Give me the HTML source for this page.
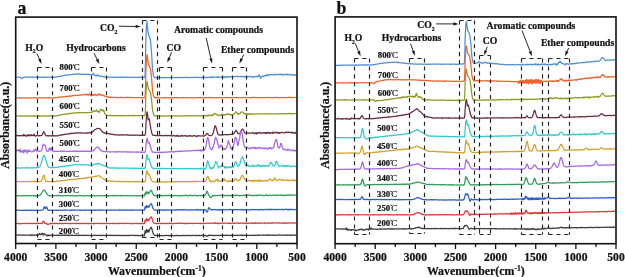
<!DOCTYPE html>
<html><head><meta charset="utf-8"><style>
html,body{margin:0;padding:0;background:#fff;width:625px;height:277px;overflow:hidden}
svg{display:block;will-change:transform}
text{font-family:"Liberation Serif",serif;font-weight:bold;fill:#111;stroke:#111;stroke-width:0.22px}
.tr{fill:none;stroke-width:1.25;stroke-linejoin:round}
.db{fill:none;stroke:#222;stroke-width:1.15;stroke-dasharray:4.1 3.8}
.tk{font-size:11.6px}
.tl{font-size:8.7px}
.deg{font-size:6px;font-weight:normal}
.cc{font-weight:normal;font-size:8.8px}
.an{font-size:9.7px}
.sub{font-size:5.8px}
.sup{font-size:7.6px}
.ax{font-size:11.85px}
.pl{font-size:17.8px}
</style></head><body>
<svg width="625" height="277" viewBox="0 0 625 277">
<rect width="625" height="277" fill="#fff"/>
<path d="M16.2 77.20L16.7 77.24L17.2 77.17L17.7 77.09L18.2 77.15L18.7 77.08L19.2 77.21L19.7 77.38L20.2 77.25L20.7 77.50L21.2 78.11L21.7 78.55L22.2 78.57L22.7 78.04L23.2 77.65L23.7 77.43L24.2 77.07L24.7 77.15L25.2 76.97L25.7 77.05L26.2 76.98L26.7 77.17L27.2 77.05L27.7 77.23L28.2 77.22L28.7 77.18L29.2 76.90L29.7 77.14L30.2 77.19L30.7 77.21L31.2 77.02L31.7 77.14L32.2 77.08L32.7 77.10L33.2 77.33L33.7 77.10L34.2 77.20L34.7 77.31L35.2 77.13L35.7 77.19L36.2 77.21L36.7 77.21L37.2 77.05L37.7 77.21L38.2 77.36L38.7 77.01L39.2 77.30L39.7 77.21L40.2 77.12L40.7 77.44L41.2 77.29L41.7 77.06L42.2 77.21L42.7 77.27L43.2 77.18L43.7 77.28L44.2 77.19L44.7 77.28L45.2 77.37L45.7 77.12L46.2 77.22L46.7 77.14L47.2 77.22L47.7 77.06L48.2 77.13L48.7 77.18L49.2 77.31L49.7 77.34L50.2 77.04L50.7 77.10L51.2 77.28L51.7 76.96L52.2 77.14L52.7 77.19L53.2 77.35L53.7 77.28L54.2 77.16L54.7 77.16L55.2 77.13L55.7 77.26L56.2 76.93L56.7 76.85L57.2 76.84L57.7 76.69L58.2 76.59L58.7 76.39L59.2 76.43L59.7 76.29L60.2 76.39L60.7 76.24L61.2 76.07L61.7 76.06L62.2 75.85L62.7 75.93L63.2 75.71L63.7 75.69L64.2 75.37L64.7 75.48L65.2 75.14L65.7 75.01L66.2 75.14L66.7 75.02L67.2 75.09L67.7 75.28L68.2 74.86L68.7 74.83L69.2 74.87L69.7 74.85L70.2 74.72L70.7 74.66L71.2 74.71L71.7 74.64L72.2 74.39L72.7 74.45L73.2 74.41L73.7 74.23L74.2 74.33L74.7 74.14L75.2 74.30L75.7 74.16L76.2 74.12L76.7 74.05L77.2 74.12L77.7 73.91L78.2 74.03L78.7 74.22L79.2 73.94L79.7 74.31L80.2 74.01L80.7 74.33L81.2 74.15L81.7 74.36L82.2 74.29L82.7 74.11L83.2 74.46L83.7 74.49L84.2 74.33L84.7 74.32L85.2 74.34L85.7 74.26L86.2 74.52L86.7 74.34L87.2 74.41L87.7 74.34L88.2 73.87L88.7 74.45L89.2 74.70L89.7 74.56L90.2 74.76L90.7 74.41L91.2 74.51L91.7 74.89L92.2 74.87L92.7 74.76L93.2 73.40L93.7 73.92L94.2 74.98L94.7 75.37L95.2 75.61L95.7 75.29L96.2 76.16L96.7 75.60L97.2 74.95L97.7 75.57L98.2 75.25L98.7 75.35L99.2 75.50L99.7 76.47L100.2 76.09L100.7 76.19L101.2 76.18L101.7 76.42L102.2 76.39L102.7 76.53L103.2 76.51L103.7 76.59L104.2 76.99L104.7 76.84L105.2 76.97L105.7 76.96L106.2 76.94L106.7 76.96L107.2 77.12L107.7 77.04L108.2 77.08L108.7 77.13L109.2 77.30L109.7 77.26L110.2 77.25L110.7 77.14L111.2 77.04L111.7 77.33L112.2 77.33L112.7 77.20L113.2 77.29L113.7 77.32L114.2 77.33L114.7 77.35L115.2 77.19L115.7 77.43L116.2 77.10L116.7 77.36L117.2 77.32L117.7 77.37L118.2 77.49L118.7 77.45L119.2 77.14L119.7 77.07L120.2 77.38L120.7 77.16L121.2 77.29L121.7 77.39L122.2 77.10L122.7 77.05L123.2 77.34L123.7 77.31L124.2 77.28L124.7 77.32L125.2 77.22L125.7 77.14L126.2 77.31L126.7 77.22L127.2 77.14L127.7 77.40L128.2 77.34L128.7 77.40L129.2 77.23L129.7 77.28L130.2 77.24L130.7 77.26L131.2 77.39L131.7 77.28L132.2 77.42L132.7 77.42L133.2 77.63L133.7 77.22L134.2 77.50L134.7 77.39L135.2 77.40L135.7 77.23L136.2 77.35L136.7 77.50L137.2 77.41L137.7 77.43L138.2 77.39L138.7 77.57L139.2 77.43L139.7 77.17L140.2 77.36L140.7 77.21L141.2 77.06L141.7 77.39L142.2 77.62L142.7 77.47L143.2 77.32L143.7 77.36L144.2 77.61L144.6 77.50L145.1 75.25L145.5 60.71L145.7 45.07L146.4 25.60L147.0 21.66L147.6 28.33L148.2 33.22L148.7 35.09L149.5 36.63L150.5 40.76L151.5 52.22L152.5 69.14L153.5 75.87L154.5 77.40L155.2 77.77L155.7 77.74L156.2 77.51L156.7 77.67L157.2 77.62L157.7 77.27L158.2 77.62L158.7 77.58L159.2 77.60L159.7 77.47L160.2 77.57L160.7 77.58L161.2 77.74L161.7 77.63L162.2 77.59L162.7 77.77L163.2 77.52L163.7 77.54L164.2 77.37L164.7 77.77L165.2 77.69L165.7 77.69L166.2 77.66L166.7 77.59L167.2 77.60L167.7 77.54L168.2 77.54L168.7 77.57L169.2 77.74L169.7 77.63L170.2 77.55L170.7 77.49L171.2 77.48L171.7 77.75L172.2 77.61L172.7 77.56L173.2 77.51L173.7 77.41L174.2 77.54L174.7 77.65L175.2 77.49L175.7 77.51L176.2 77.51L176.7 77.55L177.2 77.34L177.7 77.50L178.2 77.42L178.7 77.63L179.2 77.43L179.7 77.59L180.2 77.70L180.7 77.48L181.2 77.44L181.7 77.54L182.2 77.51L182.7 77.39L183.2 77.56L183.7 77.75L184.2 77.47L184.7 77.48L185.2 77.37L185.7 77.54L186.2 77.35L186.7 77.36L187.2 77.64L187.7 77.38L188.2 77.62L188.7 77.67L189.2 77.51L189.7 77.55L190.2 77.71L190.7 77.45L191.2 77.40L191.7 77.31L192.2 77.48L192.7 77.65L193.2 77.58L193.7 77.35L194.2 77.36L194.7 77.40L195.2 77.49L195.7 77.43L196.2 77.48L196.7 77.49L197.2 77.42L197.7 77.44L198.2 77.47L198.7 77.44L199.2 77.50L199.7 77.67L200.2 77.44L200.7 77.50L201.2 77.58L201.7 77.80L202.2 77.18L202.7 77.21L203.2 77.28L203.7 77.37L204.2 77.49L204.7 77.30L205.2 77.40L205.7 77.53L206.2 77.34L206.7 77.67L207.2 77.58L207.7 77.43L208.2 77.48L208.7 77.48L209.2 77.32L209.7 77.34L210.2 77.21L210.7 76.91L211.2 77.61L211.7 77.46L212.2 77.52L212.7 76.92L213.2 77.29L213.7 77.15L214.2 77.05L214.7 76.76L215.2 77.01L215.7 77.22L216.2 77.37L216.7 77.04L217.2 77.19L217.7 77.43L218.2 76.38L218.7 77.00L219.2 77.24L219.7 77.27L220.2 77.37L220.7 77.41L221.2 77.13L221.7 76.94L222.2 77.06L222.7 76.98L223.2 77.03L223.7 76.91L224.2 77.50L224.7 76.97L225.2 77.07L225.7 76.89L226.2 77.11L226.7 76.72L227.2 77.45L227.7 76.62L228.2 76.97L228.7 76.68L229.2 76.96L229.7 76.78L230.2 76.71L230.7 76.86L231.2 76.57L231.7 76.83L232.2 76.73L232.7 76.55L233.2 76.60L233.7 76.59L234.2 76.62L234.7 76.55L235.2 76.50L235.7 76.57L236.2 76.48L236.7 76.45L237.2 76.60L237.7 76.72L238.2 76.43L238.7 76.61L239.2 76.54L239.7 76.50L240.2 76.34L240.7 76.33L241.2 76.89L241.7 76.37L242.2 76.29L242.7 76.86L243.2 76.66L243.7 76.83L244.2 76.50L244.7 76.97L245.2 76.57L245.7 76.78L246.2 76.40L246.7 76.44L247.2 76.81L247.7 76.36L248.2 76.81L248.7 76.51L249.2 76.50L249.7 76.54L250.2 76.35L250.7 76.88L251.2 76.63L251.7 76.37L252.2 76.84L252.7 77.14L253.2 77.03L253.7 76.73L254.2 76.63L254.7 76.97L255.2 76.71L255.7 76.34L256.2 76.76L256.7 76.68L257.2 76.33L257.7 76.05L258.2 76.51L258.7 76.23L259.2 74.79L259.7 75.68L260.2 77.53L260.7 78.31L261.2 77.33L261.7 76.73L262.2 76.24L262.7 76.30L263.2 75.95L263.7 76.61L264.2 76.19L264.7 75.66L265.2 75.57L265.7 75.58L266.2 75.89L266.7 74.67L267.2 75.07L267.7 74.91L268.2 75.75L268.7 74.97L269.2 74.66L269.7 74.58L270.2 74.90L270.7 74.62L271.2 74.53L271.7 74.78L272.2 74.55L272.7 74.48L273.2 74.37L273.7 75.03L274.2 74.98L274.7 74.70L275.2 74.62L275.7 74.07L276.2 74.75L276.7 74.71L277.2 74.94L277.7 74.77L278.2 74.45L278.7 74.20L279.2 74.66L279.7 74.37L280.2 74.57L280.7 74.39L281.2 74.66L281.7 74.09L282.2 75.02L282.7 74.74L283.2 74.89L283.7 75.09L284.2 74.70L284.7 74.21L285.2 74.54L285.7 74.44L286.2 74.46L286.7 74.78L287.2 74.10L287.7 74.78L288.2 74.37L288.7 74.61L289.2 74.78L289.7 74.74L290.2 74.77L290.7 74.63L291.2 74.63L291.7 74.30L292.2 74.80L292.7 75.24L293.2 75.36L293.7 75.05L294.2 75.08L294.7 74.73L295.2 75.23L295.7 74.83L296.2 74.97" stroke="#4f8fd4" class="tr"/>
<path d="M16.2 97.99L16.7 97.96L17.2 98.00L17.7 97.94L18.2 97.98L18.7 97.86L19.2 97.94L19.7 98.25L20.2 97.97L20.7 97.95L21.2 98.04L21.7 98.06L22.2 97.83L22.7 97.94L23.2 98.07L23.7 97.99L24.2 97.97L24.7 98.14L25.2 97.87L25.7 97.96L26.2 97.89L26.7 98.12L27.2 97.71L27.7 97.86L28.2 97.87L28.7 98.01L29.2 98.01L29.7 98.10L30.2 97.74L30.7 98.01L31.2 97.89L31.7 97.84L32.2 97.98L32.7 97.80L33.2 97.66L33.7 97.86L34.2 97.73L34.7 97.83L35.2 97.95L35.7 97.94L36.2 98.09L36.7 97.87L37.2 97.71L37.7 97.80L38.2 97.78L38.7 97.74L39.2 97.93L39.7 97.80L40.2 97.64L40.7 97.96L41.2 97.86L41.7 97.91L42.2 97.88L42.7 97.94L43.2 97.87L43.7 98.01L44.2 97.91L44.7 97.90L45.2 97.90L45.7 97.67L46.2 97.83L46.7 97.81L47.2 97.86L47.7 97.67L48.2 98.03L48.7 97.84L49.2 97.68L49.7 97.62L50.2 97.79L50.7 97.81L51.2 97.73L51.7 97.83L52.2 97.74L52.7 97.88L53.2 97.72L53.7 97.80L54.2 97.92L54.7 98.11L55.2 97.66L55.7 97.66L56.2 97.56L56.7 97.69L57.2 97.40L57.7 97.42L58.2 97.41L58.7 97.24L59.2 97.18L59.7 97.18L60.2 96.92L60.7 96.94L61.2 97.01L61.7 97.01L62.2 96.91L62.7 96.66L63.2 96.76L63.7 96.85L64.2 96.76L64.7 96.63L65.2 96.47L65.7 96.59L66.2 96.39L66.7 96.26L67.2 96.24L67.7 96.45L68.2 96.24L68.7 96.30L69.2 96.04L69.7 96.15L70.2 95.91L70.7 95.91L71.2 96.18L71.7 95.92L72.2 95.72L72.7 95.72L73.2 95.72L73.7 95.78L74.2 95.52L74.7 95.32L75.2 95.45L75.7 95.43L76.2 95.39L76.7 95.49L77.2 95.32L77.7 95.33L78.2 95.05L78.7 95.23L79.2 95.33L79.7 95.12L80.2 95.01L80.7 94.95L81.2 95.09L81.7 94.72L82.2 94.77L82.7 94.79L83.2 94.77L83.7 94.58L84.2 94.71L84.7 94.18L85.2 94.59L85.7 94.81L86.2 94.39L86.7 94.84L87.2 94.14L87.7 94.89L88.2 94.40L88.7 94.96L89.2 94.62L89.7 93.82L90.2 94.35L90.7 95.07L91.2 95.95L91.7 95.72L92.2 95.33L92.7 94.55L93.2 95.29L93.7 95.36L94.2 94.89L94.7 94.43L95.2 94.20L95.7 94.92L96.2 95.70L96.7 94.84L97.2 94.90L97.7 94.74L98.2 94.23L98.7 94.94L99.2 94.07L99.7 94.28L100.2 94.31L100.7 95.07L101.2 95.06L101.7 95.16L102.2 94.93L102.7 95.04L103.2 95.52L103.7 95.39L104.2 95.89L104.7 96.23L105.2 96.10L105.7 96.59L106.2 96.55L106.7 96.67L107.2 97.14L107.7 97.15L108.2 97.06L108.7 97.18L109.2 97.35L109.7 97.40L110.2 97.22L110.7 97.33L111.2 97.38L111.7 97.23L112.2 97.36L112.7 97.33L113.2 97.29L113.7 97.30L114.2 97.39L114.7 97.40L115.2 97.33L115.7 97.36L116.2 97.54L116.7 97.44L117.2 97.53L117.7 97.57L118.2 97.50L118.7 97.71L119.2 97.34L119.7 97.54L120.2 97.41L120.7 97.67L121.2 97.66L121.7 97.23L122.2 97.35L122.7 97.55L123.2 97.57L123.7 97.57L124.2 97.47L124.7 97.54L125.2 97.57L125.7 97.49L126.2 97.62L126.7 97.23L127.2 97.58L127.7 97.39L128.2 97.63L128.7 97.49L129.2 97.42L129.7 97.58L130.2 97.43L130.7 97.43L131.2 97.36L131.7 97.55L132.2 97.61L132.7 97.68L133.2 97.54L133.7 97.69L134.2 97.57L134.7 97.56L135.2 97.65L135.7 97.71L136.2 97.55L136.7 97.56L137.2 97.58L137.7 97.61L138.2 97.50L138.7 97.73L139.2 97.57L139.7 97.68L140.2 97.52L140.7 97.67L141.2 97.68L141.7 97.59L142.2 97.88L142.7 97.69L143.2 97.86L143.7 97.77L144.2 97.58L144.7 97.62L145.2 96.01L145.6 84.84L145.8 72.86L146.5 57.84L147.1 54.67L147.7 60.00L148.3 63.62L148.8 65.22L149.6 66.38L150.6 69.38L151.6 78.44L152.6 91.35L153.6 96.29L154.6 97.54L155.2 97.63L155.7 97.52L156.2 97.65L156.7 97.96L157.2 97.65L157.7 97.86L158.2 97.62L158.7 97.82L159.2 97.75L159.7 97.79L160.2 97.87L160.7 98.01L161.2 97.82L161.7 97.81L162.2 97.68L162.7 97.86L163.2 97.76L163.7 97.89L164.2 97.79L164.7 98.00L165.2 97.55L165.7 97.75L166.2 97.89L166.7 97.74L167.2 97.69L167.7 97.75L168.2 97.62L168.7 97.79L169.2 98.07L169.7 97.92L170.2 97.64L170.7 97.67L171.2 97.73L171.7 97.89L172.2 97.67L172.7 97.69L173.2 97.88L173.7 97.87L174.2 97.72L174.7 97.63L175.2 97.58L175.7 97.68L176.2 97.50L176.7 97.85L177.2 97.69L177.7 97.82L178.2 97.98L178.7 97.90L179.2 97.62L179.7 97.86L180.2 97.89L180.7 97.66L181.2 97.64L181.7 97.74L182.2 97.56L182.7 97.93L183.2 97.46L183.7 97.61L184.2 97.71L184.7 97.72L185.2 97.76L185.7 97.78L186.2 97.72L186.7 97.88L187.2 97.48L187.7 97.74L188.2 97.65L188.7 97.75L189.2 97.76L189.7 97.62L190.2 97.66L190.7 97.83L191.2 97.77L191.7 97.65L192.2 97.97L192.7 98.00L193.2 97.55L193.7 97.76L194.2 98.03L194.7 97.82L195.2 97.75L195.7 97.70L196.2 97.65L196.7 97.69L197.2 97.65L197.7 97.81L198.2 97.67L198.7 97.66L199.2 97.57L199.7 97.71L200.2 97.60L200.7 97.69L201.2 97.83L201.7 97.75L202.2 97.77L202.7 97.75L203.2 97.71L203.7 97.69L204.2 97.66L204.7 97.79L205.2 97.57L205.7 97.86L206.2 97.70L206.7 97.61L207.2 97.64L207.7 97.61L208.2 97.71L208.7 97.61L209.2 97.83L209.7 97.60L210.2 97.42L210.7 97.60L211.2 97.45L211.7 97.68L212.2 97.81L212.7 97.76L213.2 97.52L213.7 97.59L214.2 97.89L214.7 97.72L215.2 97.68L215.7 97.80L216.2 97.97L216.7 97.83L217.2 97.69L217.7 97.71L218.2 97.74L218.7 97.60L219.2 97.54L219.7 97.67L220.2 97.55L220.7 97.66L221.2 97.68L221.7 97.94L222.2 97.56L222.7 97.65L223.2 97.64L223.7 97.71L224.2 97.78L224.7 97.60L225.2 97.56L225.7 97.46L226.2 97.54L226.7 97.72L227.2 97.66L227.7 97.53L228.2 97.60L228.7 97.65L229.2 97.71L229.7 97.57L230.2 97.61L230.7 97.42L231.2 97.50L231.7 97.83L232.2 97.38L232.7 97.60L233.2 97.66L233.7 97.59L234.2 97.54L234.7 97.63L235.2 97.63L235.7 97.62L236.2 97.41L236.7 97.61L237.2 97.53L237.7 97.56L238.2 97.65L238.7 97.70L239.2 97.73L239.7 97.56L240.2 97.73L240.7 97.76L241.2 97.76L241.7 97.79L242.2 97.60L242.7 97.60L243.2 97.71L243.7 97.45L244.2 97.64L244.7 97.55L245.2 97.57L245.7 97.40L246.2 97.50L246.7 97.60L247.2 97.71L247.7 97.72L248.2 97.59L248.7 97.58L249.2 97.50L249.7 97.65L250.2 97.57L250.7 97.67L251.2 97.81L251.7 97.59L252.2 97.42L252.7 97.49L253.2 97.42L253.7 97.45L254.2 97.75L254.7 97.62L255.2 97.41L255.7 97.67L256.2 97.74L256.7 97.54L257.2 97.50L257.7 97.54L258.2 97.62L258.7 97.66L259.2 97.72L259.7 97.72L260.2 97.72L260.7 97.74L261.2 97.66L261.7 97.39L262.2 97.56L262.7 97.61L263.2 97.53L263.7 97.68L264.2 97.53L264.7 97.46L265.2 97.74L265.7 97.65L266.2 97.59L266.7 97.67L267.2 97.69L267.7 97.60L268.2 97.27L268.7 97.48L269.2 97.50L269.7 97.44L270.2 97.58L270.7 97.70L271.2 97.50L271.7 97.42L272.2 97.80L272.7 97.50L273.2 97.40L273.7 97.58L274.2 97.60L274.7 97.46L275.2 97.64L275.7 97.49L276.2 97.43L276.7 97.56L277.2 97.63L277.7 97.46L278.2 97.58L278.7 97.53L279.2 97.88L279.7 97.45L280.2 97.70L280.7 97.53L281.2 97.52L281.7 97.62L282.2 97.64L282.7 97.68L283.2 97.57L283.7 97.45L284.2 97.46L284.7 97.59L285.2 97.59L285.7 97.69L286.2 97.57L286.7 97.65L287.2 97.70L287.7 97.54L288.2 97.34L288.7 97.37L289.2 97.34L289.7 97.70L290.2 97.41L290.7 97.66L291.2 97.58L291.7 97.72L292.2 97.63L292.7 97.49L293.2 97.48L293.7 97.52L294.2 97.52L294.7 97.44L295.2 97.50L295.7 97.69L296.2 97.30" stroke="#f0622c" class="tr"/>
<path d="M16.2 115.84L16.7 115.85L17.2 115.94L17.7 115.78L18.2 115.84L18.7 115.80L19.2 116.02L19.7 116.05L20.2 116.24L20.7 115.82L21.2 115.92L21.7 116.11L22.2 115.97L22.7 115.96L23.2 116.21L23.7 115.96L24.2 115.86L24.7 115.84L25.2 116.04L25.7 116.04L26.2 115.84L26.7 115.88L27.2 116.06L27.7 116.07L28.2 115.92L28.7 116.07L29.2 116.07L29.7 115.79L30.2 115.96L30.7 116.05L31.2 115.93L31.7 115.74L32.2 115.97L32.7 116.09L33.2 116.19L33.7 115.74L34.2 116.31L34.7 115.86L35.2 116.11L35.7 116.15L36.2 116.12L36.7 116.02L37.2 115.86L37.7 116.08L38.2 115.91L38.7 115.70L39.2 116.34L39.7 116.08L40.2 116.22L40.7 115.89L41.2 116.18L41.7 116.19L42.2 116.19L42.7 116.00L43.2 115.86L43.7 115.98L44.2 115.74L44.7 115.80L45.2 116.01L45.7 115.88L46.2 115.98L46.7 115.99L47.2 116.23L47.7 116.16L48.2 115.99L48.7 116.15L49.2 115.91L49.7 115.96L50.2 116.11L50.7 115.85L51.2 115.97L51.7 115.84L52.2 116.01L52.7 116.20L53.2 115.91L53.7 116.03L54.2 115.89L54.7 115.86L55.2 115.82L55.7 116.05L56.2 116.07L56.7 115.75L57.2 115.51L57.7 115.59L58.2 115.38L58.7 115.42L59.2 115.27L59.7 115.18L60.2 115.13L60.7 114.89L61.2 114.82L61.7 114.58L62.2 114.64L62.7 114.43L63.2 114.49L63.7 114.30L64.2 114.34L64.7 114.29L65.2 113.98L65.7 113.96L66.2 113.86L66.7 114.01L67.2 114.06L67.7 113.90L68.2 113.69L68.7 113.85L69.2 113.43L69.7 113.74L70.2 113.42L70.7 113.10L71.2 113.69L71.7 113.51L72.2 113.13L72.7 113.22L73.2 113.11L73.7 113.09L74.2 112.84L74.7 112.87L75.2 112.95L75.7 112.86L76.2 112.94L76.7 112.79L77.2 113.06L77.7 112.68L78.2 112.78L78.7 112.51L79.2 112.58L79.7 112.88L80.2 112.60L80.7 112.76L81.2 112.68L81.7 112.55L82.2 112.63L82.7 112.59L83.2 112.59L83.7 112.73L84.2 112.70L84.7 112.54L85.2 112.49L85.7 112.63L86.2 112.57L86.7 112.69L87.2 112.88L87.7 112.65L88.2 112.53L88.7 112.51L89.2 112.41L89.7 112.40L90.2 112.38L90.7 112.46L91.2 112.44L91.7 112.52L92.2 112.26L92.7 111.81L93.2 111.19L93.7 111.50L94.2 110.68L94.7 111.21L95.2 111.46L95.7 111.09L96.2 110.59L96.7 109.99L97.2 111.50L97.7 111.14L98.2 111.59L98.7 111.72L99.2 112.48L99.7 110.95L100.2 110.01L100.7 109.40L101.2 109.46L101.7 110.24L102.2 110.01L102.7 111.25L103.2 109.81L103.7 110.94L104.2 111.09L104.7 113.55L105.2 114.03L105.7 114.59L106.2 115.08L106.7 115.26L107.2 115.32L107.7 115.42L108.2 115.43L108.7 115.20L109.2 115.52L109.7 115.81L110.2 115.25L110.7 115.62L111.2 115.57L111.7 115.53L112.2 115.74L112.7 115.45L113.2 115.64L113.7 115.82L114.2 115.64L114.7 115.63L115.2 115.71L115.7 115.64L116.2 115.88L116.7 115.57L117.2 115.79L117.7 115.52L118.2 115.76L118.7 115.66L119.2 115.35L119.7 115.66L120.2 115.53L120.7 115.60L121.2 115.84L121.7 115.51L122.2 115.51L122.7 115.82L123.2 115.65L123.7 115.82L124.2 115.67L124.7 115.51L125.2 115.61L125.7 115.77L126.2 115.73L126.7 115.61L127.2 115.61L127.7 115.58L128.2 115.52L128.7 115.83L129.2 115.59L129.7 115.44L130.2 115.52L130.7 115.66L131.2 115.65L131.7 115.55L132.2 115.48L132.7 115.56L133.2 115.35L133.7 115.39L134.2 115.64L134.7 115.48L135.2 115.58L135.7 115.68L136.2 115.61L136.7 115.53L137.2 115.78L137.7 115.60L138.2 115.47L138.7 115.60L139.2 115.56L139.7 115.40L140.2 115.51L140.7 115.50L141.2 115.29L141.7 115.52L142.2 115.52L142.7 115.51L143.2 115.38L143.7 115.55L144.2 115.60L144.7 115.63L145.2 114.12L145.6 105.43L145.8 95.60L146.5 83.74L147.1 81.54L147.7 85.42L148.3 88.55L148.8 89.78L149.6 90.65L150.6 93.09L151.6 100.38L152.6 110.80L153.6 114.54L154.6 115.76L155.2 115.76L155.7 115.76L156.2 115.80L156.7 115.81L157.2 115.97L157.7 115.83L158.2 115.97L158.7 116.02L159.2 115.89L159.7 116.01L160.2 116.20L160.7 116.04L161.2 115.92L161.7 115.98L162.2 115.88L162.7 116.02L163.2 116.09L163.7 115.88L164.2 115.96L164.7 116.12L165.2 115.92L165.7 116.00L166.2 115.85L166.7 115.87L167.2 115.91L167.7 116.23L168.2 115.91L168.7 115.90L169.2 115.89L169.7 115.94L170.2 116.03L170.7 115.98L171.2 116.20L171.7 115.97L172.2 116.12L172.7 115.98L173.2 116.01L173.7 115.77L174.2 115.92L174.7 115.93L175.2 115.90L175.7 115.67L176.2 116.03L176.7 115.88L177.2 115.87L177.7 115.89L178.2 115.89L178.7 115.97L179.2 115.76L179.7 115.80L180.2 115.95L180.7 115.93L181.2 115.86L181.7 115.83L182.2 115.80L182.7 115.89L183.2 116.04L183.7 115.77L184.2 116.08L184.7 115.99L185.2 115.83L185.7 115.98L186.2 115.71L186.7 115.67L187.2 115.72L187.7 115.83L188.2 115.84L188.7 115.81L189.2 115.88L189.7 115.61L190.2 115.93L190.7 115.69L191.2 115.78L191.7 115.81L192.2 115.72L192.7 115.69L193.2 115.73L193.7 115.85L194.2 115.92L194.7 115.91L195.2 115.72L195.7 115.75L196.2 115.73L196.7 115.89L197.2 115.59L197.7 115.98L198.2 115.77L198.7 115.73L199.2 115.87L199.7 115.95L200.2 115.86L200.7 115.95L201.2 115.83L201.7 115.96L202.2 115.96L202.7 115.80L203.2 115.98L203.7 115.83L204.2 115.81L204.7 115.69L205.2 115.66L205.7 115.85L206.2 115.87L206.7 116.19L207.2 115.42L207.7 115.62L208.2 114.99L208.7 115.68L209.2 115.68L209.7 115.42L210.2 115.40L210.7 115.17L211.2 115.40L211.7 115.57L212.2 115.95L212.7 114.40L213.2 114.94L213.7 114.30L214.2 114.24L214.7 113.27L215.2 113.50L215.7 113.81L216.2 114.37L216.7 114.62L217.2 114.90L217.7 115.14L218.2 115.29L218.7 114.98L219.2 115.32L219.7 115.08L220.2 115.22L220.7 115.39L221.2 115.13L221.7 114.20L222.2 114.00L222.7 114.99L223.2 115.07L223.7 114.58L224.2 114.78L224.7 114.73L225.2 115.10L225.7 114.43L226.2 114.69L226.7 114.21L227.2 114.04L227.7 114.27L228.2 113.54L228.7 114.09L229.2 114.70L229.7 114.76L230.2 114.51L230.7 114.88L231.2 114.51L231.7 115.12L232.2 114.84L232.7 114.21L233.2 114.54L233.7 114.46L234.2 114.07L234.7 113.80L235.2 112.73L235.7 111.94L236.2 112.07L236.7 112.01L237.2 113.13L237.7 113.51L238.2 114.65L238.7 114.29L239.2 113.38L239.7 113.45L240.2 113.66L240.7 112.51L241.2 112.15L241.7 111.81L242.2 111.98L242.7 112.11L243.2 112.46L243.7 113.55L244.2 113.25L244.7 113.89L245.2 113.53L245.7 113.77L246.2 114.42L246.7 113.63L247.2 113.91L247.7 114.53L248.2 113.86L248.7 114.15L249.2 113.72L249.7 114.57L250.2 113.94L250.7 114.11L251.2 113.90L251.7 114.12L252.2 113.89L252.7 113.93L253.2 114.20L253.7 114.01L254.2 113.98L254.7 114.23L255.2 114.00L255.7 113.85L256.2 114.03L256.7 113.80L257.2 114.07L257.7 114.08L258.2 113.86L258.7 113.85L259.2 113.94L259.7 113.92L260.2 113.79L260.7 113.98L261.2 113.66L261.7 113.85L262.2 113.85L262.7 113.86L263.2 113.92L263.7 113.73L264.2 113.95L264.7 113.85L265.2 113.79L265.7 113.70L266.2 113.72L266.7 113.90L267.2 113.73L267.7 113.85L268.2 113.97L268.7 113.96L269.2 114.02L269.7 113.79L270.2 113.69L270.7 113.94L271.2 113.85L271.7 113.95L272.2 113.81L272.7 113.95L273.2 113.90L273.7 113.88L274.2 113.85L274.7 113.83L275.2 113.81L275.7 113.80L276.2 113.89L276.7 113.71L277.2 113.97L277.7 113.75L278.2 113.87L278.7 113.74L279.2 113.72L279.7 113.99L280.2 113.70L280.7 113.58L281.2 113.64L281.7 113.69L282.2 113.98L282.7 113.74L283.2 113.82L283.7 113.59L284.2 113.74L284.7 113.78L285.2 113.91L285.7 113.61L286.2 113.76L286.7 113.72L287.2 113.55L287.7 113.67L288.2 113.64L288.7 113.38L289.2 113.73L289.7 113.72L290.2 113.60L290.7 113.49L291.2 113.82L291.7 113.67L292.2 113.76L292.7 113.80L293.2 113.56L293.7 113.72L294.2 113.59L294.7 113.60L295.2 113.60L295.7 113.60L296.2 113.73" stroke="#8f9a24" class="tr"/>
<path d="M16.2 135.73L16.7 135.63L17.2 135.40L17.7 135.48L18.2 135.73L18.7 135.82L19.2 135.65L19.7 135.77L20.2 135.55L20.7 135.60L21.2 135.63L21.7 135.68L22.2 135.97L22.7 135.58L23.2 135.67L23.7 134.30L24.2 135.77L24.7 135.41L25.2 135.18L25.7 135.58L26.2 136.41L26.7 135.65L27.2 135.84L27.7 134.86L28.2 134.65L28.7 135.78L29.2 135.82L29.7 135.01L30.2 135.61L30.7 135.04L31.2 134.57L31.7 135.62L32.2 135.71L32.7 135.15L33.2 135.19L33.7 135.63L34.2 134.17L34.7 135.72L35.2 135.92L35.7 136.18L36.2 135.59L36.7 135.67L37.2 135.54L37.7 135.67L38.2 135.77L38.7 135.89L39.2 135.63L39.7 135.72L40.2 135.67L40.7 135.62L41.2 135.52L41.7 135.47L42.2 134.70L42.7 133.85L43.2 132.53L43.7 131.68L44.2 131.99L44.7 133.15L45.2 134.78L45.7 135.15L46.2 135.82L46.7 135.80L47.2 135.71L47.7 135.62L48.2 135.88L48.7 135.97L49.2 135.65L49.7 135.73L50.2 135.89L50.7 135.81L51.2 136.01L51.7 135.71L52.2 135.84L52.7 135.63L53.2 136.03L53.7 135.70L54.2 135.52L54.7 135.78L55.2 135.78L55.7 136.03L56.2 135.76L56.7 135.78L57.2 135.77L57.7 135.80L58.2 135.52L58.7 135.57L59.2 135.42L59.7 135.24L60.2 135.20L60.7 135.11L61.2 134.91L61.7 135.08L62.2 134.68L62.7 134.90L63.2 134.79L63.7 134.58L64.2 134.41L64.7 134.39L65.2 134.39L65.7 134.34L66.2 134.21L66.7 134.23L67.2 133.97L67.7 134.00L68.2 133.72L68.7 133.93L69.2 133.79L69.7 133.66L70.2 133.78L70.7 133.66L71.2 133.17L71.7 133.45L72.2 133.20L72.7 133.44L73.2 133.54L73.7 133.12L74.2 133.12L74.7 133.02L75.2 133.02L75.7 132.99L76.2 133.06L76.7 132.79L77.2 133.10L77.7 132.80L78.2 132.95L78.7 133.06L79.2 133.01L79.7 132.81L80.2 132.85L80.7 132.88L81.2 132.93L81.7 133.08L82.2 132.79L82.7 133.00L83.2 133.02L83.7 133.02L84.2 133.01L84.7 133.14L85.2 133.02L85.7 133.07L86.2 133.04L86.7 133.19L87.2 132.75L87.7 133.13L88.2 132.95L88.7 132.94L89.2 132.84L89.7 132.70L90.2 132.81L90.7 132.67L91.2 132.65L91.7 132.18L92.2 132.22L92.7 131.70L93.2 131.20L93.7 130.69L94.2 130.24L94.7 129.80L95.2 129.52L95.7 129.29L96.2 129.01L96.7 128.62L97.2 128.54L97.7 128.29L98.2 128.31L98.7 128.52L99.2 128.53L99.7 128.74L100.2 129.05L100.7 129.65L101.2 130.25L101.7 131.15L102.2 131.53L102.7 132.09L103.2 132.38L103.7 132.73L104.2 133.07L104.7 132.95L105.2 133.06L105.7 133.05L106.2 133.28L106.7 133.16L107.2 133.24L107.7 133.30L108.2 133.39L108.7 133.71L109.2 134.05L109.7 133.72L110.2 134.04L110.7 134.05L111.2 133.98L111.7 134.17L112.2 134.26L112.7 134.30L113.2 134.70L113.7 134.33L114.2 134.70L114.7 134.79L115.2 134.73L115.7 134.83L116.2 134.93L116.7 134.85L117.2 134.89L117.7 134.93L118.2 134.61L118.7 135.04L119.2 135.15L119.7 135.00L120.2 135.01L120.7 134.73L121.2 134.90L121.7 134.82L122.2 134.86L122.7 135.05L123.2 134.85L123.7 134.94L124.2 134.73L124.7 134.95L125.2 134.99L125.7 134.91L126.2 134.91L126.7 135.23L127.2 134.87L127.7 134.90L128.2 134.94L128.7 135.19L129.2 135.30L129.7 135.10L130.2 134.98L130.7 135.03L131.2 135.22L131.7 134.99L132.2 135.28L132.7 135.28L133.2 135.13L133.7 135.21L134.2 135.23L134.7 135.34L135.2 135.03L135.7 135.31L136.2 135.13L136.7 135.09L137.2 135.21L137.7 135.18L138.2 135.09L138.7 135.03L139.2 135.12L139.7 135.41L140.2 135.48L140.7 135.33L141.2 135.41L141.7 135.21L142.2 135.27L142.7 135.33L143.2 135.17L143.7 135.19L144.2 135.33L144.7 135.29L145.0 135.21L145.5 133.03L146.0 123.52L146.6 114.24L147.2 111.77L147.8 116.47L148.2 119.83L148.7 118.39L149.3 119.28L150.0 123.57L150.8 128.45L151.8 133.17L152.8 135.15L153.6 135.28L154.2 135.45L154.7 135.46L155.2 135.54L155.7 135.47L156.2 135.47L156.7 135.64L157.2 135.57L157.7 135.42L158.2 135.73L158.7 135.70L159.2 135.52L159.7 135.69L160.2 135.27L160.7 135.68L161.2 135.61L161.7 135.68L162.2 135.45L162.7 135.30L163.2 135.85L163.7 135.87L164.2 135.72L164.7 135.45L165.2 135.29L165.7 135.68L166.2 135.60L166.7 135.44L167.2 135.82L167.7 135.67L168.2 135.40L168.7 135.70L169.2 135.67L169.7 135.54L170.2 135.70L170.7 135.30L171.2 135.83L171.7 135.79L172.2 135.88L172.7 135.90L173.2 135.49L173.7 135.40L174.2 135.83L174.7 135.92L175.2 136.19L175.7 135.78L176.2 135.48L176.7 136.11L177.2 135.55L177.7 135.43L178.2 136.46L178.7 135.96L179.2 135.98L179.7 135.84L180.2 136.42L180.7 135.89L181.2 136.10L181.7 135.57L182.2 135.35L182.7 135.93L183.2 136.15L183.7 135.96L184.2 135.83L184.7 135.71L185.2 135.51L185.7 136.10L186.2 135.79L186.7 136.05L187.2 136.06L187.7 136.40L188.2 136.06L188.7 135.93L189.2 135.52L189.7 135.55L190.2 136.23L190.7 135.75L191.2 135.97L191.7 136.13L192.2 136.15L192.7 136.04L193.2 135.65L193.7 136.17L194.2 135.54L194.7 135.69L195.2 135.86L195.7 136.05L196.2 136.24L196.7 136.65L197.2 135.94L197.7 136.10L198.2 135.73L198.7 135.83L199.2 135.71L199.7 135.91L200.2 135.91L200.7 136.06L201.2 136.00L201.7 135.94L202.2 135.96L202.7 135.93L203.2 136.08L203.7 135.95L204.2 136.01L204.7 135.85L205.2 135.47L205.7 135.18L206.2 134.11L206.7 133.61L207.2 133.47L207.7 133.78L208.2 134.65L208.7 135.28L209.2 135.50L209.7 135.52L210.2 135.74L210.7 135.58L211.2 135.58L211.7 135.31L212.2 135.01L212.7 134.12L213.2 132.89L213.7 131.05L214.2 128.77L214.7 126.77L215.2 125.73L215.7 126.26L216.2 127.84L216.7 129.89L217.2 131.85L217.7 133.51L218.2 134.65L218.7 134.76L219.2 135.01L219.7 135.06L220.2 134.69L220.7 134.99L221.2 134.86L221.7 135.08L222.2 134.85L222.7 134.75L223.2 134.79L223.7 134.80L224.2 134.68L224.7 134.71L225.2 134.52L225.7 134.63L226.2 134.71L226.7 134.82L227.2 134.64L227.7 134.55L228.2 134.63L228.7 134.58L229.2 134.62L229.7 134.52L230.2 134.34L230.7 134.36L231.2 134.32L231.7 134.30L232.2 134.25L232.7 134.09L233.2 133.84L233.7 133.80L234.2 133.16L234.7 132.57L235.2 131.49L235.7 130.45L236.2 130.62L236.7 131.30L237.2 132.21L237.7 133.24L238.2 133.74L238.7 133.53L239.2 133.75L239.7 133.43L240.2 132.92L240.7 132.14L241.2 130.83L241.7 129.74L242.2 129.04L242.7 129.09L243.2 129.90L243.7 130.80L244.2 131.86L244.7 132.77L245.2 133.08L245.7 133.29L246.2 133.06L246.7 133.18L247.2 133.18L247.7 133.22L248.2 133.13L248.7 133.30L249.2 133.18L249.7 133.18L250.2 132.79L250.7 133.01L251.2 133.02L251.7 132.93L252.2 132.70L252.7 132.67L253.2 133.29L253.7 133.20L254.2 133.59L254.7 133.58L255.2 133.02L255.7 133.43L256.2 132.59L256.7 134.02L257.2 133.48L257.7 132.73L258.2 132.80L258.7 133.19L259.2 132.24L259.7 132.73L260.2 133.18L260.7 133.29L261.2 132.90L261.7 133.14L262.2 132.69L262.7 133.04L263.2 133.03L263.7 132.55L264.2 132.86L264.7 132.62L265.2 133.57L265.7 132.69L266.2 133.37L266.7 132.60L267.2 133.33L267.7 132.26L268.2 132.58L268.7 132.89L269.2 133.41L269.7 132.49L270.2 133.27L270.7 132.72L271.2 132.97L271.7 132.92L272.2 133.14L272.7 132.15L273.2 133.18L273.7 133.27L274.2 132.63L274.7 132.38L275.2 132.25L275.7 132.13L276.2 132.82L276.7 132.60L277.2 132.32L277.7 132.59L278.2 133.44L278.7 132.58L279.2 132.60L279.7 133.28L280.2 132.76L280.7 132.77L281.2 132.39L281.7 132.29L282.2 132.35L282.7 132.53L283.2 132.45L283.7 132.82L284.2 132.77L284.7 132.83L285.2 132.72L285.7 132.20L286.2 132.00L286.7 132.54L287.2 132.22L287.7 132.53L288.2 132.48L288.7 132.13L289.2 132.23L289.7 132.47L290.2 132.57L290.7 132.33L291.2 132.93L291.7 132.67L292.2 132.17L292.7 132.76L293.2 133.19L293.7 132.34L294.2 133.04L294.7 133.04L295.2 133.33L295.7 132.25L296.2 132.36" stroke="#6b2c3c" class="tr"/>
<path d="M16.2 151.04L16.7 150.82L17.2 149.84L17.7 150.97L18.2 150.26L18.7 149.89L19.2 151.04L19.7 151.48L20.2 149.19L20.7 152.26L21.2 151.00L21.7 150.87L22.2 151.98L22.7 150.83L23.2 150.49L23.7 152.95L24.2 150.17L24.7 150.69L25.2 151.72L25.7 149.95L26.2 150.67L26.7 151.22L27.2 153.26L27.7 150.11L28.2 150.85L28.7 151.68L29.2 151.19L29.7 150.04L30.2 151.28L30.7 151.11L31.2 151.55L31.7 151.97L32.2 151.86L32.7 151.51L33.2 151.52L33.7 149.93L34.2 150.63L34.7 151.04L35.2 149.79L35.7 148.74L36.2 149.65L36.7 150.89L37.2 151.02L37.7 151.14L38.2 151.01L38.7 151.13L39.2 151.06L39.7 151.47L40.2 151.25L40.7 151.03L41.2 150.83L41.7 150.19L42.2 148.31L42.7 145.89L43.2 144.17L43.7 144.67L44.2 145.52L44.7 145.37L45.2 145.16L45.7 146.76L46.2 149.24L46.7 150.67L47.2 151.30L47.7 151.18L48.2 151.28L48.7 150.34L49.2 148.36L49.7 147.82L50.2 149.70L50.7 150.14L51.2 148.28L51.7 147.82L52.2 149.97L52.7 151.04L53.2 151.24L53.7 151.22L54.2 151.42L54.7 151.34L55.2 151.27L55.7 151.26L56.2 151.37L56.7 151.34L57.2 151.20L57.7 151.51L58.2 151.33L58.7 151.30L59.2 151.48L59.7 151.42L60.2 151.29L60.7 151.36L61.2 151.17L61.7 151.22L62.2 151.03L62.7 151.45L63.2 151.07L63.7 151.38L64.2 151.20L64.7 151.18L65.2 151.28L65.7 151.33L66.2 151.37L66.7 151.51L67.2 151.34L67.7 151.41L68.2 151.23L68.7 151.39L69.2 151.32L69.7 151.24L70.2 151.29L70.7 151.29L71.2 151.32L71.7 151.35L72.2 151.24L72.7 151.21L73.2 151.39L73.7 151.10L74.2 151.23L74.7 151.49L75.2 150.98L75.7 151.22L76.2 151.38L76.7 151.10L77.2 151.61L77.7 150.99L78.2 151.47L78.7 151.49L79.2 151.41L79.7 151.27L80.2 151.34L80.7 151.19L81.2 151.40L81.7 151.17L82.2 151.27L82.7 151.42L83.2 151.17L83.7 151.26L84.2 151.32L84.7 151.14L85.2 151.44L85.7 151.34L86.2 151.12L86.7 151.29L87.2 151.21L87.7 151.22L88.2 151.31L88.7 151.21L89.2 151.41L89.7 151.21L90.2 151.40L90.7 151.27L91.2 151.35L91.7 151.12L92.2 151.02L92.7 150.77L93.2 150.72L93.7 150.41L94.2 150.10L94.7 149.45L95.2 148.73L95.7 148.08L96.2 147.62L96.7 147.19L97.2 147.17L97.7 147.15L98.2 147.19L98.7 147.66L99.2 148.47L99.7 148.97L100.2 149.53L100.7 150.25L101.2 150.52L101.7 150.89L102.2 151.13L102.7 151.13L103.2 151.59L103.7 151.42L104.2 151.55L104.7 151.56L105.2 151.76L105.7 151.68L106.2 151.71L106.7 151.52L107.2 151.72L107.7 151.57L108.2 151.79L108.7 151.81L109.2 151.78L109.7 152.04L110.2 151.87L110.7 151.88L111.2 151.83L111.7 151.80L112.2 151.94L112.7 151.96L113.2 151.68L113.7 151.97L114.2 151.91L114.7 151.97L115.2 151.92L115.7 151.72L116.2 151.73L116.7 152.10L117.2 151.92L117.7 151.72L118.2 151.94L118.7 151.86L119.2 151.69L119.7 151.64L120.2 151.73L120.7 151.96L121.2 151.93L121.7 151.91L122.2 151.98L122.7 152.02L123.2 151.71L123.7 151.93L124.2 151.87L124.7 151.83L125.2 151.92L125.7 151.97L126.2 151.96L126.7 151.83L127.2 151.95L127.7 152.25L128.2 151.89L128.7 151.82L129.2 152.06L129.7 152.11L130.2 152.10L130.7 151.91L131.2 152.17L131.7 151.97L132.2 151.93L132.7 152.00L133.2 152.07L133.7 152.17L134.2 152.17L134.7 152.09L135.2 152.21L135.7 152.12L136.2 152.22L136.7 151.95L137.2 151.94L137.7 152.23L138.2 151.97L138.7 152.11L139.2 152.14L139.7 152.10L140.2 152.11L140.7 152.34L141.2 151.87L141.7 152.29L142.2 152.46L142.7 152.20L143.2 152.20L143.7 152.29L144.2 152.43L144.7 152.07L145.0 152.23L145.5 150.80L146.0 145.30L146.6 139.66L147.2 138.33L147.8 141.00L148.2 143.02L148.7 142.10L149.3 142.67L150.0 145.26L150.8 148.07L151.8 150.76L152.8 152.22L153.6 152.31L154.2 152.16L154.7 152.47L155.2 152.25L155.7 152.41L156.2 152.35L156.7 152.39L157.2 152.39L157.7 152.30L158.2 152.38L158.7 152.63L159.2 152.12L159.7 152.40L160.2 152.44L160.7 152.24L161.2 152.17L161.7 152.57L162.2 152.24L162.7 152.51L163.2 152.29L163.7 152.21L164.2 152.23L164.7 152.22L165.2 152.26L165.7 152.15L166.2 152.09L166.7 152.06L167.2 152.18L167.7 152.09L168.2 151.84L168.7 151.86L169.2 151.95L169.7 151.81L170.2 151.81L170.7 151.71L171.2 151.77L171.7 151.83L172.2 151.87L172.7 151.72L173.2 151.94L173.7 151.66L174.2 152.02L174.7 151.73L175.2 151.65L175.7 151.50L176.2 151.19L176.7 151.49L177.2 151.50L177.7 151.68L178.2 151.26L178.7 151.63L179.2 151.34L179.7 151.43L180.2 151.01L180.7 151.31L181.2 151.22L181.7 151.32L182.2 151.22L182.7 151.05L183.2 151.27L183.7 151.22L184.2 151.18L184.7 151.20L185.2 151.18L185.7 151.02L186.2 150.84L186.7 150.81L187.2 151.11L187.7 151.00L188.2 150.90L188.7 150.81L189.2 150.84L189.7 150.81L190.2 150.74L190.7 150.67L191.2 150.99L191.7 150.73L192.2 150.60L192.7 150.49L193.2 150.54L193.7 150.68L194.2 150.66L194.7 150.52L195.2 150.52L195.7 150.45L196.2 150.33L196.7 150.59L197.2 150.45L197.7 150.68L198.2 150.27L198.7 150.31L199.2 150.41L199.7 150.25L200.2 149.67L200.7 150.88L201.2 151.28L201.7 150.02L202.2 150.33L202.7 150.12L203.2 150.83L203.7 150.28L204.2 149.94L204.7 149.42L205.2 148.92L205.7 146.86L206.2 145.13L206.7 141.39L207.2 139.07L207.7 137.29L208.2 138.42L208.7 140.44L209.2 144.00L209.7 145.90L210.2 148.33L210.7 148.98L211.2 149.61L211.7 149.50L212.2 149.44L212.7 147.36L213.2 147.46L213.7 144.74L214.2 144.11L214.7 140.26L215.2 138.57L215.7 137.42L216.2 138.91L216.7 138.72L217.2 141.47L217.7 143.35L218.2 144.81L218.7 146.80L219.2 147.95L219.7 147.00L220.2 146.62L220.7 145.05L221.2 145.02L221.7 145.76L222.2 147.19L222.7 149.17L223.2 148.84L223.7 149.19L224.2 148.72L224.7 148.65L225.2 149.64L225.7 148.21L226.2 147.95L226.7 147.41L227.2 145.29L227.7 144.37L228.2 140.71L228.7 141.54L229.2 143.15L229.7 144.38L230.2 146.38L230.7 148.31L231.2 149.20L231.7 148.04L232.2 147.75L232.7 148.68L233.2 147.58L233.7 145.13L234.2 141.58L234.7 140.50L235.2 137.45L235.7 137.42L236.2 138.26L236.7 140.39L237.2 142.76L237.7 145.30L238.2 145.24L238.7 141.90L239.2 139.76L239.7 137.88L240.2 133.36L240.7 130.50L241.2 130.50L241.7 131.78L242.2 134.45L242.7 137.84L243.2 141.26L243.7 143.55L244.2 146.00L244.7 146.56L245.2 147.30L245.7 147.47L246.2 148.56L246.7 147.91L247.2 147.63L247.7 147.99L248.2 148.07L248.7 148.54L249.2 148.29L249.7 148.83L250.2 148.45L250.7 147.84L251.2 147.64L251.7 148.39L252.2 148.03L252.7 147.96L253.2 147.35L253.7 147.09L254.2 148.27L254.7 148.33L255.2 148.30L255.7 147.36L256.2 148.76L256.7 147.97L257.2 148.27L257.7 148.49L258.2 147.72L258.7 148.06L259.2 147.21L259.7 147.69L260.2 147.41L260.7 148.35L261.2 148.16L261.7 148.54L262.2 148.48L262.7 147.96L263.2 148.47L263.7 148.07L264.2 148.81L264.7 148.45L265.2 147.78L265.7 148.53L266.2 148.59L266.7 148.29L267.2 148.66L267.7 149.22L268.2 148.34L268.7 148.29L269.2 147.54L269.7 148.26L270.2 148.38L270.7 147.41L271.2 148.91L271.7 148.92L272.2 148.38L272.7 148.25L273.2 147.47L273.7 147.48L274.2 144.79L274.7 143.08L275.2 142.07L275.7 139.50L276.2 139.45L276.7 140.46L277.2 142.47L277.7 145.39L278.2 147.63L278.7 147.61L279.2 148.17L279.7 147.48L280.2 145.68L280.7 143.30L281.2 143.48L281.7 144.47L282.2 147.45L282.7 148.54L283.2 149.48L283.7 149.32L284.2 149.02L284.7 149.72L285.2 149.87L285.7 149.38L286.2 149.95L286.7 150.36L287.2 150.34L287.7 149.33L288.2 149.05L288.7 150.03L289.2 150.27L289.7 150.09L290.2 150.03L290.7 150.11L291.2 150.68L291.7 150.38L292.2 150.53L292.7 150.04L293.2 150.22L293.7 150.80L294.2 150.14L294.7 150.08L295.2 150.56L295.7 151.25L296.2 150.70" stroke="#a866e4" class="tr"/>
<path d="M16.2 168.02L16.7 168.17L17.2 167.97L17.7 167.94L18.2 167.80L18.7 167.90L19.2 168.13L19.7 167.99L20.2 168.03L20.7 168.02L21.2 167.93L21.7 167.90L22.2 167.93L22.7 167.99L23.2 167.96L23.7 167.96L24.2 167.91L24.7 167.80L25.2 167.85L25.7 167.76L26.2 167.99L26.7 167.61L27.2 167.83L27.7 168.14L28.2 167.80L28.7 167.70L29.2 167.83L29.7 167.98L30.2 167.80L30.7 167.89L31.2 167.82L31.7 167.75L32.2 168.17L32.7 167.79L33.2 167.72L33.7 167.71L34.2 167.81L34.7 167.81L35.2 167.85L35.7 167.76L36.2 167.57L36.7 167.79L37.2 167.66L37.7 167.62L38.2 167.39L38.7 167.34L39.2 167.04L39.7 166.64L40.2 165.72L40.7 164.82L41.2 163.41L41.7 161.55L42.2 159.75L42.7 157.95L43.2 156.73L43.7 155.48L44.2 155.66L44.7 156.18L45.2 157.64L45.7 159.51L46.2 161.19L46.7 163.02L47.2 164.38L47.7 165.84L48.2 166.52L48.7 167.06L49.2 167.07L49.7 167.27L50.2 167.61L50.7 167.50L51.2 167.50L51.7 167.58L52.2 167.38L52.7 167.62L53.2 167.53L53.7 167.57L54.2 167.43L54.7 167.57L55.2 167.39L55.7 167.52L56.2 167.47L56.7 167.38L57.2 167.26L57.7 167.21L58.2 166.74L58.7 167.10L59.2 166.89L59.7 166.87L60.2 166.76L60.7 166.56L61.2 166.59L61.7 166.67L62.2 166.69L62.7 166.38L63.2 166.27L63.7 166.49L64.2 166.14L64.7 166.43L65.2 166.12L65.7 165.93L66.2 166.09L66.7 166.10L67.2 165.66L67.7 165.94L68.2 165.65L68.7 165.79L69.2 165.50L69.7 165.28L70.2 165.46L70.7 165.44L71.2 165.51L71.7 165.39L72.2 165.20L72.7 165.01L73.2 164.91L73.7 164.86L74.2 164.73L74.7 164.72L75.2 164.38L75.7 164.64L76.2 164.61L76.7 164.93L77.2 164.73L77.7 164.60L78.2 164.74L78.7 164.53L79.2 164.62L79.7 164.49L80.2 164.90L80.7 164.81L81.2 164.61L81.7 164.76L82.2 164.89L82.7 164.85L83.2 164.85L83.7 164.72L84.2 164.76L84.7 164.86L85.2 164.98L85.7 164.78L86.2 164.76L86.7 165.04L87.2 164.81L87.7 165.06L88.2 164.98L88.7 165.07L89.2 165.19L89.7 165.07L90.2 165.06L90.7 164.78L91.2 164.73L91.7 164.81L92.2 164.84L92.7 164.75L93.2 164.78L93.7 164.46L94.2 164.37L94.7 164.39L95.2 164.19L95.7 164.11L96.2 163.91L96.7 164.08L97.2 163.75L97.7 163.86L98.2 163.55L98.7 163.78L99.2 163.56L99.7 164.00L100.2 163.92L100.7 164.27L101.2 164.67L101.7 164.65L102.2 164.96L102.7 165.11L103.2 165.10L103.7 165.63L104.2 165.85L104.7 165.88L105.2 166.29L105.7 166.34L106.2 166.53L106.7 166.86L107.2 166.99L107.7 167.56L108.2 167.31L108.7 167.79L109.2 168.03L109.7 167.77L110.2 167.80L110.7 168.08L111.2 167.96L111.7 168.07L112.2 168.16L112.7 167.99L113.2 167.91L113.7 167.71L114.2 168.07L114.7 167.94L115.2 168.09L115.7 168.09L116.2 167.90L116.7 168.28L117.2 168.21L117.7 168.18L118.2 167.94L118.7 168.04L119.2 168.03L119.7 168.05L120.2 167.97L120.7 168.16L121.2 168.14L121.7 168.17L122.2 168.07L122.7 168.29L123.2 168.16L123.7 167.81L124.2 168.07L124.7 168.14L125.2 168.27L125.7 168.12L126.2 168.14L126.7 168.09L127.2 168.26L127.7 168.13L128.2 168.11L128.7 168.10L129.2 168.26L129.7 168.14L130.2 168.00L130.7 168.29L131.2 168.13L131.7 168.26L132.2 168.27L132.7 168.37L133.2 168.36L133.7 168.17L134.2 168.23L134.7 168.10L135.2 168.46L135.7 168.31L136.2 168.43L136.7 168.23L137.2 168.03L137.7 168.46L138.2 168.30L138.7 168.31L139.2 168.30L139.7 168.38L140.2 168.37L140.7 168.12L141.2 168.44L141.7 168.26L142.2 168.27L142.7 168.54L143.2 168.44L143.7 168.30L144.2 168.12L144.7 168.37L144.9 168.42L145.4 167.00L145.9 161.46L146.5 156.12L147.1 154.72L147.7 157.60L148.1 159.57L148.6 158.79L149.2 159.13L149.9 161.68L150.7 164.42L151.7 167.01L152.7 168.14L153.5 168.69L154.2 168.47L154.7 168.55L155.2 168.40L155.7 168.46L156.2 168.26L156.7 168.46L157.2 168.62L157.7 168.73L158.2 168.63L158.7 168.57L159.2 168.50L159.7 168.43L160.2 168.48L160.7 168.58L161.2 168.41L161.7 168.62L162.2 168.39L162.7 168.30L163.2 168.39L163.7 168.32L164.2 168.35L164.7 168.66L165.2 168.50L165.7 168.55L166.2 168.67L166.7 168.68L167.2 168.47L167.7 168.69L168.2 168.58L168.7 168.54L169.2 168.59L169.7 168.37L170.2 168.45L170.7 168.53L171.2 168.62L171.7 168.51L172.2 168.54L172.7 168.67L173.2 168.73L173.7 168.65L174.2 168.72L174.7 168.52L175.2 168.53L175.7 168.61L176.2 168.54L176.7 168.51L177.2 168.77L177.7 168.55L178.2 168.46L178.7 168.64L179.2 168.81L179.7 168.60L180.2 168.74L180.7 168.54L181.2 168.54L181.7 168.51L182.2 168.58L182.7 168.82L183.2 168.46L183.7 168.80L184.2 168.49L184.7 168.58L185.2 168.71L185.7 168.69L186.2 168.65L186.7 168.42L187.2 168.66L187.7 168.50L188.2 168.93L188.7 168.60L189.2 168.65L189.7 168.49L190.2 168.58L190.7 168.48L191.2 168.76L191.7 168.61L192.2 168.71L192.7 168.56L193.2 168.59L193.7 168.80L194.2 168.54L194.7 168.44L195.2 168.71L195.7 168.52L196.2 168.61L196.7 168.77L197.2 168.57L197.7 168.77L198.2 168.59L198.7 168.85L199.2 168.83L199.7 168.62L200.2 168.91L200.7 168.19L201.2 169.12L201.7 169.00L202.2 168.95L202.7 168.73L203.2 167.88L203.7 169.38L204.2 168.39L204.7 169.51L205.2 168.64L205.7 168.18L206.2 167.33L206.7 164.88L207.2 162.84L207.7 160.59L208.2 162.41L208.7 163.43L209.2 165.63L209.7 167.27L210.2 168.01L210.7 168.96L211.2 167.55L211.7 168.28L212.2 167.89L212.7 168.50L213.2 167.51L213.7 167.17L214.2 165.78L214.7 164.63L215.2 163.14L215.7 161.31L216.2 161.96L216.7 162.34L217.2 164.42L217.7 165.96L218.2 166.44L218.7 167.99L219.2 166.51L219.7 166.62L220.2 166.60L220.7 166.52L221.2 165.82L221.7 165.16L222.2 165.02L222.7 166.10L223.2 166.20L223.7 166.30L224.2 166.49L224.7 168.19L225.2 166.37L225.7 167.17L226.2 168.07L226.7 167.53L227.2 166.90L227.7 167.28L228.2 167.62L228.7 167.58L229.2 166.66L229.7 167.70L230.2 167.01L230.7 167.45L231.2 167.73L231.7 166.77L232.2 166.14L232.7 166.82L233.2 167.43L233.7 166.42L234.2 165.17L234.7 164.50L235.2 161.75L235.7 161.99L236.2 162.23L236.7 163.82L237.2 165.23L237.7 166.70L238.2 165.86L238.7 165.63L239.2 164.90L239.7 164.70L240.2 162.81L240.7 161.52L241.2 158.76L241.7 157.60L242.2 157.34L242.7 156.80L243.2 158.29L243.7 159.83L244.2 161.34L244.7 162.28L245.2 164.84L245.7 165.15L246.2 166.01L246.7 164.93L247.2 165.23L247.7 164.83L248.2 165.42L248.7 166.44L249.2 166.32L249.7 166.04L250.2 166.18L250.7 166.52L251.2 165.94L251.7 166.20L252.2 165.96L252.7 164.93L253.2 165.80L253.7 166.67L254.2 165.88L254.7 165.97L255.2 165.75L255.7 165.90L256.2 166.57L256.7 165.96L257.2 165.62L257.7 164.58L258.2 165.67L258.7 165.22L259.2 165.28L259.7 166.39L260.2 166.33L260.7 165.47L261.2 166.35L261.7 166.24L262.2 165.74L262.7 166.26L263.2 165.35L263.7 165.74L264.2 165.54L264.7 165.65L265.2 166.54L265.7 165.49L266.2 165.68L266.7 165.64L267.2 166.12L267.7 165.93L268.2 166.51L268.7 165.53L269.2 164.80L269.7 163.91L270.2 163.35L270.7 162.14L271.2 162.46L271.7 163.75L272.2 163.79L272.7 165.21L273.2 166.23L273.7 165.76L274.2 165.45L274.7 165.05L275.2 164.69L275.7 162.73L276.2 161.35L276.7 161.17L277.2 162.83L277.7 164.38L278.2 164.62L278.7 165.99L279.2 165.93L279.7 166.57L280.2 166.27L280.7 165.91L281.2 165.99L281.7 165.33L282.2 165.98L282.7 165.93L283.2 166.39L283.7 165.76L284.2 166.25L284.7 165.79L285.2 165.71L285.7 166.65L286.2 165.78L286.7 166.21L287.2 165.60L287.7 166.12L288.2 165.48L288.7 165.90L289.2 166.14L289.7 166.60L290.2 166.33L290.7 166.04L291.2 166.61L291.7 166.35L292.2 166.28L292.7 166.55L293.2 166.22L293.7 166.07L294.2 166.51L294.7 166.13L295.2 166.25L295.7 166.69L296.2 166.10" stroke="#2fcad0" class="tr"/>
<path d="M16.2 181.70L16.7 181.55L17.2 181.44L17.7 181.58L18.2 181.57L18.7 181.72L19.2 181.54L19.7 181.56L20.2 181.67L20.7 181.53L21.2 181.56L21.7 181.79L22.2 181.76L22.7 181.65L23.2 181.61L23.7 181.46L24.2 181.64L24.7 181.58L25.2 181.60L25.7 181.51L26.2 181.57L26.7 181.54L27.2 181.60L27.7 181.74L28.2 181.61L28.7 181.36L29.2 181.44L29.7 181.37L30.2 181.46L30.7 181.62L31.2 181.60L31.7 181.48L32.2 181.58L32.7 181.46L33.2 181.38L33.7 181.38L34.2 181.44L34.7 181.72L35.2 181.38L35.7 181.69L36.2 181.70L36.7 181.52L37.2 181.53L37.7 181.47L38.2 181.53L38.7 181.61L39.2 181.53L39.7 181.65L40.2 181.64L40.7 181.45L41.2 181.18L41.7 180.49L42.2 179.35L42.7 177.51L43.2 176.06L43.7 175.17L44.2 175.46L44.7 177.50L45.2 179.64L45.7 181.44L46.2 181.69L46.7 181.22L47.2 181.37L47.7 181.32L48.2 181.39L48.7 181.49L49.2 181.55L49.7 181.64L50.2 181.60L50.7 181.65L51.2 181.57L51.7 181.45L52.2 181.63L52.7 181.44L53.2 181.42L53.7 181.68L54.2 181.59L54.7 181.52L55.2 181.56L55.7 181.52L56.2 181.19L56.7 181.29L57.2 181.10L57.7 181.20L58.2 181.05L58.7 181.24L59.2 181.08L59.7 180.86L60.2 180.90L60.7 180.70L61.2 180.80L61.7 180.80L62.2 180.71L62.7 180.39L63.2 180.52L63.7 180.57L64.2 180.49L64.7 180.53L65.2 180.18L65.7 180.34L66.2 180.15L66.7 180.19L67.2 180.16L67.7 180.14L68.2 179.93L68.7 179.96L69.2 179.74L69.7 179.66L70.2 179.84L70.7 179.70L71.2 179.46L71.7 179.49L72.2 179.54L72.7 179.66L73.2 179.54L73.7 179.45L74.2 179.08L74.7 179.23L75.2 179.24L75.7 179.17L76.2 179.11L76.7 178.97L77.2 179.15L77.7 179.06L78.2 178.81L78.7 178.65L79.2 178.95L79.7 178.58L80.2 178.73L80.7 178.76L81.2 178.36L81.7 178.44L82.2 178.31L82.7 178.35L83.2 178.27L83.7 178.41L84.2 178.18L84.7 178.05L85.2 178.13L85.7 177.90L86.2 177.83L86.7 178.09L87.2 177.66L87.7 177.64L88.2 177.65L88.7 177.45L89.2 177.23L89.7 177.52L90.2 177.21L90.7 177.14L91.2 177.07L91.7 176.91L92.2 176.81L92.7 176.86L93.2 177.04L93.7 176.75L94.2 176.66L94.7 176.30L95.2 176.38L95.7 176.15L96.2 176.30L96.7 176.09L97.2 176.03L97.7 175.92L98.2 175.77L98.7 175.57L99.2 175.90L99.7 176.02L100.2 176.40L100.7 176.86L101.2 177.17L101.7 177.64L102.2 178.08L102.7 178.34L103.2 178.69L103.7 179.02L104.2 179.48L104.7 179.51L105.2 180.13L105.7 180.33L106.2 180.64L106.7 180.83L107.2 180.83L107.7 180.98L108.2 181.08L108.7 180.71L109.2 181.02L109.7 181.31L110.2 181.22L110.7 181.32L111.2 181.20L111.7 181.06L112.2 181.14L112.7 181.40L113.2 181.46L113.7 181.30L114.2 181.40L114.7 181.50L115.2 181.29L115.7 181.46L116.2 181.70L116.7 181.77L117.2 181.50L117.7 181.74L118.2 181.47L118.7 181.44L119.2 181.27L119.7 181.66L120.2 181.51L120.7 181.84L121.2 181.60L121.7 181.59L122.2 181.36L122.7 181.76L123.2 181.54L123.7 181.57L124.2 181.33L124.7 181.71L125.2 181.73L125.7 181.54L126.2 181.63L126.7 181.67L127.2 181.74L127.7 181.65L128.2 181.85L128.7 181.62L129.2 181.58L129.7 181.60L130.2 181.36L130.7 181.57L131.2 181.79L131.7 181.71L132.2 181.59L132.7 181.73L133.2 181.45L133.7 181.67L134.2 181.77L134.7 181.80L135.2 181.62L135.7 181.83L136.2 181.95L136.7 181.68L137.2 181.83L137.7 181.56L138.2 181.52L138.7 181.83L139.2 181.77L139.7 181.79L140.2 181.70L140.7 181.74L141.2 181.88L141.7 182.00L142.2 181.77L142.7 181.60L143.2 181.96L143.7 181.88L144.2 181.90L144.7 181.85L144.9 182.10L145.4 180.74L145.9 176.40L146.5 171.72L147.1 170.78L147.7 172.97L148.1 174.60L148.6 173.99L149.2 174.30L149.9 176.59L150.7 178.46L151.7 180.75L152.7 181.72L153.5 181.77L154.2 182.00L154.7 182.01L155.2 181.91L155.7 182.18L156.2 181.96L156.7 181.99L157.2 181.85L157.7 181.77L158.2 181.90L158.7 181.94L159.2 181.93L159.7 182.08L160.2 181.70L160.7 181.85L161.2 181.76L161.7 182.13L162.2 181.90L162.7 181.90L163.2 181.82L163.7 182.05L164.2 181.89L164.7 181.96L165.2 181.68L165.7 182.06L166.2 181.96L166.7 181.97L167.2 182.05L167.7 181.87L168.2 181.87L168.7 181.97L169.2 181.92L169.7 181.84L170.2 181.86L170.7 181.79L171.2 181.93L171.7 181.95L172.2 181.83L172.7 182.05L173.2 181.63L173.7 181.78L174.2 182.01L174.7 181.75L175.2 181.60L175.7 181.95L176.2 181.85L176.7 181.63L177.2 181.86L177.7 181.64L178.2 181.59L178.7 181.73L179.2 181.68L179.7 181.60L180.2 181.68L180.7 181.60L181.2 181.72L181.7 181.70L182.2 181.79L182.7 181.64L183.2 181.53L183.7 181.52L184.2 181.64L184.7 181.85L185.2 181.76L185.7 181.58L186.2 181.76L186.7 181.50L187.2 181.76L187.7 181.58L188.2 181.71L188.7 181.69L189.2 181.57L189.7 181.64L190.2 181.47L190.7 181.58L191.2 181.71L191.7 182.07L192.2 181.65L192.7 181.57L193.2 181.43L193.7 181.68L194.2 181.34L194.7 181.44L195.2 181.57L195.7 181.38L196.2 181.70L196.7 181.64L197.2 181.43L197.7 181.43L198.2 181.33L198.7 181.31L199.2 181.53L199.7 181.54L200.2 181.50L200.7 181.49L201.2 181.38L201.7 181.49L202.2 181.26L202.7 181.43L203.2 181.60L203.7 181.57L204.2 181.35L204.7 181.32L205.2 181.39L205.7 181.05L206.2 179.81L206.7 178.59L207.2 177.22L207.7 176.53L208.2 176.64L208.7 178.09L209.2 179.43L209.7 180.80L210.2 181.33L210.7 180.74L211.2 181.99L211.7 181.35L212.2 181.19L212.7 181.22L213.2 181.05L213.7 181.65L214.2 181.53L214.7 181.58L215.2 181.00L215.7 179.92L216.2 179.60L216.7 179.83L217.2 179.17L217.7 181.10L218.2 179.99L218.7 180.55L219.2 181.36L219.7 181.28L220.2 181.22L220.7 181.01L221.2 181.12L221.7 180.71L222.2 179.95L222.7 179.04L223.2 179.48L223.7 179.92L224.2 180.47L224.7 178.96L225.2 180.37L225.7 180.79L226.2 181.05L226.7 181.06L227.2 181.44L227.7 181.34L228.2 181.12L228.7 180.95L229.2 181.59L229.7 180.63L230.2 181.01L230.7 181.58L231.2 181.26L231.7 180.29L232.2 181.05L232.7 180.98L233.2 180.80L233.7 180.86L234.2 180.28L234.7 179.28L235.2 179.09L235.7 178.73L236.2 178.86L236.7 179.69L237.2 180.33L237.7 180.38L238.2 180.51L238.7 180.79L239.2 179.89L239.7 179.57L240.2 179.45L240.7 177.89L241.2 176.91L241.7 175.91L242.2 175.51L242.7 175.37L243.2 176.03L243.7 176.77L244.2 178.66L244.7 179.05L245.2 180.09L245.7 179.75L246.2 180.22L246.7 181.05L247.2 180.79L247.7 180.90L248.2 180.72L248.7 180.63L249.2 180.89L249.7 180.06L250.2 180.65L250.7 180.54L251.2 180.96L251.7 181.17L252.2 180.34L252.7 181.41L253.2 180.54L253.7 180.32L254.2 180.08L254.7 181.35L255.2 180.78L255.7 180.67L256.2 180.50L256.7 180.29L257.2 181.20L257.7 180.76L258.2 181.49L258.7 180.39L259.2 179.95L259.7 181.06L260.2 180.41L260.7 180.56L261.2 181.38L261.7 180.74L262.2 180.89L262.7 180.81L263.2 180.55L263.7 180.87L264.2 180.48L264.7 181.01L265.2 180.79L265.7 180.55L266.2 180.86L266.7 180.77L267.2 180.71L267.7 180.78L268.2 180.09L268.7 180.30L269.2 179.39L269.7 179.22L270.2 179.22L270.7 179.17L271.2 180.09L271.7 180.12L272.2 180.78L272.7 180.22L273.2 180.31L273.7 180.53L274.2 178.96L274.7 177.84L275.2 178.43L275.7 179.24L276.2 179.75L276.7 180.54L277.2 180.53L277.7 180.80L278.2 180.22L278.7 179.88L279.2 179.37L279.7 179.04L280.2 179.29L280.7 179.64L281.2 179.85L281.7 180.18L282.2 180.55L282.7 179.68L283.2 180.10L283.7 180.09L284.2 180.19L284.7 180.29L285.2 180.19L285.7 179.98L286.2 180.75L286.7 180.50L287.2 179.97L287.7 180.32L288.2 180.08L288.7 180.90L289.2 180.30L289.7 180.45L290.2 180.28L290.7 180.24L291.2 180.24L291.7 180.30L292.2 180.15L292.7 180.50L293.2 180.66L293.7 179.87L294.2 180.87L294.7 180.58L295.2 180.45L295.7 180.12L296.2 180.41" stroke="#d4a02a" class="tr"/>
<path d="M16.2 195.80L16.7 195.75L17.2 195.64L17.7 195.98L18.2 195.77L18.7 195.67L19.2 195.73L19.7 195.81L20.2 195.84L20.7 195.77L21.2 195.85L21.7 195.88L22.2 195.55L22.7 195.64L23.2 195.59L23.7 195.71L24.2 195.88L24.7 195.78L25.2 195.58L25.7 195.67L26.2 195.83L26.7 195.64L27.2 195.69L27.7 195.74L28.2 195.48L28.7 195.80L29.2 195.74L29.7 195.77L30.2 195.58L30.7 195.61L31.2 195.63L31.7 195.73L32.2 195.71L32.7 195.72L33.2 195.92L33.7 195.86L34.2 195.62L34.7 195.62L35.2 195.91L35.7 195.66L36.2 195.87L36.7 195.89L37.2 195.63L37.7 195.65L38.2 195.66L38.7 195.48L39.2 195.35L39.7 195.22L40.2 195.05L40.7 194.41L41.2 193.79L41.7 192.96L42.2 191.96L42.7 191.45L43.2 190.30L43.7 190.09L44.2 190.20L44.7 190.30L45.2 191.19L45.7 192.10L46.2 192.73L46.7 193.69L47.2 194.21L47.7 194.92L48.2 195.23L48.7 195.47L49.2 195.73L49.7 195.70L50.2 195.84L50.7 195.77L51.2 195.55L51.7 195.73L52.2 195.76L52.7 195.53L53.2 195.86L53.7 195.71L54.2 195.75L54.7 195.59L55.2 195.71L55.7 195.74L56.2 195.66L56.7 195.71L57.2 195.45L57.7 195.87L58.2 195.57L58.7 195.44L59.2 195.59L59.7 195.60L60.2 195.77L60.7 195.59L61.2 195.74L61.7 195.59L62.2 195.97L62.7 195.77L63.2 195.94L63.7 195.58L64.2 195.78L64.7 195.59L65.2 195.77L65.7 195.78L66.2 195.51L66.7 195.57L67.2 195.56L67.7 195.52L68.2 195.61L68.7 195.59L69.2 195.53L69.7 195.71L70.2 195.77L70.7 195.54L71.2 195.63L71.7 195.70L72.2 195.67L72.7 195.62L73.2 195.80L73.7 195.80L74.2 195.78L74.7 195.68L75.2 195.94L75.7 195.91L76.2 195.65L76.7 195.69L77.2 195.84L77.7 195.61L78.2 195.75L78.7 195.71L79.2 195.62L79.7 195.67L80.2 195.51L80.7 195.64L81.2 195.46L81.7 195.97L82.2 195.88L82.7 195.85L83.2 195.74L83.7 195.82L84.2 195.85L84.7 195.82L85.2 195.81L85.7 195.59L86.2 195.75L86.7 195.64L87.2 195.56L87.7 195.56L88.2 195.75L88.7 195.83L89.2 195.54L89.7 195.91L90.2 195.88L90.7 195.65L91.2 195.64L91.7 195.69L92.2 195.82L92.7 195.65L93.2 195.57L93.7 195.74L94.2 195.45L94.7 195.72L95.2 195.84L95.7 195.74L96.2 195.79L96.7 195.76L97.2 195.79L97.7 195.72L98.2 195.60L98.7 195.67L99.2 195.69L99.7 195.85L100.2 195.90L100.7 195.75L101.2 195.61L101.7 195.61L102.2 195.68L102.7 195.87L103.2 195.74L103.7 195.69L104.2 195.61L104.7 195.81L105.2 195.73L105.7 195.69L106.2 195.71L106.7 195.90L107.2 195.68L107.7 195.90L108.2 195.85L108.7 195.71L109.2 195.81L109.7 195.69L110.2 195.60L110.7 195.67L111.2 195.59L111.7 195.76L112.2 195.70L112.7 195.77L113.2 195.80L113.7 195.33L114.2 195.74L114.7 195.48L115.2 195.72L115.7 195.59L116.2 195.71L116.7 195.86L117.2 195.50L117.7 195.72L118.2 195.69L118.7 195.47L119.2 195.78L119.7 195.70L120.2 195.64L120.7 195.61L121.2 196.09L121.7 195.65L122.2 195.48L122.7 195.59L123.2 195.66L123.7 195.65L124.2 195.69L124.7 195.57L125.2 195.76L125.7 195.64L126.2 195.54L126.7 195.60L127.2 195.65L127.7 195.80L128.2 195.76L128.7 195.66L129.2 195.70L129.7 195.73L130.2 195.94L130.7 195.63L131.2 195.76L131.7 195.79L132.2 195.59L132.7 195.72L133.2 195.72L133.7 195.64L134.2 195.77L134.7 195.82L135.2 195.84L135.7 195.68L136.2 195.72L136.7 195.98L137.2 195.57L137.7 195.73L138.2 195.81L138.7 195.72L139.2 195.78L139.7 195.72L140.2 195.79L140.7 195.85L141.2 195.67L141.7 195.72L142.2 195.69L142.7 195.65L143.2 195.70L143.7 195.56L144.2 195.79L144.5 195.90L145.1 192.88L145.7 194.31L146.5 191.62L147.2 193.68L148.0 191.98L148.8 193.38L149.8 191.80L150.8 190.35L151.5 190.30L152.3 192.43L153.2 194.58L154.3 195.43L155.1 195.75L155.7 195.64L156.2 195.83L156.7 195.85L157.2 195.53L157.7 195.64L158.2 195.66L158.7 195.56L159.2 195.57L159.7 195.71L160.2 195.60L160.7 195.19L161.2 195.95L161.7 195.90L162.2 195.59L162.7 195.63L163.2 195.80L163.7 195.69L164.2 195.44L164.7 195.49L165.2 195.63L165.7 195.32L166.2 195.60L166.7 195.71L167.2 195.67L167.7 195.37L168.2 195.09L168.7 195.49L169.2 195.77L169.7 195.46L170.2 195.20L170.7 195.78L171.2 195.62L171.7 195.70L172.2 195.55L172.7 195.80L173.2 195.75L173.7 195.44L174.2 195.70L174.7 195.59L175.2 195.70L175.7 195.46L176.2 195.61L176.7 195.73L177.2 195.78L177.7 195.86L178.2 195.85L178.7 195.80L179.2 195.56L179.7 195.83L180.2 195.62L180.7 195.54L181.2 195.54L181.7 196.13L182.2 195.72L182.7 195.49L183.2 195.42L183.7 195.61L184.2 195.59L184.7 195.64L185.2 195.13L185.7 195.43L186.2 195.33L186.7 195.64L187.2 195.64L187.7 195.86L188.2 196.10L188.7 195.61L189.2 195.44L189.7 195.20L190.2 195.50L190.7 195.70L191.2 195.24L191.7 195.74L192.2 195.58L192.7 195.86L193.2 195.57L193.7 195.46L194.2 195.39L194.7 195.32L195.2 195.10L195.7 195.62L196.2 195.90L196.7 195.82L197.2 195.61L197.7 195.39L198.2 195.64L198.7 195.56L199.2 195.72L199.7 195.50L200.2 195.49L200.7 195.77L201.2 195.33L201.7 195.66L202.2 195.63L202.7 195.49L203.2 195.43L203.7 195.82L204.2 195.65L204.7 195.70L205.2 194.95L205.7 194.08L206.2 192.93L206.7 191.30L207.2 191.27L207.7 192.55L208.2 194.11L208.7 195.30L209.2 195.48L209.7 196.34L210.2 197.27L210.7 197.61L211.2 197.51L211.7 196.78L212.2 196.21L212.7 195.58L213.2 195.31L213.7 195.98L214.2 195.46L214.7 195.44L215.2 195.70L215.7 195.32L216.2 195.50L216.7 195.51L217.2 195.64L217.7 195.40L218.2 195.30L218.7 195.37L219.2 195.68L219.7 195.52L220.2 195.18L220.7 195.47L221.2 195.44L221.7 195.36L222.2 195.38L222.7 195.52L223.2 195.59L223.7 195.16L224.2 195.63L224.7 195.69L225.2 195.38L225.7 195.56L226.2 195.47L226.7 195.50L227.2 195.73L227.7 195.18L228.2 195.80L228.7 195.80L229.2 195.54L229.7 195.55L230.2 195.57L230.7 195.24L231.2 195.68L231.7 195.48L232.2 195.58L232.7 195.40L233.2 195.81L233.7 195.24L234.2 195.20L234.7 195.56L235.2 195.35L235.7 195.40L236.2 195.21L236.7 195.37L237.2 195.22L237.7 195.41L238.2 195.59L238.7 195.68L239.2 195.54L239.7 195.82L240.2 195.58L240.7 195.49L241.2 195.46L241.7 195.60L242.2 195.59L242.7 195.59L243.2 195.21L243.7 195.44L244.2 195.49L244.7 195.20L245.2 195.49L245.7 195.02L246.2 195.33L246.7 195.65L247.2 195.27L247.7 195.22L248.2 195.39L248.7 195.20L249.2 195.23L249.7 194.87L250.2 195.60L250.7 195.20L251.2 195.28L251.7 195.58L252.2 195.52L252.7 195.76L253.2 195.70L253.7 195.18L254.2 195.69L254.7 195.49L255.2 195.20L255.7 195.42L256.2 195.65L256.7 195.12L257.2 195.04L257.7 195.72L258.2 195.22L258.7 195.30L259.2 195.23L259.7 195.45L260.2 195.33L260.7 195.13L261.2 195.13L261.7 195.17L262.2 195.16L262.7 195.51L263.2 195.73L263.7 195.36L264.2 195.63L264.7 195.63L265.2 195.49L265.7 195.11L266.2 195.42L266.7 194.91L267.2 195.09L267.7 195.62L268.2 195.38L268.7 195.53L269.2 195.24L269.7 195.13L270.2 195.16L270.7 195.29L271.2 195.58L271.7 195.58L272.2 195.28L272.7 195.02L273.2 195.17L273.7 195.41L274.2 195.31L274.7 195.33L275.2 195.32L275.7 195.18L276.2 195.14L276.7 195.35L277.2 194.83L277.7 195.48L278.2 195.18L278.7 195.28L279.2 195.06L279.7 195.24L280.2 194.92L280.7 195.17L281.2 195.53L281.7 195.16L282.2 195.46L282.7 195.71L283.2 195.16L283.7 195.60L284.2 195.13L284.7 195.46L285.2 195.46L285.7 195.02L286.2 195.32L286.7 195.27L287.2 195.41L287.7 194.79L288.2 195.25L288.7 195.04L289.2 195.07L289.7 194.88L290.2 195.19L290.7 195.29L291.2 195.03L291.7 195.05L292.2 194.93L292.7 195.15L293.2 195.03L293.7 195.17L294.2 195.13L294.7 195.16L295.2 195.22L295.7 195.28L296.2 195.28" stroke="#2e9e58" class="tr"/>
<path d="M16.2 210.56L16.7 210.35L17.2 210.15L17.7 210.23L18.2 210.22L18.7 210.28L19.2 210.22L19.7 210.19L20.2 210.49L20.7 210.30L21.2 210.25L21.7 210.26L22.2 210.27L22.7 210.46L23.2 210.35L23.7 210.42L24.2 209.91L24.7 210.33L25.2 210.41L25.7 210.52L26.2 210.29L26.7 210.08L27.2 210.35L27.7 210.21L28.2 210.06L28.7 210.20L29.2 210.40L29.7 210.42L30.2 210.36L30.7 210.15L31.2 210.57L31.7 210.13L32.2 210.26L32.7 210.10L33.2 210.43L33.7 210.32L34.2 210.37L34.7 210.28L35.2 210.26L35.7 210.28L36.2 210.04L36.7 210.38L37.2 210.37L37.7 210.21L38.2 210.26L38.7 210.29L39.2 210.44L39.7 210.31L40.2 210.26L40.7 210.19L41.2 210.07L41.7 210.18L42.2 210.25L42.7 210.12L43.2 209.59L43.7 208.15L44.2 206.75L44.7 207.36L45.2 208.81L45.7 208.55L46.2 207.04L46.7 206.89L47.2 208.21L47.7 209.90L48.2 210.02L48.7 210.33L49.2 210.24L49.7 210.37L50.2 210.24L50.7 210.12L51.2 210.36L51.7 210.25L52.2 210.24L52.7 210.24L53.2 210.35L53.7 210.33L54.2 210.25L54.7 210.04L55.2 210.18L55.7 210.24L56.2 210.44L56.7 210.27L57.2 210.21L57.7 210.36L58.2 210.21L58.7 210.21L59.2 210.24L59.7 210.04L60.2 210.33L60.7 210.26L61.2 210.18L61.7 210.07L62.2 210.24L62.7 210.38L63.2 210.13L63.7 210.08L64.2 210.26L64.7 210.01L65.2 209.94L65.7 210.15L66.2 210.12L66.7 210.17L67.2 210.13L67.7 210.24L68.2 210.17L68.7 210.13L69.2 210.14L69.7 210.27L70.2 210.31L70.7 210.30L71.2 210.28L71.7 209.80L72.2 210.07L72.7 210.15L73.2 210.21L73.7 209.99L74.2 210.36L74.7 210.22L75.2 210.11L75.7 210.20L76.2 210.14L76.7 210.09L77.2 210.24L77.7 210.12L78.2 210.01L78.7 210.10L79.2 210.16L79.7 210.04L80.2 210.32L80.7 210.04L81.2 210.38L81.7 210.28L82.2 210.06L82.7 210.18L83.2 210.31L83.7 210.14L84.2 210.02L84.7 210.18L85.2 210.40L85.7 209.98L86.2 210.23L86.7 210.16L87.2 210.15L87.7 210.11L88.2 210.12L88.7 210.28L89.2 210.23L89.7 210.03L90.2 210.34L90.7 210.00L91.2 210.23L91.7 210.17L92.2 210.29L92.7 210.19L93.2 210.27L93.7 210.14L94.2 210.26L94.7 210.19L95.2 210.40L95.7 210.06L96.2 210.28L96.7 210.20L97.2 210.16L97.7 210.07L98.2 210.19L98.7 209.96L99.2 209.97L99.7 210.22L100.2 209.95L100.7 210.30L101.2 210.10L101.7 210.16L102.2 210.14L102.7 210.18L103.2 210.09L103.7 210.08L104.2 210.11L104.7 210.25L105.2 210.26L105.7 210.28L106.2 210.16L106.7 210.10L107.2 209.92L107.7 210.20L108.2 210.22L108.7 210.07L109.2 210.21L109.7 210.27L110.2 210.12L110.7 210.24L111.2 210.15L111.7 209.90L112.2 210.05L112.7 210.06L113.2 210.17L113.7 210.00L114.2 210.05L114.7 209.99L115.2 210.10L115.7 210.11L116.2 210.22L116.7 210.20L117.2 210.12L117.7 210.13L118.2 210.11L118.7 210.11L119.2 210.28L119.7 209.79L120.2 210.07L120.7 210.13L121.2 210.23L121.7 209.96L122.2 210.13L122.7 210.19L123.2 210.03L123.7 209.86L124.2 210.04L124.7 209.94L125.2 210.16L125.7 209.98L126.2 210.29L126.7 210.10L127.2 209.98L127.7 210.02L128.2 209.94L128.7 210.12L129.2 210.25L129.7 210.05L130.2 210.18L130.7 209.96L131.2 210.11L131.7 210.34L132.2 209.90L132.7 210.21L133.2 210.21L133.7 209.84L134.2 209.89L134.7 209.94L135.2 210.18L135.7 210.01L136.2 210.04L136.7 210.14L137.2 210.07L137.7 210.08L138.2 210.02L138.7 210.19L139.2 209.96L139.7 210.25L140.2 210.01L140.7 209.95L141.2 210.13L141.7 210.10L142.2 209.81L142.7 210.07L143.2 209.88L143.7 209.94L144.2 210.14L144.5 209.94L145.1 206.62L145.7 208.23L146.5 205.73L147.2 207.50L148.0 205.73L148.8 207.25L149.8 205.20L150.8 204.06L151.5 203.73L152.3 206.36L153.2 208.78L154.3 209.85L155.1 210.06L155.7 210.00L156.2 210.05L156.7 210.11L157.2 210.11L157.7 209.95L158.2 209.80L158.7 209.91L159.2 210.04L159.7 209.71L160.2 209.79L160.7 209.91L161.2 209.84L161.7 209.79L162.2 210.37L162.7 209.97L163.2 209.95L163.7 210.06L164.2 210.36L164.7 209.89L165.2 210.25L165.7 209.99L166.2 209.96L166.7 209.77L167.2 210.21L167.7 209.92L168.2 210.23L168.7 210.27L169.2 210.11L169.7 209.95L170.2 209.99L170.7 209.96L171.2 210.09L171.7 210.02L172.2 209.98L172.7 209.85L173.2 209.82L173.7 210.05L174.2 210.05L174.7 209.83L175.2 210.06L175.7 210.13L176.2 209.68L176.7 209.80L177.2 209.69L177.7 210.10L178.2 209.99L178.7 209.87L179.2 209.60L179.7 209.90L180.2 209.91L180.7 209.53L181.2 209.85L181.7 209.82L182.2 209.62L182.7 209.78L183.2 210.08L183.7 209.65L184.2 209.82L184.7 209.89L185.2 209.74L185.7 209.68L186.2 209.99L186.7 209.98L187.2 209.85L187.7 210.02L188.2 209.99L188.7 210.09L189.2 210.08L189.7 209.77L190.2 210.01L190.7 209.89L191.2 210.12L191.7 209.73L192.2 210.03L192.7 210.20L193.2 209.74L193.7 209.85L194.2 209.83L194.7 209.78L195.2 209.91L195.7 209.98L196.2 209.66L196.7 209.75L197.2 209.97L197.7 209.52L198.2 210.04L198.7 209.77L199.2 209.93L199.7 209.91L200.2 210.15L200.7 209.73L201.2 209.70L201.7 210.00L202.2 209.79L202.7 209.85L203.2 209.76L203.7 209.93L204.2 209.88L204.7 209.72L205.2 209.68L205.7 210.17L206.2 210.98L206.7 211.86L207.2 211.99L207.7 210.89L208.2 209.23L208.7 207.59L209.2 207.91L209.7 208.18L210.2 209.26L210.7 209.48L211.2 209.78L211.7 210.20L212.2 209.60L212.7 209.75L213.2 209.47L213.7 209.65L214.2 209.72L214.7 209.63L215.2 209.70L215.7 209.70L216.2 209.99L216.7 209.96L217.2 209.75L217.7 209.97L218.2 209.50L218.7 209.77L219.2 210.19L219.7 209.63L220.2 209.80L220.7 209.63L221.2 209.81L221.7 209.70L222.2 209.66L222.7 209.31L223.2 209.73L223.7 209.74L224.2 209.97L224.7 210.05L225.2 209.81L225.7 209.45L226.2 209.74L226.7 209.94L227.2 209.68L227.7 209.75L228.2 209.70L228.7 209.78L229.2 209.69L229.7 209.72L230.2 209.18L230.7 209.63L231.2 209.70L231.7 209.55L232.2 209.73L232.7 209.75L233.2 209.79L233.7 210.03L234.2 209.45L234.7 209.55L235.2 209.67L235.7 209.66L236.2 209.52L236.7 209.69L237.2 209.57L237.7 209.70L238.2 209.81L238.7 209.76L239.2 209.63L239.7 209.55L240.2 209.69L240.7 209.82L241.2 209.42L241.7 209.39L242.2 209.57L242.7 209.90L243.2 209.81L243.7 210.10L244.2 209.59L244.7 209.83L245.2 209.74L245.7 209.83L246.2 209.76L246.7 209.38L247.2 209.59L247.7 209.78L248.2 209.99L248.7 209.79L249.2 209.89L249.7 210.13L250.2 209.56L250.7 209.62L251.2 209.40L251.7 209.52L252.2 209.66L252.7 209.74L253.2 209.69L253.7 209.63L254.2 209.83L254.7 209.46L255.2 209.68L255.7 209.56L256.2 209.51L256.7 209.65L257.2 209.69L257.7 209.61L258.2 210.02L258.7 209.86L259.2 209.78L259.7 209.54L260.2 209.76L260.7 209.47L261.2 209.37L261.7 209.54L262.2 209.70L262.7 209.64L263.2 209.78L263.7 209.63L264.2 209.72L264.7 209.46L265.2 209.39L265.7 209.46L266.2 209.71L266.7 209.27L267.2 209.43L267.7 209.81L268.2 209.59L268.7 209.35L269.2 209.43L269.7 209.72L270.2 209.25L270.7 209.16L271.2 209.77L271.7 209.47L272.2 209.51L272.7 209.36L273.2 209.72L273.7 209.66L274.2 209.42L274.7 209.74L275.2 209.68L275.7 209.40L276.2 209.86L276.7 209.39L277.2 209.58L277.7 209.44L278.2 209.44L278.7 209.45L279.2 209.55L279.7 209.44L280.2 209.69L280.7 209.66L281.2 209.42L281.7 209.33L282.2 209.19L282.7 209.64L283.2 210.07L283.7 209.51L284.2 209.48L284.7 209.50L285.2 209.44L285.7 209.43L286.2 209.34L286.7 209.15L287.2 209.63L287.7 209.49L288.2 209.98L288.7 209.29L289.2 209.55L289.7 209.39L290.2 209.67L290.7 209.41L291.2 209.43L291.7 209.53L292.2 209.55L292.7 209.49L293.2 209.57L293.7 209.47L294.2 209.67L294.7 209.62L295.2 209.50L295.7 209.74L296.2 209.44" stroke="#2a5cd2" class="tr"/>
<path d="M16.2 223.24L16.7 223.42L17.2 223.28L17.7 223.46L18.2 223.47L18.7 223.95L19.2 223.54L19.7 223.71L20.2 223.65L20.7 223.45L21.2 223.56L21.7 223.70L22.2 223.52L22.7 223.52L23.2 223.56L23.7 223.32L24.2 223.40L24.7 223.54L25.2 223.56L25.7 223.39L26.2 223.46L26.7 223.48L27.2 223.48L27.7 223.58L28.2 223.51L28.7 223.52L29.2 223.33L29.7 223.37L30.2 223.54L30.7 223.31L31.2 223.53L31.7 223.42L32.2 223.40L32.7 223.58L33.2 223.42L33.7 223.40L34.2 223.42L34.7 223.50L35.2 223.83L35.7 223.25L36.2 223.50L36.7 223.47L37.2 223.61L37.7 223.45L38.2 223.20L38.7 223.66L39.2 223.37L39.7 223.49L40.2 223.33L40.7 223.37L41.2 223.43L41.7 223.51L42.2 223.15L42.7 222.12L43.2 221.28L43.7 221.05L44.2 221.99L44.7 222.94L45.2 223.45L45.7 223.44L46.2 223.62L46.7 223.88L47.2 224.18L47.7 224.35L48.2 224.68L48.7 224.18L49.2 224.00L49.7 223.69L50.2 223.69L50.7 223.25L51.2 223.74L51.7 223.47L52.2 223.35L52.7 223.51L53.2 223.77L53.7 223.56L54.2 223.35L54.7 223.44L55.2 223.66L55.7 223.33L56.2 223.47L56.7 223.46L57.2 223.75L57.7 223.46L58.2 223.65L58.7 223.42L59.2 223.40L59.7 223.62L60.2 223.57L60.7 223.29L61.2 223.57L61.7 223.57L62.2 223.42L62.7 223.52L63.2 223.53L63.7 223.44L64.2 223.43L64.7 223.42L65.2 223.46L65.7 223.34L66.2 223.49L66.7 223.32L67.2 223.51L67.7 223.49L68.2 223.37L68.7 223.60L69.2 223.73L69.7 223.65L70.2 223.33L70.7 223.65L71.2 223.52L71.7 223.49L72.2 223.43L72.7 223.50L73.2 223.66L73.7 223.56L74.2 223.45L74.7 223.42L75.2 223.45L75.7 223.57L76.2 223.72L76.7 223.37L77.2 223.50L77.7 223.45L78.2 223.41L78.7 223.54L79.2 223.56L79.7 223.33L80.2 223.37L80.7 223.64L81.2 223.53L81.7 223.56L82.2 223.44L82.7 223.45L83.2 223.55L83.7 223.44L84.2 223.36L84.7 223.50L85.2 223.60L85.7 223.37L86.2 223.62L86.7 223.58L87.2 223.39L87.7 223.50L88.2 223.49L88.7 223.57L89.2 223.58L89.7 223.34L90.2 223.34L90.7 223.62L91.2 223.51L91.7 223.55L92.2 223.54L92.7 223.68L93.2 223.35L93.7 223.63L94.2 223.40L94.7 223.58L95.2 223.66L95.7 223.33L96.2 223.54L96.7 223.46L97.2 223.46L97.7 223.50L98.2 223.37L98.7 223.38L99.2 223.57L99.7 223.60L100.2 223.43L100.7 223.32L101.2 223.77L101.7 223.63L102.2 223.54L102.7 223.37L103.2 223.43L103.7 223.52L104.2 223.38L104.7 223.69L105.2 223.51L105.7 223.54L106.2 223.37L106.7 223.39L107.2 223.40L107.7 223.53L108.2 223.46L108.7 223.46L109.2 223.53L109.7 223.52L110.2 223.67L110.7 223.47L111.2 223.38L111.7 223.49L112.2 223.67L112.7 223.43L113.2 223.50L113.7 223.45L114.2 223.54L114.7 223.53L115.2 223.40L115.7 223.47L116.2 223.61L116.7 223.63L117.2 223.60L117.7 223.60L118.2 223.46L118.7 223.45L119.2 223.61L119.7 223.36L120.2 223.49L120.7 223.28L121.2 223.45L121.7 223.41L122.2 223.35L122.7 223.56L123.2 223.41L123.7 223.45L124.2 223.47L124.7 223.41L125.2 223.66L125.7 223.44L126.2 223.52L126.7 223.34L127.2 223.44L127.7 223.46L128.2 223.46L128.7 223.43L129.2 223.51L129.7 223.68L130.2 223.48L130.7 223.48L131.2 223.45L131.7 223.80L132.2 223.69L132.7 223.56L133.2 223.58L133.7 223.41L134.2 223.48L134.7 223.52L135.2 223.51L135.7 223.40L136.2 223.40L136.7 223.56L137.2 223.53L137.7 223.25L138.2 223.51L138.7 223.65L139.2 223.42L139.7 223.52L140.2 223.33L140.7 223.59L141.2 223.37L141.7 223.35L142.2 223.46L142.7 223.78L143.2 223.42L143.7 223.35L144.2 223.55L144.5 223.52L145.1 220.06L145.7 221.50L146.5 218.56L147.2 220.82L148.0 219.18L148.8 220.77L149.8 218.67L150.8 217.05L151.5 216.80L152.3 219.52L153.2 222.28L154.3 223.35L155.1 223.45L155.7 223.38L156.2 223.60L156.7 223.61L157.2 223.82L157.7 223.48L158.2 223.69L158.7 223.35L159.2 223.43L159.7 223.42L160.2 223.52L160.7 223.61L161.2 223.11L161.7 223.51L162.2 223.47L162.7 223.58L163.2 223.35L163.7 223.42L164.2 223.44L164.7 223.52L165.2 223.56L165.7 223.36L166.2 223.33L166.7 223.46L167.2 223.36L167.7 223.60L168.2 223.62L168.7 223.60L169.2 223.20L169.7 222.86L170.2 223.48L170.7 223.67L171.2 223.33L171.7 223.32L172.2 223.45L172.7 223.75L173.2 223.45L173.7 223.75L174.2 223.53L174.7 223.33L175.2 223.52L175.7 223.30L176.2 223.49L176.7 223.29L177.2 223.38L177.7 223.41L178.2 223.52L178.7 223.29L179.2 223.34L179.7 222.99L180.2 223.23L180.7 223.33L181.2 223.14L181.7 223.48L182.2 223.18L182.7 223.52L183.2 223.47L183.7 223.47L184.2 223.67L184.7 223.33L185.2 223.67L185.7 223.67L186.2 223.18L186.7 223.52L187.2 223.27L187.7 223.63L188.2 223.31L188.7 223.24L189.2 223.48L189.7 223.59L190.2 223.28L190.7 223.38L191.2 223.46L191.7 223.24L192.2 223.36L192.7 223.64L193.2 223.36L193.7 223.34L194.2 223.28L194.7 223.37L195.2 223.38L195.7 223.41L196.2 223.29L196.7 223.41L197.2 223.26L197.7 223.35L198.2 223.22L198.7 223.43L199.2 223.32L199.7 223.32L200.2 223.13L200.7 223.60L201.2 223.15L201.7 223.32L202.2 223.81L202.7 223.39L203.2 223.62L203.7 223.38L204.2 223.29L204.7 223.35L205.2 223.30L205.7 223.31L206.2 223.27L206.7 223.24L207.2 223.24L207.7 223.04L208.2 223.54L208.7 223.24L209.2 223.07L209.7 223.00L210.2 223.28L210.7 223.24L211.2 223.23L211.7 223.33L212.2 223.40L212.7 223.22L213.2 223.00L213.7 223.08L214.2 223.32L214.7 223.15L215.2 222.75L215.7 223.37L216.2 223.24L216.7 223.37L217.2 222.98L217.7 223.51L218.2 223.43L218.7 223.59L219.2 223.36L219.7 223.12L220.2 223.21L220.7 223.20L221.2 223.43L221.7 223.12L222.2 223.21L222.7 223.03L223.2 223.32L223.7 223.21L224.2 222.97L224.7 223.25L225.2 223.24L225.7 223.25L226.2 223.29L226.7 223.00L227.2 223.05L227.7 223.40L228.2 223.33L228.7 223.42L229.2 223.46L229.7 222.93L230.2 223.02L230.7 223.42L231.2 223.52L231.7 223.50L232.2 223.17L232.7 223.23L233.2 223.08L233.7 223.35L234.2 223.05L234.7 223.39L235.2 223.18L235.7 223.17L236.2 223.03L236.7 223.07L237.2 222.94L237.7 223.05L238.2 222.83L238.7 223.46L239.2 223.40L239.7 223.32L240.2 223.12L240.7 222.97L241.2 223.15L241.7 223.17L242.2 223.15L242.7 223.18L243.2 223.40L243.7 223.06L244.2 223.16L244.7 222.84L245.2 223.30L245.7 223.08L246.2 223.33L246.7 223.58L247.2 223.33L247.7 223.21L248.2 223.30L248.7 223.42L249.2 222.97L249.7 223.17L250.2 223.24L250.7 223.05L251.2 223.05L251.7 222.86L252.2 223.31L252.7 223.11L253.2 223.48L253.7 222.99L254.2 223.21L254.7 223.34L255.2 222.76L255.7 223.31L256.2 222.99L256.7 223.29L257.2 223.23L257.7 223.12L258.2 223.44L258.7 223.12L259.2 223.01L259.7 223.29L260.2 222.94L260.7 223.18L261.2 222.82L261.7 223.09L262.2 223.09L262.7 223.13L263.2 223.10L263.7 223.14L264.2 222.99L264.7 223.70L265.2 222.93L265.7 222.97L266.2 223.06L266.7 223.11L267.2 222.98L267.7 223.37L268.2 222.95L268.7 223.07L269.2 222.95L269.7 223.11L270.2 222.97L270.7 222.97L271.2 223.29L271.7 223.02L272.2 222.87L272.7 223.09L273.2 222.89L273.7 222.96L274.2 222.96L274.7 222.90L275.2 222.97L275.7 223.03L276.2 223.02L276.7 222.84L277.2 223.06L277.7 223.08L278.2 223.05L278.7 222.78L279.2 223.04L279.7 222.93L280.2 223.11L280.7 223.08L281.2 223.00L281.7 223.12L282.2 223.13L282.7 223.01L283.2 222.97L283.7 223.42L284.2 222.65L284.7 223.14L285.2 223.09L285.7 222.93L286.2 223.44L286.7 223.01L287.2 223.21L287.7 222.79L288.2 223.13L288.7 223.12L289.2 223.09L289.7 222.97L290.2 222.94L290.7 223.05L291.2 223.10L291.7 223.02L292.2 223.04L292.7 222.79L293.2 222.94L293.7 223.14L294.2 223.03L294.7 222.94L295.2 222.97L295.7 223.00L296.2 222.85" stroke="#e4383c" class="tr"/>
<path d="M16.2 235.19L16.7 234.98L17.2 235.00L17.7 235.11L18.2 234.94L18.7 235.11L19.2 235.17L19.7 234.96L20.2 235.22L20.7 235.05L21.2 235.18L21.7 235.14L22.2 235.07L22.7 235.06L23.2 234.93L23.7 235.05L24.2 235.04L24.7 235.31L25.2 235.25L25.7 234.98L26.2 235.22L26.7 235.16L27.2 235.10L27.7 235.19L28.2 235.23L28.7 235.08L29.2 235.11L29.7 235.17L30.2 234.93L30.7 235.68L31.2 234.92L31.7 235.04L32.2 234.91L32.7 235.13L33.2 235.48L33.7 235.38L34.2 234.86L34.7 235.22L35.2 235.22L35.7 235.13L36.2 235.30L36.7 234.87L37.2 234.95L37.7 235.11L38.2 234.64L38.7 234.92L39.2 233.92L39.7 233.30L40.2 234.28L40.7 234.60L41.2 234.43L41.7 233.47L42.2 233.23L42.7 233.93L43.2 235.22L43.7 234.70L44.2 233.62L44.7 233.77L45.2 234.45L45.7 234.77L46.2 235.21L46.7 235.98L47.2 235.45L47.7 235.61L48.2 234.96L48.7 235.36L49.2 235.79L49.7 235.41L50.2 235.17L50.7 235.23L51.2 235.27L51.7 235.04L52.2 235.28L52.7 235.14L53.2 235.20L53.7 235.22L54.2 235.32L54.7 235.32L55.2 235.43L55.7 235.26L56.2 235.19L56.7 235.18L57.2 235.32L57.7 235.42L58.2 235.28L58.7 235.18L59.2 235.28L59.7 235.28L60.2 235.26L60.7 235.17L61.2 234.97L61.7 235.20L62.2 235.38L62.7 235.29L63.2 235.02L63.7 235.27L64.2 235.06L64.7 235.49L65.2 235.29L65.7 235.14L66.2 235.36L66.7 235.19L67.2 235.34L67.7 235.28L68.2 235.15L68.7 235.36L69.2 235.13L69.7 235.44L70.2 235.29L70.7 235.17L71.2 235.09L71.7 235.47L72.2 235.46L72.7 235.16L73.2 235.48L73.7 235.32L74.2 235.28L74.7 235.29L75.2 235.28L75.7 235.47L76.2 235.33L76.7 235.10L77.2 235.55L77.7 235.41L78.2 235.19L78.7 235.28L79.2 235.22L79.7 235.33L80.2 235.37L80.7 235.35L81.2 235.26L81.7 235.24L82.2 235.42L82.7 235.32L83.2 235.59L83.7 235.24L84.2 235.43L84.7 235.34L85.2 235.26L85.7 235.49L86.2 235.36L86.7 235.25L87.2 235.31L87.7 235.46L88.2 235.21L88.7 235.51L89.2 235.43L89.7 235.32L90.2 235.51L90.7 235.56L91.2 235.43L91.7 235.38L92.2 235.57L92.7 235.53L93.2 235.26L93.7 235.35L94.2 235.35L94.7 235.33L95.2 235.21L95.7 235.48L96.2 235.39L96.7 235.39L97.2 235.54L97.7 235.32L98.2 235.38L98.7 235.42L99.2 235.34L99.7 235.38L100.2 235.48L100.7 235.39L101.2 235.55L101.7 235.31L102.2 235.42L102.7 235.24L103.2 235.39L103.7 235.33L104.2 235.56L104.7 235.49L105.2 235.47L105.7 235.62L106.2 235.58L106.7 235.50L107.2 235.34L107.7 235.26L108.2 235.42L108.7 235.38L109.2 235.35L109.7 235.39L110.2 235.24L110.7 235.60L111.2 235.30L111.7 235.36L112.2 235.50L112.7 235.25L113.2 235.54L113.7 235.55L114.2 235.41L114.7 235.32L115.2 235.39L115.7 235.24L116.2 235.61L116.7 235.46L117.2 235.37L117.7 235.35L118.2 235.52L118.7 235.63L119.2 235.31L119.7 235.39L120.2 235.26L120.7 235.54L121.2 235.48L121.7 235.72L122.2 235.45L122.7 235.42L123.2 235.39L123.7 235.57L124.2 235.29L124.7 235.56L125.2 235.51L125.7 235.42L126.2 235.38L126.7 235.60L127.2 235.70L127.7 235.44L128.2 235.55L128.7 235.69L129.2 235.42L129.7 235.47L130.2 235.36L130.7 235.48L131.2 235.49L131.7 235.45L132.2 235.42L132.7 235.32L133.2 235.35L133.7 235.40L134.2 235.58L134.7 235.45L135.2 235.42L135.7 235.59L136.2 235.58L136.7 235.43L137.2 235.45L137.7 235.60L138.2 235.57L138.7 235.43L139.2 235.56L139.7 235.53L140.2 235.66L140.7 235.43L141.2 235.64L141.7 235.59L142.2 235.42L142.7 235.66L143.2 235.65L143.7 235.39L144.2 235.77L144.5 235.42L145.1 230.77L145.7 233.13L146.5 229.52L147.2 232.22L148.0 229.94L148.8 232.15L149.8 229.24L150.8 227.65L151.5 227.39L152.3 230.50L153.2 233.58L154.3 235.27L155.1 235.46L155.7 235.60L156.2 235.60L156.7 235.45L157.2 235.46L157.7 235.56L158.2 235.57L158.7 235.30L159.2 235.71L159.7 235.60L160.2 235.60L160.7 235.63L161.2 235.48L161.7 235.59L162.2 235.71L162.7 235.71L163.2 235.64L163.7 235.55L164.2 235.49L164.7 235.74L165.2 235.64L165.7 235.53L166.2 235.32L166.7 235.47L167.2 235.35L167.7 235.72L168.2 235.59L168.7 235.48L169.2 235.53L169.7 235.87L170.2 235.70L170.7 235.40L171.2 235.54L171.7 235.41L172.2 235.35L172.7 235.57L173.2 235.83L173.7 235.73L174.2 235.55L174.7 235.50L175.2 235.57L175.7 235.66L176.2 235.37L176.7 235.32L177.2 235.76L177.7 235.57L178.2 235.72L178.7 235.56L179.2 235.70L179.7 235.46L180.2 235.58L180.7 235.71L181.2 235.64L181.7 235.47L182.2 235.62L182.7 235.44L183.2 235.35L183.7 235.57L184.2 235.68L184.7 235.61L185.2 235.36L185.7 235.61L186.2 235.58L186.7 235.45L187.2 235.20L187.7 235.62L188.2 235.60L188.7 235.55L189.2 235.29L189.7 235.31L190.2 235.61L190.7 235.58L191.2 235.54L191.7 235.45L192.2 235.53L192.7 235.42L193.2 235.44L193.7 235.37L194.2 235.50L194.7 235.42L195.2 235.58L195.7 235.55L196.2 235.37L196.7 235.68L197.2 235.33L197.7 235.52L198.2 235.59L198.7 235.61L199.2 235.19L199.7 235.57L200.2 235.60L200.7 235.62L201.2 235.18L201.7 235.37L202.2 235.43L202.7 235.39L203.2 235.60L203.7 235.36L204.2 235.59L204.7 235.52L205.2 235.32L205.7 235.53L206.2 235.86L206.7 236.19L207.2 236.32L207.7 235.95L208.2 235.79L208.7 235.32L209.2 235.07L209.7 235.38L210.2 235.47L210.7 235.37L211.2 235.29L211.7 235.46L212.2 235.64L212.7 235.39L213.2 235.32L213.7 235.30L214.2 235.64L214.7 235.39L215.2 235.47L215.7 235.54L216.2 235.52L216.7 235.28L217.2 235.50L217.7 235.49L218.2 235.44L218.7 235.51L219.2 235.32L219.7 235.37L220.2 235.32L220.7 235.47L221.2 235.30L221.7 235.42L222.2 235.24L222.7 235.35L223.2 235.32L223.7 235.35L224.2 235.38L224.7 235.34L225.2 235.33L225.7 235.11L226.2 235.49L226.7 235.28L227.2 235.32L227.7 235.25L228.2 235.47L228.7 235.24L229.2 235.41L229.7 235.49L230.2 235.54L230.7 235.48L231.2 235.41L231.7 235.19L232.2 235.49L232.7 235.48L233.2 235.43L233.7 235.43L234.2 235.34L234.7 235.26L235.2 235.45L235.7 235.47L236.2 235.20L236.7 235.43L237.2 235.35L237.7 235.42L238.2 235.35L238.7 235.44L239.2 235.43L239.7 235.41L240.2 235.14L240.7 235.40L241.2 235.31L241.7 235.17L242.2 235.38L242.7 235.13L243.2 235.40L243.7 235.50L244.2 235.23L244.7 235.40L245.2 235.34L245.7 235.36L246.2 235.12L246.7 235.36L247.2 235.30L247.7 235.37L248.2 235.28L248.7 235.41L249.2 235.31L249.7 235.35L250.2 235.43L250.7 235.29L251.2 235.39L251.7 235.29L252.2 235.33L252.7 235.20L253.2 235.35L253.7 235.40L254.2 235.25L254.7 235.35L255.2 235.30L255.7 235.12L256.2 235.29L256.7 235.40L257.2 235.19L257.7 235.03L258.2 235.27L258.7 235.16L259.2 235.46L259.7 235.23L260.2 235.23L260.7 235.16L261.2 235.26L261.7 235.16L262.2 235.12L262.7 235.22L263.2 235.13L263.7 235.38L264.2 235.08L264.7 235.21L265.2 235.14L265.7 235.05L266.2 235.41L266.7 234.96L267.2 235.38L267.7 235.04L268.2 235.22L268.7 235.47L269.2 234.95L269.7 235.04L270.2 235.35L270.7 235.22L271.2 235.13L271.7 235.19L272.2 235.08L272.7 235.20L273.2 235.36L273.7 235.14L274.2 235.20L274.7 235.32L275.2 235.41L275.7 235.11L276.2 235.21L276.7 235.11L277.2 235.10L277.7 235.12L278.2 235.10L278.7 234.96L279.2 234.93L279.7 235.08L280.2 235.18L280.7 235.30L281.2 235.10L281.7 235.14L282.2 235.23L282.7 235.24L283.2 235.14L283.7 235.14L284.2 235.37L284.7 235.11L285.2 235.09L285.7 234.95L286.2 235.19L286.7 235.11L287.2 235.36L287.7 235.10L288.2 235.23L288.7 235.24L289.2 235.32L289.7 234.97L290.2 235.31L290.7 235.13L291.2 235.11L291.7 235.08L292.2 235.07L292.7 235.08L293.2 234.84L293.7 235.17L294.2 235.12L294.7 235.00L295.2 235.10L295.7 235.38L296.2 235.15" stroke="#3c3c3c" class="tr"/>
<path d="M335.6 65.42L336.1 65.44L336.6 65.36L337.1 65.46L337.6 65.30L338.1 65.33L338.6 65.19L339.1 65.57L339.6 65.29L340.1 65.26L340.6 65.40L341.1 65.18L341.6 65.23L342.1 65.14L342.6 65.22L343.1 65.17L343.6 65.27L344.1 65.19L344.6 65.13L345.1 65.16L345.6 65.17L346.1 65.12L346.6 65.29L347.1 65.25L347.6 65.18L348.1 65.02L348.6 65.22L349.1 65.00L349.6 65.17L350.1 65.15L350.6 65.07L351.1 65.03L351.6 65.04L352.1 65.36L352.6 65.08L353.1 65.08L353.6 65.21L354.1 65.15L354.6 65.21L355.1 64.94L355.6 64.95L356.1 65.46L356.6 65.06L357.1 65.03L357.6 65.08L358.1 65.17L358.6 64.91L359.1 65.08L359.6 65.03L360.1 65.11L360.6 65.05L361.1 64.96L361.6 64.92L362.1 64.73L362.6 65.12L363.1 64.83L363.6 64.95L364.1 65.18L364.6 64.93L365.1 65.05L365.6 64.95L366.1 65.05L366.6 64.96L367.1 64.90L367.6 65.11L368.1 64.91L368.6 64.79L369.1 64.90L369.6 64.99L370.1 64.80L370.6 65.01L371.1 65.00L371.6 65.15L372.1 64.81L372.6 64.88L373.1 64.53L373.6 64.59L374.1 64.57L374.6 64.52L375.1 64.38L375.6 64.29L376.1 64.15L376.6 64.09L377.1 64.09L377.6 64.03L378.1 63.96L378.6 63.92L379.1 63.86L379.6 63.43L380.1 63.49L380.6 63.45L381.1 63.31L381.6 63.42L382.1 63.31L382.6 63.12L383.1 63.07L383.6 63.12L384.1 62.86L384.6 62.82L385.1 62.93L385.6 62.84L386.1 62.91L386.6 62.76L387.1 62.76L387.6 62.58L388.1 62.50L388.6 62.57L389.1 62.23L389.6 62.54L390.1 62.57L390.6 62.43L391.1 62.36L391.6 62.48L392.1 62.31L392.6 62.39L393.1 62.49L393.6 62.29L394.1 62.28L394.6 62.19L395.1 62.14L395.6 62.20L396.1 62.24L396.6 62.41L397.1 62.16L397.6 62.37L398.1 62.53L398.6 62.42L399.1 62.56L399.6 62.55L400.1 62.74L400.6 62.84L401.1 62.97L401.6 62.92L402.1 62.83L402.6 63.00L403.1 63.09L403.6 63.25L404.1 62.90L404.6 63.24L405.1 63.05L405.6 63.40L406.1 63.42L406.6 63.49L407.1 63.59L407.6 63.59L408.1 63.53L408.6 63.70L409.1 63.85L409.6 63.72L410.1 63.76L410.6 63.64L411.1 63.93L411.6 63.76L412.1 63.76L412.6 63.82L413.1 63.79L413.6 63.88L414.1 64.08L414.6 64.05L415.1 64.14L415.6 64.17L416.1 63.92L416.6 64.10L417.1 64.24L417.6 64.36L418.1 63.95L418.6 63.98L419.1 64.22L419.6 64.15L420.1 64.09L420.6 64.25L421.1 64.11L421.6 63.94L422.1 64.20L422.6 64.22L423.1 64.28L423.6 64.31L424.1 64.22L424.6 64.18L425.1 64.13L425.6 64.01L426.1 64.15L426.6 64.32L427.1 64.28L427.6 64.44L428.1 64.19L428.6 64.00L429.1 64.30L429.6 64.32L430.1 64.07L430.6 64.02L431.1 64.22L431.6 64.28L432.1 64.07L432.6 64.16L433.1 64.11L433.6 64.07L434.1 64.05L434.6 64.22L435.1 64.16L435.6 64.13L436.1 63.90L436.6 64.40L437.1 64.09L437.6 64.19L438.1 64.07L438.6 64.25L439.1 64.03L439.6 64.21L440.1 64.18L440.6 64.31L441.1 64.08L441.6 64.13L442.1 64.17L442.6 64.44L443.1 64.03L443.6 64.24L444.1 64.13L444.6 64.24L445.1 64.28L445.6 64.22L446.1 64.23L446.6 64.23L447.1 64.13L447.6 64.18L448.1 64.01L448.6 64.16L449.1 64.11L449.6 64.17L450.1 64.29L450.6 64.24L451.1 64.26L451.6 64.33L452.1 63.93L452.6 64.25L453.1 64.20L453.6 64.19L454.1 64.05L454.6 64.26L455.1 64.33L455.6 64.32L456.1 64.19L456.6 64.27L457.1 64.31L457.6 64.41L458.1 64.34L458.6 64.22L459.1 64.21L459.6 64.22L460.1 64.22L460.6 64.09L461.1 64.20L461.6 63.99L462.1 63.93L462.6 64.02L463.1 63.88L463.6 63.87L464.0 63.63L464.5 62.22L464.9 51.10L465.1 39.23L465.8 24.43L466.4 21.39L467.0 26.31L467.6 30.38L468.1 31.33L468.9 32.69L469.9 35.67L470.9 44.19L471.9 56.87L472.9 61.84L473.9 63.32L474.1 63.16L474.6 63.07L475.1 63.34L475.6 63.28L476.1 63.02L476.6 63.13L477.1 62.79L477.6 62.75L478.1 62.26L478.6 61.72L479.1 61.67L479.6 61.78L480.1 62.23L480.6 62.59L481.1 62.96L481.6 63.06L482.1 62.96L482.6 63.03L483.1 63.19L483.6 62.96L484.1 62.51L484.6 62.26L485.1 62.19L485.6 62.37L486.1 62.46L486.6 63.02L487.1 63.01L487.6 63.18L488.1 62.90L488.6 63.23L489.1 63.35L489.6 62.94L490.1 63.38L490.6 63.31L491.1 63.23L491.6 63.18L492.1 63.54L492.6 63.49L493.1 63.58L493.6 63.53L494.1 63.52L494.6 63.76L495.1 63.60L495.6 63.86L496.1 63.62L496.6 63.75L497.1 63.74L497.6 64.11L498.1 63.81L498.6 63.93L499.1 64.19L499.6 64.19L500.1 64.46L500.6 64.47L501.1 64.38L501.6 64.44L502.1 64.20L502.6 64.36L503.1 64.47L503.6 64.54L504.1 64.45L504.6 64.55L505.1 64.60L505.6 64.82L506.1 64.75L506.6 64.66L507.1 64.66L507.6 64.73L508.1 64.61L508.6 64.66L509.1 64.49L509.6 64.76L510.1 64.80L510.6 64.73L511.1 64.74L511.6 64.72L512.1 64.91L512.6 64.70L513.1 64.52L513.6 64.56L514.1 64.76L514.6 64.79L515.1 64.76L515.6 64.77L516.1 64.69L516.6 64.50L517.1 64.58L517.6 64.46L518.1 64.62L518.6 64.50L519.1 64.67L519.6 64.64L520.1 64.61L520.6 65.17L521.1 65.03L521.6 64.69L522.1 64.89L522.6 64.47L523.1 64.42L523.6 64.70L524.1 64.69L524.6 64.76L525.1 64.75L525.6 64.62L526.1 64.56L526.6 64.23L527.1 64.91L527.6 64.75L528.1 64.27L528.6 64.73L529.1 64.67L529.6 64.67L530.1 64.09L530.6 64.25L531.1 64.44L531.6 65.12L532.1 64.54L532.6 64.65L533.1 64.21L533.6 64.51L534.1 64.67L534.6 63.97L535.1 63.73L535.6 64.73L536.1 64.45L536.6 64.13L537.1 64.91L537.6 65.02L538.1 63.86L538.6 64.60L539.1 64.88L539.6 64.42L540.1 64.40L540.6 64.84L541.1 64.47L541.6 63.92L542.1 64.36L542.6 64.12L543.1 64.40L543.6 64.06L544.1 64.79L544.6 64.01L545.1 64.53L545.6 63.97L546.1 64.23L546.6 64.69L547.1 64.71L547.6 65.06L548.1 64.59L548.6 64.36L549.1 64.40L549.6 64.59L550.1 64.30L550.6 64.59L551.1 64.31L551.6 64.89L552.1 64.57L552.6 64.32L553.1 63.86L553.6 64.05L554.1 63.90L554.6 64.22L555.1 64.14L555.6 64.29L556.1 63.85L556.6 65.20L557.1 64.03L557.6 64.20L558.1 63.92L558.6 62.28L559.1 62.27L559.6 62.50L560.1 61.05L560.6 62.51L561.1 62.43L561.6 62.92L562.1 63.69L562.6 63.44L563.1 63.78L563.6 63.80L564.1 63.99L564.6 64.04L565.1 65.04L565.6 63.93L566.1 64.14L566.6 63.67L567.1 63.55L567.6 63.96L568.1 64.40L568.6 64.02L569.1 64.23L569.6 63.96L570.1 63.97L570.6 63.92L571.1 63.67L571.6 63.72L572.1 64.06L572.6 63.90L573.1 63.68L573.6 63.62L574.1 63.60L574.6 63.39L575.1 63.62L575.6 63.29L576.1 63.28L576.6 63.49L577.1 62.94L577.6 63.18L578.1 62.88L578.6 62.96L579.1 62.98L579.6 62.89L580.1 62.91L580.6 62.75L581.1 62.77L581.6 62.60L582.1 62.64L582.6 62.47L583.1 62.66L583.6 62.38L584.1 62.57L584.6 62.39L585.1 62.35L585.6 62.48L586.1 62.30L586.6 62.01L587.1 62.25L587.6 61.79L588.1 62.12L588.6 61.99L589.1 61.82L589.6 61.95L590.1 61.85L590.6 62.07L591.1 61.73L591.6 61.97L592.1 61.85L592.6 61.56L593.1 61.49L593.6 61.69L594.1 61.47L594.6 61.46L595.1 61.36L595.6 61.20L596.1 61.26L596.6 61.15L597.1 61.04L597.6 61.14L598.1 61.33L598.6 61.25L599.1 60.93L599.6 60.74L600.1 60.41L600.6 59.91L601.1 59.01L601.6 58.10L602.1 57.50L602.6 57.50L603.1 57.96L603.6 58.21L604.1 58.78L604.6 59.75L605.1 60.07L605.6 60.31L606.1 60.53L606.6 60.40L607.1 60.20L607.6 60.09L608.1 60.28L608.6 60.10L609.1 60.23L609.6 60.00L610.1 60.07L610.6 59.89L611.1 59.98L611.6 59.93L612.1 60.01L612.6 60.06L613.1 59.84L613.6 59.71L614.1 60.01L614.6 59.77L615.1 59.77" stroke="#4f8fd4" class="tr"/>
<path d="M335.6 83.20L336.1 82.70L336.6 82.96L337.1 82.96L337.6 82.92L338.1 82.75L338.6 82.75L339.1 82.86L339.6 82.90L340.1 82.74L340.6 82.75L341.1 82.95L341.6 83.00L342.1 82.81L342.6 82.79L343.1 82.79L343.6 83.17L344.1 82.93L344.6 82.86L345.1 82.99L345.6 83.14L346.1 83.01L346.6 82.69L347.1 82.85L347.6 82.81L348.1 82.82L348.6 82.71L349.1 82.81L349.6 82.73L350.1 82.90L350.6 82.86L351.1 82.68L351.6 82.65L352.1 82.79L352.6 82.93L353.1 82.91L353.6 82.84L354.1 82.45L354.6 82.78L355.1 82.75L355.6 82.80L356.1 82.69L356.6 82.78L357.1 82.76L357.6 83.16L358.1 82.92L358.6 82.81L359.1 82.82L359.6 82.81L360.1 82.85L360.6 82.78L361.1 82.82L361.6 82.95L362.1 82.92L362.6 82.86L363.1 82.98L363.6 82.84L364.1 82.70L364.6 82.60L365.1 82.73L365.6 82.80L366.1 82.86L366.6 82.94L367.1 82.74L367.6 82.71L368.1 82.90L368.6 82.95L369.1 82.75L369.6 82.84L370.1 82.97L370.6 82.84L371.1 82.79L371.6 82.55L372.1 82.94L372.6 82.83L373.1 83.04L373.6 83.56L374.1 83.63L374.6 83.08L375.1 82.33L375.6 82.12L376.1 81.68L376.6 81.88L377.1 81.59L377.6 81.61L378.1 81.23L378.6 81.27L379.1 81.26L379.6 81.00L380.1 80.70L380.6 80.75L381.1 80.77L381.6 80.45L382.1 80.36L382.6 80.48L383.1 80.25L383.6 80.36L384.1 80.05L384.6 79.89L385.1 79.93L385.6 80.11L386.1 79.75L386.6 79.76L387.1 79.72L387.6 79.58L388.1 79.83L388.6 79.72L389.1 79.75L389.6 79.49L390.1 79.48L390.6 79.36L391.1 79.67L391.6 79.67L392.1 79.78L392.6 79.87L393.1 79.66L393.6 79.66L394.1 79.75L394.6 79.88L395.1 79.60L395.6 79.77L396.1 79.67L396.6 79.66L397.1 79.79L397.6 79.60L398.1 79.57L398.6 79.78L399.1 79.69L399.6 79.66L400.1 79.68L400.6 79.76L401.1 79.65L401.6 79.79L402.1 79.75L402.6 79.87L403.1 79.85L403.6 79.80L404.1 79.67L404.6 79.71L405.1 79.62L405.6 80.04L406.1 79.67L406.6 79.76L407.1 79.86L407.6 79.53L408.1 79.60L408.6 79.65L409.1 79.58L409.6 79.57L410.1 79.69L410.6 79.93L411.1 79.89L411.6 79.84L412.1 79.86L412.6 79.68L413.1 79.99L413.6 79.99L414.1 79.83L414.6 80.01L415.1 79.99L415.6 79.98L416.1 79.95L416.6 80.01L417.1 80.00L417.6 80.20L418.1 80.21L418.6 80.23L419.1 80.20L419.6 80.20L420.1 80.52L420.6 80.08L421.1 80.47L421.6 80.39L422.1 80.39L422.6 80.34L423.1 80.40L423.6 80.31L424.1 80.32L424.6 80.49L425.1 80.33L425.6 80.66L426.1 80.72L426.6 80.20L427.1 80.45L427.6 80.70L428.1 80.72L428.6 80.73L429.1 80.79L429.6 80.86L430.1 80.90L430.6 81.03L431.1 80.85L431.6 80.98L432.1 80.70L432.6 80.91L433.1 80.80L433.6 81.14L434.1 81.28L434.6 81.07L435.1 80.86L435.6 81.01L436.1 81.03L436.6 81.06L437.1 81.18L437.6 81.17L438.1 80.74L438.6 81.23L439.1 81.02L439.6 81.02L440.1 81.26L440.6 81.07L441.1 80.94L441.6 80.95L442.1 81.13L442.6 81.24L443.1 81.32L443.6 81.12L444.1 81.10L444.6 81.36L445.1 81.11L445.6 81.35L446.1 81.21L446.6 81.22L447.1 81.17L447.6 81.24L448.1 81.16L448.6 81.14L449.1 81.21L449.6 81.16L450.1 81.28L450.6 81.26L451.1 81.23L451.6 81.24L452.1 81.25L452.6 81.49L453.1 81.29L453.6 81.23L454.1 81.27L454.6 81.39L455.1 81.30L455.6 81.31L456.1 81.31L456.6 81.36L457.1 81.40L457.6 81.41L458.1 81.17L458.6 81.25L459.1 81.07L459.6 81.49L460.1 81.52L460.6 81.52L461.1 81.35L461.6 81.44L462.1 81.27L462.6 81.23L463.1 81.03L463.6 81.09L464.0 81.09L464.5 79.84L464.9 70.78L465.1 60.69L465.8 48.46L466.4 45.96L467.0 50.01L467.6 53.02L468.1 54.16L468.9 55.08L469.9 57.62L470.9 64.95L471.9 75.42L472.9 79.63L473.9 80.78L474.1 80.61L474.6 80.83L475.1 80.53L475.6 80.74L476.1 80.79L476.6 80.65L477.1 80.56L477.6 80.84L478.1 80.68L478.6 80.86L479.1 80.87L479.6 80.78L480.1 80.79L480.6 80.91L481.1 80.84L481.6 80.69L482.1 80.83L482.6 80.88L483.1 80.84L483.6 80.85L484.1 80.81L484.6 80.82L485.1 80.73L485.6 80.68L486.1 80.99L486.6 80.78L487.1 80.89L487.6 80.69L488.1 80.89L488.6 80.78L489.1 81.24L489.6 80.77L490.1 80.78L490.6 81.03L491.1 81.07L491.6 80.69L492.1 80.99L492.6 81.08L493.1 80.84L493.6 81.09L494.1 80.96L494.6 80.92L495.1 81.01L495.6 81.01L496.1 80.91L496.6 81.36L497.1 81.06L497.6 81.04L498.1 81.24L498.6 81.15L499.1 81.33L499.6 81.15L500.1 81.24L500.6 81.23L501.1 81.25L501.6 81.22L502.1 81.25L502.6 81.47L503.1 81.21L503.6 81.24L504.1 81.28L504.6 81.40L505.1 81.40L505.6 81.48L506.1 81.22L506.6 81.43L507.1 81.39L507.6 81.39L508.1 81.46L508.6 81.22L509.1 81.50L509.6 81.50L510.1 81.33L510.6 81.50L511.1 81.71L511.6 81.50L512.1 81.63L512.6 81.55L513.1 81.49L513.6 81.50L514.1 81.57L514.6 81.79L515.1 81.75L515.6 81.58L516.1 81.80L516.6 81.68L517.1 81.63L517.6 81.78L518.1 81.63L518.6 83.40L519.1 80.88L519.6 82.64L520.1 81.09L520.6 82.50L521.1 79.85L521.6 82.58L522.1 80.56L522.6 82.82L523.1 80.75L523.6 82.99L524.1 80.50L524.6 83.08L525.1 80.82L525.6 82.41L526.1 79.62L526.6 83.42L527.1 79.82L527.6 82.88L528.1 79.80L528.6 83.77L529.1 80.34L529.6 82.99L530.1 79.58L530.6 82.54L531.1 79.95L531.6 83.59L532.1 79.61L532.6 83.76L533.1 80.35L533.6 82.18L534.1 80.33L534.6 82.66L535.1 79.91L535.6 83.16L536.1 79.43L536.6 82.79L537.1 80.11L537.6 82.24L538.1 79.41L538.6 83.16L539.1 80.38L539.6 82.95L540.1 80.06L540.6 83.45L541.1 80.39L541.6 81.54L542.1 81.48L542.6 81.54L543.1 81.29L543.6 81.43L544.1 81.37L544.6 81.42L545.1 81.37L545.6 81.46L546.1 81.08L546.6 81.50L547.1 81.64L547.6 81.28L548.1 81.40L548.6 80.90L549.1 81.12L549.6 80.92L550.1 81.30L550.6 80.98L551.1 81.39L551.6 80.99L552.1 81.61L552.6 80.79L553.1 80.93L553.6 81.75L554.1 81.15L554.6 80.94L555.1 81.40L555.6 81.28L556.1 81.29L556.6 80.33L557.1 81.11L557.6 80.45L558.1 81.42L558.6 80.72L559.1 80.27L559.6 80.26L560.1 79.49L560.6 78.87L561.1 79.50L561.6 79.01L562.1 78.98L562.6 80.36L563.1 80.69L563.6 80.88L564.1 80.80L564.6 80.30L565.1 80.87L565.6 81.18L566.1 80.73L566.6 80.91L567.1 80.21L567.6 80.86L568.1 80.95L568.6 79.94L569.1 80.14L569.6 80.36L570.1 80.36L570.6 80.41L571.1 80.10L571.6 80.11L572.1 80.15L572.6 80.20L573.1 80.20L573.6 80.21L574.1 79.93L574.6 79.79L575.1 79.86L575.6 80.08L576.1 79.47L576.6 80.24L577.1 79.61L577.6 79.59L578.1 79.48L578.6 79.01L579.1 79.18L579.6 79.35L580.1 79.02L580.6 78.75L581.1 79.27L581.6 79.12L582.1 78.95L582.6 79.14L583.1 78.87L583.6 78.50L584.1 78.45L584.6 78.24L585.1 78.24L585.6 78.60L586.1 78.61L586.6 78.08L587.1 78.14L587.6 78.47L588.1 77.87L588.6 78.40L589.1 78.11L589.6 78.56L590.1 77.86L590.6 78.06L591.1 77.67L591.6 78.18L592.1 77.44L592.6 77.84L593.1 77.68L593.6 77.56L594.1 77.42L594.6 77.49L595.1 77.58L595.6 77.82L596.1 77.51L596.6 76.78L597.1 77.32L597.6 76.85L598.1 77.57L598.6 77.61L599.1 77.01L599.6 76.97L600.1 77.25L600.6 76.62L601.1 75.82L601.6 75.28L602.1 74.74L602.6 74.52L603.1 74.90L603.6 75.47L604.1 76.06L604.6 76.50L605.1 76.95L605.6 76.81L606.1 77.14L606.6 77.05L607.1 77.07L607.6 76.75L608.1 77.21L608.6 76.79L609.1 76.88L609.6 77.04L610.1 76.88L610.6 76.89L611.1 76.66L611.6 76.86L612.1 76.92L612.6 76.96L613.1 76.83L613.6 76.87L614.1 76.88L614.6 76.74L615.1 76.72" stroke="#f0622c" class="tr"/>
<path d="M335.6 99.92L336.1 99.87L336.6 100.10L337.1 99.95L337.6 99.97L338.1 100.12L338.6 99.85L339.1 99.91L339.6 99.79L340.1 99.94L340.6 100.03L341.1 100.07L341.6 99.90L342.1 99.82L342.6 99.82L343.1 99.74L343.6 99.92L344.1 100.07L344.6 99.62L345.1 99.65L345.6 100.07L346.1 99.71L346.6 99.95L347.1 99.76L347.6 100.00L348.1 100.00L348.6 99.93L349.1 100.01L349.6 99.91L350.1 99.97L350.6 100.13L351.1 100.04L351.6 99.83L352.1 99.81L352.6 99.88L353.1 99.88L353.6 99.92L354.1 99.84L354.6 99.99L355.1 99.91L355.6 99.95L356.1 99.91L356.6 99.98L357.1 99.76L357.6 100.10L358.1 99.95L358.6 99.96L359.1 99.98L359.6 100.04L360.1 100.00L360.6 99.94L361.1 99.89L361.6 99.71L362.1 99.93L362.6 99.87L363.1 99.87L363.6 100.20L364.1 99.69L364.6 99.92L365.1 100.05L365.6 100.02L366.1 100.06L366.6 99.76L367.1 99.79L367.6 99.98L368.1 99.87L368.6 100.11L369.1 99.94L369.6 99.93L370.1 99.96L370.6 99.88L371.1 99.92L371.6 99.83L372.1 99.91L372.6 99.91L373.1 100.05L373.6 99.93L374.1 100.12L374.6 100.74L375.1 101.20L375.6 101.31L376.1 101.23L376.6 100.74L377.1 100.81L377.6 100.27L378.1 100.66L378.6 100.39L379.1 100.58L379.6 100.54L380.1 100.55L380.6 100.64L381.1 100.55L381.6 100.34L382.1 100.20L382.6 100.48L383.1 100.33L383.6 100.11L384.1 99.98L384.6 99.98L385.1 99.88L385.6 99.94L386.1 99.61L386.6 99.66L387.1 99.49L387.6 99.67L388.1 99.65L388.6 99.35L389.1 99.36L389.6 99.39L390.1 99.11L390.6 98.96L391.1 99.13L391.6 98.99L392.1 98.83L392.6 98.96L393.1 98.74L393.6 98.43L394.1 98.61L394.6 98.49L395.1 98.65L395.6 98.35L396.1 98.25L396.6 98.26L397.1 98.16L397.6 97.89L398.1 98.00L398.6 97.88L399.1 98.01L399.6 98.06L400.1 97.36L400.6 97.69L401.1 98.17L401.6 97.48L402.1 97.06L402.6 97.50L403.1 96.89L403.6 97.14L404.1 96.82L404.6 97.24L405.1 97.16L405.6 97.51L406.1 97.62L406.6 96.48L407.1 96.36L407.6 96.95L408.1 96.64L408.6 96.56L409.1 96.26L409.6 96.72L410.1 96.43L410.6 95.82L411.1 96.42L411.6 96.54L412.1 97.00L412.6 96.16L413.1 96.27L413.6 97.24L414.1 96.24L414.6 96.82L415.1 96.86L415.6 95.84L416.1 93.96L416.6 93.36L417.1 95.65L417.6 96.07L418.1 96.41L418.6 97.66L419.1 97.22L419.6 96.53L420.1 96.65L420.6 97.49L421.1 97.56L421.6 97.43L422.1 98.75L422.6 99.40L423.1 99.30L423.6 99.67L424.1 99.76L424.6 99.55L425.1 99.63L425.6 99.93L426.1 99.85L426.6 99.74L427.1 99.80L427.6 99.83L428.1 99.73L428.6 99.83L429.1 99.80L429.6 99.85L430.1 99.98L430.6 99.83L431.1 100.06L431.6 100.01L432.1 100.11L432.6 100.15L433.1 100.22L433.6 100.17L434.1 100.20L434.6 100.10L435.1 100.19L435.6 100.02L436.1 100.11L436.6 100.23L437.1 100.14L437.6 100.21L438.1 100.03L438.6 100.33L439.1 100.10L439.6 100.22L440.1 100.18L440.6 100.30L441.1 100.15L441.6 100.08L442.1 99.98L442.6 100.17L443.1 100.07L443.6 100.29L444.1 100.40L444.6 99.97L445.1 100.08L445.6 100.28L446.1 100.40L446.6 100.29L447.1 100.30L447.6 100.33L448.1 100.34L448.6 100.48L449.1 100.36L449.6 100.14L450.1 100.24L450.6 100.33L451.1 100.21L451.6 100.28L452.1 100.26L452.6 100.24L453.1 100.42L453.6 100.29L454.1 100.21L454.6 100.26L455.1 100.36L455.6 100.62L456.1 100.40L456.6 100.55L457.1 100.44L457.6 100.12L458.1 100.44L458.6 100.29L459.1 100.24L459.6 100.28L460.1 100.63L460.6 100.21L461.1 100.32L461.6 100.53L462.1 100.46L462.6 100.16L463.1 100.35L463.6 100.29L464.0 100.32L464.5 99.18L464.9 90.90L465.1 82.19L465.8 71.48L466.4 68.89L467.0 72.80L467.6 75.70L468.1 76.42L468.9 77.42L469.9 79.50L470.9 86.22L471.9 95.47L472.9 99.36L473.9 100.31L474.1 100.19L474.6 100.13L475.1 100.20L475.6 100.17L476.1 100.01L476.6 100.27L477.1 100.16L477.6 100.22L478.1 99.96L478.6 100.22L479.1 100.36L479.6 100.17L480.1 99.91L480.6 100.09L481.1 100.07L481.6 100.09L482.1 100.03L482.6 100.11L483.1 99.98L483.6 100.06L484.1 99.94L484.6 100.03L485.1 100.13L485.6 99.94L486.1 100.07L486.6 99.88L487.1 99.93L487.6 99.94L488.1 100.11L488.6 99.86L489.1 100.09L489.6 99.76L490.1 99.91L490.6 100.03L491.1 100.00L491.6 99.78L492.1 99.75L492.6 100.00L493.1 99.73L493.6 99.94L494.1 99.80L494.6 99.86L495.1 100.13L495.6 100.03L496.1 99.93L496.6 99.66L497.1 99.86L497.6 99.82L498.1 99.79L498.6 99.95L499.1 99.58L499.6 99.82L500.1 99.78L500.6 99.67L501.1 99.96L501.6 99.59L502.1 99.74L502.6 99.74L503.1 99.45L503.6 99.54L504.1 99.59L504.6 99.79L505.1 99.80L505.6 99.75L506.1 99.70L506.6 99.40L507.1 99.68L507.6 99.59L508.1 99.78L508.6 99.80L509.1 99.90L509.6 99.70L510.1 99.71L510.6 99.47L511.1 99.60L511.6 99.43L512.1 99.68L512.6 99.42L513.1 99.53L513.6 99.45L514.1 99.49L514.6 99.59L515.1 99.46L515.6 99.55L516.1 99.39L516.6 99.67L517.1 99.42L517.6 99.61L518.1 99.74L518.6 99.18L519.1 99.34L519.6 99.43L520.1 99.59L520.6 99.38L521.1 99.48L521.6 99.33L522.1 99.48L522.6 99.26L523.1 99.50L523.6 99.03L524.1 99.15L524.6 99.60L525.1 99.39L525.6 99.25L526.1 99.62L526.6 99.47L527.1 99.47L527.6 99.28L528.1 99.40L528.6 99.37L529.1 99.10L529.6 99.37L530.1 99.26L530.6 99.44L531.1 99.43L531.6 99.18L532.1 99.18L532.6 99.27L533.1 99.32L533.6 99.18L534.1 99.21L534.6 99.29L535.1 99.26L535.6 99.33L536.1 99.21L536.6 99.05L537.1 98.93L537.6 99.23L538.1 99.08L538.6 99.06L539.1 99.06L539.6 98.88L540.1 99.07L540.6 98.90L541.1 98.72L541.6 98.83L542.1 99.09L542.6 99.23L543.1 99.02L543.6 98.65L544.1 98.88L544.6 99.30L545.1 98.64L545.6 98.91L546.1 99.04L546.6 99.21L547.1 98.59L547.6 98.78L548.1 98.69L548.6 98.27L549.1 98.79L549.6 98.04L550.1 97.57L550.6 98.27L551.1 98.11L551.6 98.03L552.1 98.52L552.6 98.25L553.1 98.66L553.6 98.32L554.1 98.52L554.6 98.19L555.1 97.45L555.6 97.84L556.1 97.47L556.6 98.01L557.1 98.18L557.6 98.45L558.1 98.36L558.6 98.68L559.1 98.32L559.6 98.26L560.1 98.75L560.6 97.96L561.1 98.41L561.6 98.62L562.1 98.34L562.6 98.88L563.1 98.60L563.6 98.47L564.1 98.24L564.6 98.65L565.1 98.41L565.6 98.08L566.1 98.51L566.6 98.39L567.1 98.94L567.6 98.45L568.1 97.74L568.6 98.08L569.1 98.64L569.6 98.25L570.1 98.40L570.6 98.61L571.1 97.98L571.6 97.72L572.1 97.87L572.6 98.28L573.1 98.27L573.6 98.06L574.1 97.60L574.6 97.71L575.1 97.65L575.6 97.40L576.1 97.75L576.6 97.53L577.1 97.55L577.6 98.16L578.1 98.00L578.6 97.72L579.1 97.61L579.6 97.52L580.1 97.89L580.6 97.32L581.1 97.56L581.6 97.74L582.1 97.65L582.6 97.57L583.1 97.17L583.6 97.94L584.1 97.12L584.6 97.65L585.1 97.21L585.6 97.71L586.1 97.76L586.6 96.94L587.1 97.45L587.6 96.87L588.1 97.24L588.6 97.34L589.1 98.04L589.6 97.01L590.1 97.60L590.6 97.13L591.1 97.32L591.6 97.39L592.1 97.05L592.6 96.94L593.1 96.76L593.6 97.06L594.1 97.06L594.6 97.32L595.1 96.65L595.6 96.81L596.1 96.48L596.6 96.46L597.1 96.41L597.6 97.26L598.1 97.45L598.6 96.92L599.1 96.32L599.6 96.58L600.1 96.41L600.6 95.62L601.1 94.98L601.6 94.27L602.1 93.26L602.6 93.19L603.1 93.61L603.6 94.21L604.1 95.32L604.6 95.75L605.1 96.02L605.6 96.03L606.1 96.30L606.6 96.26L607.1 96.09L607.6 96.07L608.1 95.90L608.6 96.04L609.1 96.13L609.6 96.11L610.1 96.02L610.6 96.02L611.1 95.80L611.6 95.78L612.1 95.96L612.6 95.83L613.1 95.64L613.6 95.76L614.1 95.77L614.6 95.72L615.1 95.62" stroke="#8f9a24" class="tr"/>
<path d="M335.6 118.98L336.1 118.88L336.6 118.86L337.1 118.77L337.6 118.80L338.1 118.28L338.6 118.67L339.1 118.81L339.6 118.78L340.1 118.72L340.6 118.97L341.1 118.82L341.6 118.90L342.1 119.37L342.6 118.66L343.1 118.89L343.6 118.86L344.1 118.94L344.6 118.77L345.1 118.52L345.6 118.45L346.1 119.00L346.6 119.01L347.1 118.33L347.6 118.89L348.1 118.88L348.6 119.15L349.1 119.03L349.6 118.90L350.1 119.26L350.6 118.34L351.1 118.88L351.6 118.07L352.1 118.18L352.6 118.47L353.1 118.27L353.6 118.99L354.1 118.83L354.6 118.68L355.1 118.61L355.6 118.70L356.1 118.72L356.6 118.75L357.1 118.81L357.6 118.47L358.1 118.58L358.6 118.50L359.1 119.03L359.6 118.35L360.1 118.56L360.6 117.65L361.1 116.93L361.6 115.77L362.1 115.61L362.6 116.15L363.1 117.29L363.6 118.06L364.1 118.67L364.6 118.75L365.1 118.79L365.6 118.92L366.1 118.63L366.6 118.87L367.1 118.72L367.6 118.53L368.1 118.77L368.6 118.68L369.1 118.92L369.6 118.65L370.1 118.71L370.6 118.73L371.1 118.47L371.6 118.76L372.1 118.57L372.6 118.81L373.1 118.80L373.6 118.54L374.1 118.29L374.6 118.46L375.1 118.41L375.6 118.43L376.1 118.25L376.6 118.09L377.1 118.17L377.6 118.03L378.1 118.31L378.6 117.95L379.1 117.91L379.6 117.93L380.1 117.74L380.6 117.79L381.1 117.77L381.6 117.68L382.1 117.66L382.6 117.79L383.1 117.64L383.6 117.38L384.1 117.44L384.6 117.53L385.1 117.31L385.6 117.35L386.1 117.29L386.6 117.31L387.1 117.17L387.6 117.12L388.1 116.98L388.6 117.08L389.1 116.88L389.6 117.15L390.1 116.89L390.6 116.81L391.1 116.89L391.6 116.73L392.1 116.70L392.6 116.63L393.1 116.50L393.6 116.43L394.1 116.40L394.6 116.58L395.1 116.31L395.6 116.25L396.1 116.16L396.6 116.21L397.1 116.28L397.6 115.84L398.1 115.94L398.6 115.80L399.1 115.66L399.6 115.67L400.1 115.37L400.6 115.54L401.1 115.38L401.6 115.15L402.1 115.38L402.6 115.20L403.1 115.15L403.6 114.75L404.1 114.81L404.6 114.69L405.1 114.75L405.6 114.75L406.1 114.26L406.6 114.41L407.1 114.31L407.6 114.36L408.1 114.15L408.6 113.91L409.1 113.91L409.6 113.47L410.1 113.16L410.6 112.93L411.1 112.52L411.6 112.28L412.1 111.72L412.6 111.85L413.1 111.39L413.6 110.98L414.1 110.40L414.6 109.96L415.1 109.78L415.6 109.52L416.1 109.48L416.6 109.03L417.1 108.63L417.6 109.33L418.1 109.82L418.6 110.16L419.1 110.80L419.6 111.18L420.1 111.54L420.6 111.97L421.1 112.58L421.6 113.21L422.1 113.41L422.6 113.86L423.1 114.61L423.6 114.70L424.1 115.75L424.6 115.96L425.1 116.51L425.6 116.73L426.1 116.42L426.6 116.56L427.1 117.05L427.6 116.83L428.1 116.94L428.6 117.07L429.1 117.26L429.6 117.38L430.1 117.32L430.6 117.35L431.1 117.48L431.6 117.61L432.1 117.82L432.6 117.77L433.1 118.06L433.6 117.82L434.1 118.07L434.6 118.22L435.1 118.16L435.6 118.05L436.1 117.90L436.6 117.92L437.1 117.99L437.6 118.05L438.1 117.99L438.6 117.84L439.1 117.93L439.6 118.09L440.1 118.13L440.6 117.85L441.1 117.98L441.6 117.82L442.1 117.96L442.6 118.47L443.1 118.04L443.6 117.99L444.1 117.97L444.6 117.89L445.1 117.81L445.6 118.04L446.1 118.01L446.6 118.23L447.1 117.85L447.6 118.11L448.1 118.22L448.6 117.82L449.1 118.14L449.6 117.86L450.1 118.13L450.6 118.24L451.1 118.07L451.6 118.10L452.1 117.98L452.6 118.11L453.1 118.21L453.6 118.05L454.1 118.06L454.6 118.13L455.1 118.18L455.6 117.88L456.1 118.09L456.6 118.00L457.1 118.15L457.6 118.22L458.1 118.13L458.6 118.25L459.1 117.97L459.6 118.05L460.1 117.98L460.6 118.10L461.1 118.11L461.6 118.07L462.1 117.94L462.6 118.08L463.1 118.03L463.6 118.16L464.2 118.05L464.7 116.36L465.2 108.80L465.8 101.10L466.4 99.45L467.0 103.01L467.4 105.91L467.9 104.84L468.5 105.41L469.2 108.81L470.0 112.29L471.0 115.91L472.0 117.60L472.8 118.00L473.1 117.85L473.6 118.04L474.1 118.07L474.6 118.11L475.1 118.21L475.6 118.12L476.1 117.97L476.6 118.03L477.1 118.09L477.6 117.88L478.1 118.17L478.6 118.12L479.1 117.98L479.6 117.92L480.1 118.47L480.6 118.10L481.1 118.11L481.6 118.21L482.1 118.11L482.6 118.01L483.1 118.07L483.6 117.87L484.1 118.07L484.6 117.79L485.1 118.03L485.6 118.04L486.1 117.78L486.6 118.20L487.1 117.82L487.6 118.09L488.1 117.90L488.6 118.00L489.1 117.87L489.6 118.26L490.1 118.08L490.6 118.17L491.1 118.04L491.6 118.03L492.1 117.96L492.6 117.91L493.1 118.01L493.6 117.95L494.1 117.91L494.6 117.76L495.1 117.89L495.6 118.00L496.1 117.86L496.6 117.96L497.1 117.90L497.6 117.79L498.1 117.80L498.6 117.82L499.1 117.87L499.6 117.87L500.1 118.04L500.6 117.77L501.1 117.65L501.6 117.98L502.1 117.84L502.6 117.88L503.1 118.20L503.6 118.07L504.1 117.95L504.6 118.00L505.1 117.89L505.6 117.99L506.1 117.80L506.6 117.78L507.1 117.81L507.6 118.06L508.1 118.05L508.6 117.79L509.1 118.00L509.6 117.84L510.1 117.99L510.6 117.81L511.1 117.97L511.6 117.83L512.1 117.81L512.6 117.84L513.1 117.86L513.6 117.76L514.1 117.66L514.6 118.04L515.1 117.78L515.6 117.60L516.1 117.54L516.6 117.48L517.1 117.74L517.6 117.98L518.1 117.61L518.6 117.77L519.1 117.58L519.6 117.94L520.1 117.85L520.6 117.84L521.1 117.97L521.6 118.00L522.1 117.92L522.6 117.72L523.1 117.63L523.6 117.66L524.1 117.57L524.6 118.00L525.1 117.71L525.6 117.52L526.1 116.92L526.6 116.32L527.1 115.72L527.6 116.53L528.1 117.22L528.6 117.60L529.1 117.50L529.6 117.87L530.1 117.66L530.6 117.69L531.1 117.73L531.6 117.58L532.1 117.32L532.6 116.22L533.1 114.80L533.6 112.81L534.1 110.97L534.6 110.32L535.1 110.93L535.6 112.91L536.1 114.68L536.6 116.11L537.1 117.15L537.6 117.68L538.1 117.60L538.6 117.62L539.1 117.67L539.6 117.73L540.1 117.68L540.6 117.74L541.1 117.49L541.6 117.88L542.1 117.77L542.6 117.59L543.1 117.86L543.6 117.74L544.1 117.87L544.6 117.54L545.1 117.88L545.6 117.68L546.1 117.42L546.6 117.77L547.1 117.63L547.6 117.54L548.1 117.64L548.6 117.42L549.1 117.73L549.6 117.63L550.1 117.62L550.6 117.83L551.1 117.65L551.6 117.57L552.1 117.53L552.6 117.63L553.1 117.77L553.6 117.57L554.1 117.51L554.6 117.75L555.1 117.64L555.6 117.62L556.1 117.88L556.6 117.47L557.1 117.64L557.6 117.39L558.1 117.55L558.6 117.56L559.1 117.37L559.6 116.54L560.1 116.01L560.6 115.21L561.1 114.75L561.6 115.37L562.1 115.82L562.6 116.48L563.1 117.15L563.6 117.11L564.1 117.60L564.6 117.54L565.1 117.35L565.6 117.46L566.1 117.43L566.6 117.58L567.1 117.24L567.6 117.14L568.1 117.03L568.6 117.22L569.1 117.05L569.6 117.20L570.1 117.25L570.6 117.13L571.1 117.04L571.6 117.29L572.1 117.10L572.6 117.13L573.1 117.20L573.6 116.90L574.1 116.93L574.6 117.33L575.1 116.98L575.6 116.85L576.1 116.93L576.6 116.87L577.1 116.77L577.6 116.85L578.1 116.88L578.6 116.86L579.1 116.91L579.6 116.61L580.1 116.62L580.6 116.88L581.1 116.71L581.6 116.89L582.1 116.76L582.6 116.53L583.1 116.75L583.6 116.54L584.1 116.67L584.6 116.77L585.1 116.86L585.6 116.57L586.1 116.65L586.6 116.58L587.1 116.62L587.6 116.19L588.1 116.43L588.6 116.50L589.1 116.50L589.6 116.33L590.1 116.50L590.6 116.51L591.1 116.37L591.6 116.31L592.1 116.27L592.6 116.31L593.1 116.41L593.6 116.43L594.1 116.17L594.6 116.09L595.1 116.08L595.6 116.28L596.1 116.16L596.6 116.15L597.1 116.15L597.6 116.11L598.1 116.00L598.6 115.80L599.1 115.67L599.6 115.42L600.1 114.96L600.6 114.27L601.1 113.76L601.6 113.76L602.1 113.71L602.6 114.25L603.1 114.74L603.6 115.13L604.1 115.34L604.6 115.60L605.1 115.61L605.6 115.81L606.1 115.55L606.6 115.62L607.1 115.73L607.6 115.62L608.1 115.67L608.6 115.69L609.1 115.36L609.6 115.49L610.1 115.40L610.6 115.66L611.1 115.46L611.6 115.52L612.1 115.64L612.6 115.37L613.1 115.40L613.6 115.42L614.1 115.31L614.6 115.48L615.1 115.41" stroke="#6b2c3c" class="tr"/>
<path d="M335.6 137.79L336.1 137.58L336.6 137.78L337.1 137.48L337.6 137.54L338.1 137.69L338.6 137.69L339.1 137.62L339.6 137.89L340.1 137.66L340.6 137.69L341.1 137.59L341.6 137.86L342.1 137.77L342.6 137.72L343.1 137.48L343.6 137.72L344.1 137.63L344.6 137.73L345.1 137.80L345.6 137.60L346.1 137.73L346.6 137.81L347.1 137.73L347.6 137.67L348.1 137.59L348.6 137.64L349.1 137.57L349.6 137.85L350.1 137.75L350.6 137.59L351.1 137.74L351.6 137.59L352.1 137.35L352.6 137.90L353.1 137.90L353.6 137.59L354.1 137.68L354.6 137.80L355.1 137.73L355.6 137.68L356.1 137.72L356.6 137.76L357.1 137.73L357.6 137.82L358.1 137.77L358.6 137.71L359.1 137.81L359.6 137.56L360.1 137.72L360.6 136.59L361.1 134.98L361.6 132.11L362.1 129.28L362.6 128.43L363.1 130.39L363.6 133.21L364.1 135.89L364.6 137.28L365.1 137.80L365.6 138.22L366.1 138.98L366.6 139.15L367.1 139.13L367.6 138.70L368.1 138.24L368.6 138.02L369.1 137.89L369.6 137.95L370.1 137.91L370.6 137.89L371.1 137.95L371.6 137.63L372.1 137.87L372.6 137.56L373.1 137.64L373.6 137.53L374.1 137.42L374.6 137.16L375.1 137.53L375.6 137.19L376.1 137.14L376.6 137.30L377.1 137.13L377.6 137.29L378.1 137.21L378.6 137.04L379.1 136.93L379.6 136.94L380.1 136.63L380.6 136.75L381.1 136.70L381.6 136.57L382.1 136.60L382.6 136.34L383.1 136.57L383.6 136.56L384.1 136.19L384.6 136.31L385.1 136.42L385.6 136.23L386.1 136.00L386.6 135.95L387.1 136.12L387.6 136.18L388.1 135.78L388.6 135.86L389.1 135.70L389.6 135.71L390.1 135.72L390.6 135.63L391.1 135.49L391.6 135.77L392.1 135.45L392.6 135.39L393.1 135.49L393.6 135.30L394.1 135.22L394.6 135.30L395.1 135.01L395.6 135.17L396.1 135.15L396.6 135.05L397.1 134.89L397.6 134.86L398.1 134.60L398.6 134.73L399.1 134.73L399.6 134.74L400.1 134.60L400.6 134.48L401.1 134.37L401.6 134.41L402.1 134.38L402.6 134.45L403.1 134.25L403.6 134.14L404.1 134.13L404.6 134.03L405.1 134.00L405.6 133.71L406.1 133.73L406.6 133.72L407.1 133.87L407.6 133.75L408.1 133.72L408.6 133.78L409.1 133.43L409.6 133.45L410.1 133.11L410.6 132.74L411.1 132.75L411.6 132.16L412.1 131.96L412.6 131.82L413.1 131.65L413.6 131.34L414.1 130.86L414.6 130.83L415.1 130.62L415.6 130.68L416.1 130.30L416.6 129.91L417.1 129.52L417.6 129.87L418.1 129.98L418.6 130.43L419.1 130.73L419.6 130.93L420.1 131.29L420.6 131.51L421.1 131.76L421.6 132.30L422.1 132.47L422.6 132.65L423.1 132.88L423.6 133.28L424.1 133.61L424.6 133.93L425.1 134.29L425.6 134.46L426.1 134.56L426.6 135.21L427.1 135.40L427.6 135.64L428.1 135.99L428.6 135.83L429.1 135.98L429.6 135.98L430.1 136.19L430.6 135.92L431.1 136.04L431.6 136.27L432.1 136.18L432.6 136.08L433.1 136.36L433.6 135.99L434.1 136.22L434.6 136.15L435.1 136.25L435.6 136.17L436.1 136.12L436.6 136.26L437.1 136.09L437.6 136.33L438.1 136.24L438.6 136.40L439.1 136.25L439.6 136.24L440.1 136.38L440.6 136.50L441.1 136.12L441.6 136.39L442.1 136.47L442.6 136.24L443.1 136.32L443.6 136.51L444.1 136.35L444.6 136.39L445.1 136.68L445.6 136.38L446.1 136.40L446.6 136.25L447.1 136.40L447.6 136.40L448.1 136.77L448.6 136.72L449.1 136.44L449.6 136.84L450.1 136.71L450.6 136.61L451.1 136.74L451.6 136.71L452.1 136.59L452.6 136.48L453.1 136.60L453.6 136.72L454.1 136.69L454.6 136.66L455.1 136.88L455.6 136.65L456.1 136.90L456.6 136.75L457.1 136.83L457.6 136.70L458.1 136.85L458.6 136.77L459.1 136.67L459.6 136.89L460.1 136.89L460.6 136.99L461.1 136.91L461.6 136.75L462.1 136.79L462.6 136.56L463.1 136.71L463.6 136.98L464.2 137.00L464.7 135.20L465.2 128.33L465.8 121.55L466.4 119.83L467.0 122.96L467.4 125.43L467.9 124.64L468.5 125.31L469.2 128.25L470.0 131.56L471.0 134.94L472.0 136.26L472.8 136.54L473.1 136.41L473.6 136.65L474.1 136.57L474.6 136.58L475.1 136.80L475.6 136.66L476.1 136.50L476.6 136.64L477.1 136.38L477.6 136.67L478.1 136.57L478.6 136.51L479.1 136.59L479.6 136.68L480.1 136.44L480.6 136.37L481.1 136.73L481.6 136.47L482.1 136.64L482.6 136.37L483.1 136.48L483.6 136.35L484.1 136.49L484.6 136.38L485.1 136.32L485.6 136.57L486.1 136.42L486.6 136.13L487.1 136.33L487.6 136.24L488.1 136.19L488.6 136.26L489.1 136.26L489.6 136.31L490.1 136.20L490.6 136.07L491.1 136.21L491.6 136.37L492.1 136.10L492.6 136.32L493.1 136.29L493.6 136.18L494.1 136.26L494.6 136.12L495.1 136.15L495.6 136.07L496.1 136.23L496.6 136.33L497.1 136.08L497.6 136.29L498.1 135.88L498.6 136.02L499.1 136.00L499.6 136.31L500.1 136.03L500.6 136.18L501.1 135.83L501.6 136.08L502.1 136.13L502.6 136.04L503.1 135.71L503.6 136.05L504.1 136.11L504.6 136.17L505.1 136.05L505.6 135.79L506.1 135.95L506.6 136.08L507.1 135.86L507.6 136.02L508.1 135.88L508.6 135.94L509.1 136.01L509.6 135.82L510.1 136.24L510.6 135.91L511.1 135.92L511.6 135.78L512.1 135.87L512.6 135.82L513.1 135.66L513.6 135.64L514.1 135.85L514.6 135.80L515.1 135.48L515.6 135.53L516.1 135.74L516.6 135.76L517.1 135.83L517.6 135.60L518.1 135.81L518.6 135.69L519.1 135.66L519.6 135.69L520.1 135.82L520.6 135.75L521.1 135.78L521.6 135.59L522.1 135.62L522.6 135.51L523.1 135.57L523.6 135.57L524.1 135.51L524.6 135.48L525.1 135.02L525.6 134.25L526.1 133.06L526.6 132.19L527.1 131.79L527.6 132.49L528.1 133.52L528.6 134.56L529.1 135.09L529.6 135.23L530.1 135.29L530.6 135.71L531.1 135.50L531.6 135.41L532.1 135.00L532.6 134.04L533.1 132.54L533.6 129.23L534.1 126.59L534.6 125.40L535.1 126.44L535.6 129.17L536.1 132.05L536.6 133.97L537.1 134.86L537.6 135.33L538.1 135.17L538.6 135.37L539.1 135.49L539.6 135.42L540.1 135.10L540.6 135.05L541.1 135.09L541.6 135.40L542.1 135.07L542.6 135.06L543.1 135.53L543.6 134.83L544.1 135.40L544.6 135.12L545.1 134.87L545.6 134.86L546.1 135.09L546.6 134.94L547.1 135.06L547.6 134.67L548.1 135.61L548.6 135.28L549.1 135.49L549.6 134.82L550.1 134.38L550.6 134.92L551.1 135.11L551.6 135.10L552.1 135.15L552.6 134.94L553.1 135.02L553.6 134.80L554.1 135.85L554.6 134.68L555.1 135.06L555.6 135.19L556.1 134.88L556.6 134.99L557.1 135.32L557.6 134.84L558.1 135.21L558.6 134.63L559.1 134.34L559.6 133.72L560.1 132.65L560.6 132.04L561.1 132.23L561.6 132.30L562.1 132.87L562.6 133.07L563.1 133.94L563.6 134.80L564.1 135.01L564.6 134.80L565.1 134.45L565.6 134.79L566.1 134.96L566.6 135.12L567.1 134.78L567.6 135.09L568.1 134.42L568.6 135.04L569.1 134.22L569.6 134.76L570.1 134.33L570.6 134.99L571.1 134.80L571.6 134.39L572.1 134.36L572.6 134.43L573.1 133.98L573.6 134.42L574.1 134.33L574.6 134.72L575.1 134.99L575.6 134.35L576.1 134.35L576.6 134.61L577.1 134.49L577.6 134.37L578.1 134.56L578.6 134.46L579.1 134.64L579.6 134.17L580.1 135.01L580.6 134.21L581.1 134.53L581.6 134.07L582.1 134.01L582.6 134.35L583.1 134.49L583.6 134.49L584.1 134.42L584.6 133.87L585.1 133.60L585.6 134.64L586.1 134.17L586.6 134.99L587.1 134.27L587.6 134.00L588.1 134.33L588.6 133.99L589.1 134.03L589.6 134.01L590.1 134.16L590.6 134.68L591.1 134.11L591.6 134.66L592.1 133.84L592.6 134.21L593.1 133.63L593.6 133.67L594.1 134.64L594.6 134.47L595.1 134.41L595.6 133.52L596.1 134.04L596.6 133.96L597.1 133.85L597.6 134.01L598.1 133.67L598.6 133.96L599.1 133.65L599.6 133.50L600.1 132.95L600.6 132.54L601.1 131.81L601.6 131.55L602.1 132.07L602.6 132.14L603.1 132.78L603.6 133.26L604.1 133.77L604.6 133.67L605.1 133.90L605.6 133.76L606.1 133.66L606.6 133.83L607.1 133.81L607.6 133.64L608.1 133.66L608.6 133.66L609.1 133.86L609.6 133.78L610.1 133.74L610.6 133.76L611.1 133.64L611.6 133.74L612.1 133.60L612.6 133.50L613.1 133.56L613.6 133.66L614.1 133.63L614.6 133.74L615.1 133.40" stroke="#2fcad0" class="tr"/>
<path d="M335.6 153.24L336.1 153.10L336.6 153.15L337.1 153.13L337.6 153.17L338.1 153.28L338.6 153.19L339.1 153.20L339.6 152.98L340.1 153.10L340.6 153.24L341.1 153.03L341.6 153.07L342.1 153.00L342.6 153.27L343.1 153.05L343.6 153.02L344.1 153.17L344.6 153.22L345.1 153.15L345.6 153.20L346.1 153.10L346.6 153.05L347.1 153.01L347.6 153.00L348.1 152.98L348.6 153.09L349.1 153.03L349.6 153.04L350.1 153.10L350.6 153.02L351.1 152.85L351.6 152.92L352.1 152.87L352.6 152.77L353.1 153.01L353.6 152.84L354.1 152.83L354.6 152.85L355.1 153.08L355.6 152.93L356.1 153.08L356.6 153.00L357.1 153.16L357.6 153.65L358.1 153.80L358.6 153.43L359.1 152.94L359.6 152.81L360.1 152.34L360.6 151.32L361.1 149.09L361.6 146.72L362.1 145.92L362.6 147.59L363.1 150.48L363.6 152.76L364.1 154.43L364.6 154.54L365.1 154.14L365.6 153.26L366.1 152.98L366.6 152.98L367.1 152.86L367.6 152.87L368.1 152.70L368.6 152.93L369.1 152.83L369.6 152.90L370.1 152.76L370.6 152.53L371.1 152.75L371.6 152.78L372.1 152.43L372.6 152.42L373.1 152.45L373.6 152.40L374.1 152.18L374.6 152.54L375.1 152.40L375.6 152.15L376.1 151.96L376.6 152.17L377.1 152.31L377.6 152.12L378.1 152.11L378.6 151.81L379.1 151.89L379.6 151.64L380.1 152.00L380.6 151.78L381.1 151.41L381.6 151.39L382.1 151.62L382.6 151.52L383.1 151.42L383.6 151.48L384.1 151.59L384.6 151.35L385.1 151.03L385.6 151.18L386.1 150.99L386.6 151.00L387.1 151.09L387.6 150.97L388.1 150.82L388.6 150.89L389.1 150.74L389.6 150.85L390.1 150.71L390.6 150.73L391.1 150.60L391.6 150.67L392.1 150.52L392.6 150.48L393.1 150.36L393.6 150.40L394.1 150.11L394.6 150.60L395.1 150.14L395.6 150.19L396.1 150.07L396.6 150.01L397.1 150.07L397.6 149.91L398.1 149.87L398.6 149.70L399.1 149.70L399.6 149.62L400.1 149.93L400.6 149.50L401.1 149.48L401.6 149.58L402.1 149.68L402.6 149.25L403.1 149.22L403.6 149.37L404.1 149.34L404.6 149.08L405.1 148.98L405.6 149.03L406.1 149.19L406.6 149.04L407.1 149.08L407.6 148.93L408.1 148.89L408.6 148.91L409.1 148.75L409.6 148.63L410.1 148.33L410.6 148.20L411.1 148.16L411.6 147.91L412.1 147.69L412.6 147.69L413.1 147.51L413.6 147.28L414.1 147.03L414.6 147.06L415.1 147.09L415.6 146.53L416.1 146.27L416.6 146.20L417.1 146.02L417.6 146.13L418.1 146.38L418.6 146.86L419.1 147.10L419.6 147.41L420.1 147.56L420.6 147.65L421.1 148.07L421.6 148.10L422.1 148.37L422.6 148.51L423.1 149.03L423.6 149.24L424.1 149.30L424.6 149.55L425.1 149.83L425.6 150.09L426.1 150.40L426.6 150.54L427.1 150.82L427.6 150.83L428.1 151.17L428.6 151.01L429.1 151.47L429.6 151.44L430.1 151.39L430.6 151.46L431.1 151.59L431.6 151.49L432.1 151.21L432.6 151.40L433.1 151.17L433.6 151.38L434.1 151.35L434.6 151.53L435.1 151.60L435.6 151.46L436.1 151.57L436.6 151.66L437.1 151.63L437.6 151.65L438.1 151.41L438.6 151.67L439.1 151.85L439.6 151.81L440.1 151.62L440.6 151.79L441.1 151.88L441.6 151.76L442.1 151.98L442.6 151.83L443.1 151.91L443.6 151.96L444.1 152.27L444.6 151.99L445.1 151.98L445.6 152.16L446.1 152.04L446.6 152.15L447.1 151.88L447.6 152.21L448.1 152.20L448.6 152.07L449.1 152.41L449.6 152.25L450.1 152.28L450.6 152.17L451.1 152.16L451.6 152.31L452.1 152.22L452.6 152.48L453.1 152.55L453.6 152.40L454.1 152.31L454.6 152.48L455.1 152.42L455.6 152.60L456.1 152.62L456.6 152.57L457.1 152.66L457.6 152.80L458.1 152.90L458.6 152.66L459.1 152.84L459.6 152.75L460.1 152.67L460.6 152.93L461.1 152.82L461.6 152.77L462.1 152.79L462.6 152.71L463.1 152.59L463.6 152.92L464.2 152.80L464.7 151.45L465.2 146.49L465.8 141.47L466.4 140.02L467.0 142.62L467.4 144.26L467.9 143.61L468.5 143.99L469.2 146.57L470.0 148.73L471.0 151.33L472.0 152.31L472.8 152.45L473.1 152.59L473.6 152.46L474.1 152.41L474.6 152.44L475.1 152.34L475.6 152.56L476.1 152.48L476.6 152.51L477.1 152.22L477.6 152.41L478.1 152.27L478.6 152.36L479.1 152.49L479.6 152.36L480.1 152.29L480.6 152.44L481.1 152.41L481.6 152.50L482.1 152.04L482.6 152.29L483.1 152.19L483.6 152.12L484.1 152.23L484.6 152.07L485.1 151.92L485.6 152.07L486.1 152.14L486.6 152.38L487.1 152.06L487.6 151.99L488.1 151.88L488.6 152.07L489.1 152.07L489.6 152.10L490.1 151.90L490.6 151.97L491.1 151.78L491.6 152.06L492.1 151.84L492.6 151.68L493.1 152.14L493.6 152.05L494.1 152.02L494.6 152.01L495.1 151.83L495.6 152.07L496.1 151.80L496.6 152.15L497.1 151.93L497.6 151.67L498.1 151.98L498.6 152.11L499.1 151.83L499.6 151.97L500.1 151.81L500.6 151.75L501.1 151.50L501.6 151.95L502.1 151.73L502.6 151.82L503.1 151.62L503.6 151.64L504.1 151.87L504.6 151.68L505.1 151.66L505.6 151.55L506.1 151.71L506.6 151.77L507.1 151.61L507.6 151.63L508.1 151.49L508.6 151.80L509.1 151.54L509.6 151.59L510.1 151.80L510.6 151.55L511.1 151.38L511.6 151.45L512.1 151.50L512.6 151.75L513.1 151.55L513.6 151.48L514.1 151.60L514.6 151.64L515.1 151.38L515.6 151.63L516.1 151.55L516.6 151.49L517.1 151.14L517.6 151.44L518.1 151.57L518.6 151.36L519.1 151.66L519.6 151.37L520.1 151.23L520.6 151.41L521.1 151.37L521.6 151.42L522.1 151.28L522.6 151.45L523.1 151.21L523.6 151.26L524.1 150.96L524.6 150.59L525.1 149.61L525.6 147.39L526.1 144.49L526.6 141.94L527.1 141.27L527.6 142.91L528.1 145.79L528.6 148.49L529.1 150.06L529.6 150.72L530.1 150.84L530.6 151.04L531.1 150.98L531.6 150.78L532.1 150.96L532.6 149.88L533.1 148.81L533.6 146.85L534.1 144.81L534.6 144.32L535.1 144.82L535.6 146.64L536.1 148.91L536.6 149.91L537.1 150.47L537.6 150.74L538.1 150.83L538.6 150.91L539.1 150.94L539.6 150.70L540.1 150.92L540.6 151.13L541.1 150.76L541.6 150.82L542.1 150.91L542.6 150.96L543.1 150.72L543.6 150.67L544.1 150.66L544.6 150.90L545.1 150.86L545.6 150.48L546.1 150.47L546.6 150.57L547.1 150.52L547.6 150.74L548.1 150.71L548.6 150.91L549.1 150.76L549.6 150.66L550.1 150.78L550.6 150.51L551.1 150.44L551.6 150.60L552.1 150.70L552.6 150.38L553.1 150.67L553.6 150.66L554.1 150.48L554.6 150.55L555.1 150.48L555.6 150.51L556.1 150.57L556.6 150.31L557.1 150.42L557.6 150.17L558.1 149.74L558.6 148.69L559.1 147.73L559.6 146.85L560.1 145.52L560.6 144.62L561.1 144.27L561.6 144.51L562.1 145.50L562.6 146.59L563.1 147.76L563.6 148.85L564.1 149.32L564.6 150.01L565.1 149.81L565.6 150.47L566.1 150.03L566.6 150.27L567.1 150.30L567.6 150.18L568.1 150.25L568.6 150.13L569.1 149.92L569.6 150.16L570.1 150.24L570.6 150.02L571.1 149.87L571.6 149.99L572.1 150.08L572.6 150.07L573.1 150.15L573.6 150.07L574.1 150.05L574.6 149.73L575.1 150.23L575.6 149.95L576.1 150.03L576.6 149.87L577.1 149.88L577.6 149.89L578.1 150.06L578.6 150.04L579.1 149.92L579.6 150.07L580.1 149.76L580.6 149.86L581.1 149.73L581.6 149.93L582.1 149.76L582.6 149.86L583.1 149.91L583.6 149.37L584.1 149.72L584.6 149.16L585.1 148.63L585.6 148.03L586.1 148.11L586.6 148.09L587.1 148.80L587.6 149.16L588.1 149.64L588.6 149.48L589.1 149.67L589.6 149.68L590.1 149.78L590.6 149.48L591.1 149.59L591.6 149.29L592.1 149.33L592.6 149.42L593.1 149.43L593.6 149.27L594.1 149.36L594.6 149.48L595.1 149.32L595.6 149.34L596.1 149.24L596.6 149.50L597.1 149.54L597.6 149.33L598.1 149.27L598.6 149.46L599.1 149.25L599.6 148.96L600.1 148.58L600.6 148.24L601.1 148.15L601.6 147.62L602.1 148.21L602.6 148.25L603.1 148.63L603.6 149.09L604.1 149.02L604.6 149.13L605.1 148.96L605.6 148.92L606.1 148.97L606.6 149.07L607.1 148.95L607.6 148.77L608.1 149.06L608.6 148.97L609.1 148.94L609.6 148.88L610.1 148.66L610.6 149.12L611.1 148.85L611.6 148.96L612.1 149.06L612.6 149.01L613.1 148.88L613.6 148.84L614.1 148.86L614.6 148.92L615.1 148.87" stroke="#d4a02a" class="tr"/>
<path d="M335.6 169.43L336.1 169.54L336.6 169.52L337.1 169.55L337.6 169.48L338.1 169.62L338.6 169.46L339.1 169.54L339.6 169.43L340.1 169.34L340.6 169.29L341.1 169.38L341.6 169.45L342.1 169.54L342.6 169.36L343.1 169.30L343.6 169.29L344.1 169.50L344.6 169.35L345.1 169.27L345.6 169.41L346.1 169.15L346.6 169.32L347.1 169.29L347.6 169.27L348.1 169.14L348.6 169.39L349.1 169.47L349.6 169.09L350.1 169.26L350.6 169.32L351.1 169.51L351.6 169.17L352.1 169.09L352.6 169.20L353.1 169.44L353.6 169.19L354.1 169.21L354.6 169.39L355.1 168.90L355.6 168.88L356.1 169.25L356.6 169.23L357.1 168.96L357.6 169.18L358.1 169.11L358.6 169.13L359.1 168.99L359.6 168.99L360.1 168.77L360.6 168.32L361.1 166.94L361.6 165.01L362.1 162.78L362.6 161.88L363.1 163.47L363.6 165.88L364.1 167.60L364.6 168.67L365.1 168.88L365.6 169.05L366.1 168.86L366.6 169.06L367.1 168.79L367.6 169.11L368.1 168.75L368.6 168.67L369.1 168.99L369.6 168.89L370.1 168.92L370.6 168.95L371.1 168.89L371.6 168.77L372.1 168.90L372.6 168.91L373.1 168.92L373.6 169.09L374.1 168.75L374.6 168.84L375.1 168.89L375.6 168.76L376.1 168.66L376.6 168.73L377.1 168.92L377.6 168.75L378.1 168.85L378.6 168.67L379.1 168.81L379.6 168.66L380.1 168.63L380.6 168.74L381.1 168.73L381.6 168.89L382.1 168.50L382.6 168.76L383.1 168.88L383.6 168.85L384.1 168.62L384.6 168.58L385.1 168.59L385.6 168.68L386.1 168.66L386.6 168.67L387.1 168.69L387.6 168.48L388.1 168.46L388.6 168.44L389.1 168.42L389.6 168.56L390.1 168.61L390.6 168.87L391.1 168.62L391.6 168.54L392.1 168.71L392.6 168.43L393.1 168.56L393.6 168.63L394.1 168.60L394.6 168.54L395.1 168.44L395.6 168.32L396.1 168.45L396.6 168.38L397.1 168.53L397.6 168.42L398.1 168.50L398.6 168.23L399.1 168.53L399.6 168.30L400.1 168.18L400.6 168.06L401.1 168.00L401.6 168.08L402.1 167.88L402.6 167.50L403.1 167.52L403.6 167.35L404.1 167.02L404.6 166.95L405.1 166.68L405.6 166.68L406.1 166.31L406.6 166.40L407.1 166.23L407.6 166.11L408.1 165.96L408.6 166.06L409.1 165.73L409.6 165.69L410.1 165.64L410.6 165.54L411.1 165.39L411.6 165.13L412.1 164.94L412.6 164.86L413.1 164.79L413.6 164.73L414.1 164.60L414.6 164.63L415.1 164.36L415.6 164.48L416.1 164.27L416.6 163.97L417.1 164.02L417.6 163.44L418.1 163.92L418.6 164.06L419.1 164.31L419.6 164.31L420.1 165.08L420.6 165.00L421.1 165.27L421.6 165.68L422.1 165.77L422.6 165.95L423.1 166.39L423.6 166.44L424.1 166.91L424.6 167.09L425.1 167.47L425.6 167.44L426.1 167.99L426.6 168.13L427.1 168.46L427.6 168.16L428.1 168.50L428.6 168.39L429.1 168.42L429.6 168.27L430.1 168.45L430.6 168.49L431.1 168.34L431.6 168.32L432.1 168.40L432.6 168.70L433.1 168.57L433.6 168.69L434.1 168.64L434.6 168.62L435.1 168.64L435.6 168.57L436.1 168.78L436.6 168.66L437.1 168.68L437.6 168.49L438.1 168.70L438.6 168.59L439.1 168.62L439.6 168.81L440.1 168.56L440.6 168.68L441.1 168.79L441.6 168.86L442.1 168.66L442.6 168.77L443.1 168.78L443.6 168.61L444.1 168.49L444.6 168.53L445.1 168.84L445.6 168.79L446.1 168.62L446.6 168.72L447.1 168.75L447.6 168.77L448.1 168.81L448.6 169.10L449.1 168.74L449.6 168.86L450.1 168.75L450.6 168.78L451.1 168.76L451.6 168.84L452.1 168.81L452.6 168.93L453.1 168.92L453.6 168.79L454.1 169.14L454.6 168.77L455.1 168.97L455.6 169.20L456.1 168.85L456.6 169.11L457.1 169.13L457.6 169.00L458.1 168.74L458.6 169.15L459.1 169.00L459.6 168.93L460.1 169.16L460.6 168.91L461.1 169.13L461.6 168.93L462.1 169.07L462.6 168.87L463.1 168.95L463.6 168.89L464.2 168.91L464.7 168.07L465.2 164.23L465.8 160.47L466.4 159.66L467.0 161.39L467.4 162.50L467.9 162.12L468.5 162.55L469.2 164.37L470.0 166.28L471.0 168.17L472.0 168.78L472.8 169.08L473.1 168.82L473.6 169.16L474.1 169.05L474.6 169.06L475.1 168.95L475.6 169.01L476.1 168.92L476.6 169.07L477.1 168.84L477.6 169.12L478.1 169.07L478.6 169.25L479.1 169.00L479.6 168.99L480.1 169.02L480.6 169.00L481.1 168.99L481.6 168.86L482.1 168.86L482.6 168.93L483.1 168.96L483.6 168.85L484.1 168.86L484.6 168.97L485.1 169.09L485.6 168.98L486.1 169.08L486.6 169.12L487.1 169.09L487.6 168.95L488.1 168.95L488.6 168.77L489.1 168.92L489.6 169.06L490.1 168.87L490.6 169.17L491.1 169.18L491.6 168.95L492.1 169.11L492.6 168.83L493.1 168.87L493.6 168.95L494.1 169.00L494.6 168.98L495.1 168.89L495.6 169.24L496.1 169.04L496.6 169.04L497.1 169.08L497.6 169.02L498.1 168.97L498.6 168.93L499.1 168.80L499.6 169.18L500.1 168.89L500.6 168.80L501.1 168.90L501.6 168.80L502.1 169.24L502.6 169.04L503.1 169.17L503.6 169.18L504.1 169.07L504.6 169.07L505.1 168.91L505.6 168.99L506.1 168.93L506.6 169.01L507.1 168.91L507.6 169.16L508.1 169.09L508.6 168.99L509.1 168.80L509.6 169.08L510.1 169.11L510.6 168.99L511.1 168.85L511.6 169.05L512.1 169.13L512.6 168.77L513.1 169.07L513.6 168.78L514.1 169.01L514.6 169.21L515.1 169.01L515.6 169.06L516.1 168.96L516.6 169.00L517.1 169.29L517.6 169.16L518.1 168.96L518.6 168.95L519.1 169.00L519.6 169.27L520.1 169.03L520.6 169.14L521.1 168.96L521.6 168.84L522.1 169.16L522.6 168.99L523.1 168.90L523.6 168.90L524.1 168.84L524.6 168.65L525.1 167.99L525.6 167.27L526.1 165.71L526.6 164.50L527.1 163.98L527.6 164.87L528.1 166.29L528.6 167.75L529.1 168.54L529.6 168.86L530.1 168.84L530.6 168.73L531.1 168.64L531.6 168.38L532.1 167.94L532.6 167.20L533.1 166.78L533.6 165.83L534.1 164.97L534.6 164.87L535.1 165.05L535.6 165.83L536.1 166.70L536.6 167.24L537.1 168.08L537.6 168.42L538.1 168.88L538.6 169.05L539.1 168.99L539.6 169.07L540.1 168.99L540.6 168.95L541.1 168.86L541.6 169.04L542.1 168.99L542.6 168.95L543.1 168.99L543.6 168.98L544.1 168.87L544.6 168.94L545.1 169.13L545.6 168.91L546.1 169.06L546.6 168.69L547.1 168.62L547.6 168.75L548.1 168.77L548.6 168.54L549.1 168.65L549.6 168.62L550.1 168.54L550.6 168.24L551.1 167.94L551.6 167.20L552.1 166.55L552.6 165.44L553.1 164.39L553.6 163.18L554.1 162.97L554.6 163.38L555.1 164.56L555.6 165.24L556.1 166.34L556.6 167.30L557.1 167.32L557.6 166.90L558.1 166.43L558.6 165.38L559.1 163.62L559.6 161.39L560.1 159.20L560.6 157.88L561.1 157.35L561.6 158.25L562.1 159.93L562.6 161.91L563.1 164.05L563.6 165.22L564.1 166.20L564.6 166.52L565.1 166.74L565.6 166.78L566.1 166.71L566.6 166.78L567.1 166.86L567.6 166.87L568.1 166.77L568.6 166.52L569.1 166.67L569.6 166.49L570.1 166.61L570.6 166.22L571.1 166.54L571.6 166.27L572.1 166.46L572.6 166.25L573.1 166.39L573.6 166.23L574.1 166.02L574.6 166.11L575.1 166.18L575.6 166.19L576.1 165.90L576.6 166.01L577.1 166.04L577.6 166.09L578.1 166.12L578.6 165.98L579.1 165.87L579.6 166.07L580.1 165.98L580.6 166.11L581.1 165.92L581.6 166.04L582.1 165.84L582.6 165.96L583.1 165.92L583.6 165.94L584.1 165.75L584.6 165.83L585.1 165.73L585.6 165.79L586.1 165.87L586.6 166.13L587.1 165.76L587.6 165.82L588.1 165.73L588.6 165.83L589.1 165.73L589.6 165.79L590.1 165.68L590.6 165.91L591.1 165.77L591.6 165.38L592.1 165.60L592.6 165.54L593.1 165.19L593.6 165.15L594.1 164.69L594.6 163.69L595.1 162.47L595.6 161.06L596.1 161.03L596.6 161.73L597.1 162.96L597.6 164.07L598.1 164.84L598.6 165.11L599.1 165.40L599.6 165.34L600.1 165.50L600.6 165.20L601.1 165.40L601.6 165.14L602.1 165.17L602.6 165.04L603.1 165.21L603.6 165.12L604.1 165.19L604.6 165.27L605.1 165.07L605.6 165.10L606.1 165.15L606.6 165.01L607.1 164.93L607.6 165.02L608.1 165.02L608.6 165.04L609.1 165.02L609.6 164.82L610.1 164.94L610.6 165.02L611.1 164.79L611.6 164.87L612.1 164.74L612.6 164.81L613.1 164.98L613.6 164.77L614.1 164.62L614.6 164.76L615.1 164.73" stroke="#a866e4" class="tr"/>
<path d="M335.6 185.13L336.1 184.82L336.6 184.87L337.1 184.97L337.6 184.79L338.1 185.10L338.6 184.72L339.1 184.86L339.6 184.77L340.1 184.87L340.6 185.04L341.1 185.01L341.6 185.04L342.1 185.00L342.6 184.67L343.1 184.95L343.6 184.69L344.1 184.84L344.6 184.85L345.1 184.83L345.6 184.95L346.1 184.78L346.6 185.08L347.1 184.94L347.6 185.01L348.1 184.95L348.6 184.96L349.1 184.84L349.6 185.08L350.1 184.71L350.6 184.89L351.1 184.83L351.6 184.79L352.1 184.85L352.6 184.72L353.1 184.91L353.6 184.89L354.1 184.81L354.6 184.88L355.1 184.66L355.6 184.56L356.1 184.70L356.6 184.74L357.1 185.06L357.6 184.73L358.1 184.88L358.6 184.85L359.1 184.99L359.6 184.74L360.1 184.74L360.6 184.36L361.1 183.36L361.6 181.51L362.1 179.50L362.6 179.12L363.1 180.38L363.6 182.62L364.1 184.66L364.6 185.85L365.1 185.97L365.6 185.28L366.1 184.89L366.6 184.79L367.1 184.46L367.6 184.68L368.1 184.81L368.6 184.52L369.1 184.60L369.6 184.65L370.1 184.75L370.6 184.69L371.1 184.58L371.6 184.67L372.1 184.72L372.6 184.64L373.1 184.81L373.6 184.63L374.1 184.45L374.6 184.48L375.1 184.55L375.6 184.54L376.1 184.63L376.6 184.59L377.1 184.75L377.6 184.64L378.1 184.71L378.6 184.44L379.1 184.47L379.6 184.60L380.1 184.52L380.6 184.58L381.1 184.53L381.6 184.42L382.1 184.70L382.6 184.62L383.1 184.29L383.6 184.40L384.1 184.47L384.6 184.55L385.1 184.45L385.6 184.29L386.1 184.55L386.6 184.42L387.1 184.58L387.6 184.47L388.1 184.55L388.6 184.52L389.1 184.52L389.6 184.35L390.1 184.53L390.6 184.43L391.1 184.25L391.6 184.34L392.1 184.34L392.6 184.44L393.1 184.46L393.6 184.24L394.1 184.45L394.6 184.35L395.1 184.23L395.6 184.45L396.1 184.25L396.6 184.19L397.1 184.42L397.6 184.43L398.1 184.24L398.6 184.44L399.1 184.43L399.6 184.24L400.1 184.54L400.6 184.29L401.1 184.32L401.6 184.00L402.1 184.35L402.6 184.20L403.1 184.32L403.6 184.06L404.1 184.39L404.6 184.43L405.1 184.47L405.6 183.89L406.1 184.31L406.6 184.27L407.1 183.86L407.6 184.13L408.1 184.20L408.6 184.38L409.1 184.08L409.6 184.08L410.1 183.93L410.6 183.86L411.1 183.64L411.6 183.68L412.1 183.56L412.6 183.16L413.1 183.34L413.6 182.99L414.1 182.92L414.6 182.97L415.1 182.73L415.6 182.66L416.1 182.56L416.6 182.42L417.1 182.16L417.6 181.99L418.1 182.11L418.6 182.26L419.1 182.34L419.6 182.41L420.1 182.67L420.6 182.70L421.1 182.67L421.6 183.00L422.1 183.16L422.6 183.33L423.1 183.26L423.6 183.41L424.1 183.67L424.6 183.71L425.1 183.89L425.6 184.15L426.1 184.21L426.6 184.52L427.1 184.44L427.6 184.62L428.1 184.55L428.6 184.74L429.1 184.45L429.6 184.44L430.1 184.62L430.6 184.41L431.1 184.43L431.6 184.52L432.1 184.55L432.6 184.34L433.1 184.55L433.6 184.49L434.1 184.54L434.6 184.57L435.1 184.53L435.6 184.69L436.1 184.63L436.6 184.56L437.1 184.60L437.6 184.73L438.1 184.71L438.6 184.77L439.1 184.61L439.6 184.66L440.1 184.89L440.6 184.65L441.1 184.87L441.6 184.78L442.1 184.63L442.6 184.53L443.1 184.78L443.6 184.63L444.1 184.64L444.6 184.53L445.1 184.88L445.6 184.76L446.1 184.76L446.6 184.82L447.1 184.81L447.6 184.80L448.1 184.86L448.6 184.77L449.1 184.51L449.6 184.91L450.1 184.88L450.6 184.84L451.1 185.04L451.6 184.69L452.1 184.52L452.6 185.06L453.1 184.94L453.6 184.70L454.1 184.86L454.6 184.99L455.1 184.78L455.6 185.00L456.1 185.19L456.6 185.12L457.1 184.96L457.6 185.01L458.1 184.87L458.6 185.00L459.1 184.96L459.6 184.89L460.1 184.85L460.6 185.24L461.1 185.01L461.6 184.87L462.1 184.94L462.6 185.16L463.1 185.17L463.6 184.90L464.1 184.99L464.7 183.37L465.2 179.39L465.9 176.31L466.6 178.71L467.2 178.48L467.9 180.59L468.7 181.54L469.5 183.70L470.5 184.85L471.3 184.98L471.6 184.87L472.1 185.12L472.6 184.79L473.1 184.87L473.6 184.71L474.1 184.96L474.6 184.85L475.1 184.66L475.6 184.76L476.1 185.07L476.6 184.93L477.1 184.85L477.6 184.94L478.1 184.64L478.6 184.73L479.1 184.66L479.6 184.72L480.1 184.77L480.6 184.87L481.1 184.92L481.6 184.91L482.1 185.11L482.6 184.73L483.1 184.78L483.6 184.84L484.1 184.67L484.6 184.73L485.1 184.81L485.6 184.65L486.1 184.81L486.6 184.89L487.1 184.61L487.6 184.46L488.1 184.74L488.6 184.60L489.1 184.74L489.6 184.66L490.1 184.75L490.6 184.84L491.1 184.80L491.6 184.65L492.1 184.55L492.6 184.39L493.1 184.42L493.6 184.58L494.1 184.68L494.6 184.58L495.1 184.59L495.6 184.46L496.1 184.45L496.6 184.44L497.1 184.71L497.6 184.40L498.1 184.71L498.6 184.51L499.1 184.68L499.6 184.64L500.1 184.69L500.6 184.74L501.1 184.50L501.6 184.47L502.1 184.53L502.6 184.49L503.1 184.65L503.6 184.55L504.1 184.56L504.6 184.61L505.1 184.49L505.6 184.68L506.1 184.32L506.6 184.56L507.1 184.59L507.6 184.43L508.1 184.44L508.6 184.62L509.1 184.47L509.6 184.28L510.1 184.34L510.6 184.61L511.1 184.38L511.6 184.64L512.1 184.64L512.6 184.45L513.1 184.53L513.6 184.37L514.1 184.41L514.6 184.37L515.1 184.52L515.6 184.29L516.1 184.42L516.6 184.44L517.1 184.49L517.6 184.17L518.1 184.21L518.6 184.31L519.1 184.38L519.6 184.42L520.1 184.42L520.6 184.63L521.1 184.47L521.6 184.45L522.1 184.31L522.6 184.44L523.1 184.33L523.6 184.04L524.1 183.28L524.6 182.14L525.1 180.53L525.6 178.56L526.1 177.51L526.6 178.25L527.1 179.69L527.6 181.36L528.1 182.78L528.6 184.03L529.1 184.05L529.6 184.10L530.1 184.23L530.6 184.35L531.1 184.20L531.6 184.17L532.1 184.06L532.6 183.44L533.1 182.40L533.6 180.74L534.1 179.01L534.6 178.46L535.1 178.99L535.6 180.84L536.1 182.24L536.6 183.42L537.1 183.76L537.6 184.10L538.1 184.06L538.6 184.39L539.1 184.19L539.6 184.26L540.1 183.97L540.6 183.95L541.1 183.99L541.6 183.77L542.1 183.98L542.6 183.72L543.1 183.70L543.6 183.63L544.1 183.50L544.6 183.52L545.1 183.25L545.6 183.25L546.1 183.17L546.6 182.83L547.1 182.52L547.6 182.20L548.1 182.16L548.6 182.39L549.1 182.55L549.6 182.64L550.1 183.02L550.6 183.05L551.1 183.13L551.6 183.08L552.1 183.25L552.6 182.91L553.1 182.93L553.6 183.11L554.1 182.90L554.6 183.05L555.1 183.00L555.6 182.76L556.1 183.06L556.6 183.13L557.1 182.98L557.6 182.78L558.1 183.03L558.6 182.80L559.1 182.90L559.6 182.95L560.1 182.80L560.6 182.68L561.1 182.85L561.6 182.85L562.1 182.75L562.6 182.74L563.1 182.91L563.6 182.80L564.1 182.75L564.6 182.72L565.1 182.79L565.6 182.73L566.1 182.57L566.6 182.21L567.1 182.03L567.6 181.73L568.1 181.73L568.6 182.01L569.1 182.26L569.6 182.48L570.1 182.57L570.6 182.59L571.1 182.68L571.6 182.58L572.1 182.59L572.6 182.52L573.1 182.60L573.6 182.59L574.1 182.80L574.6 182.64L575.1 182.52L575.6 182.64L576.1 182.49L576.6 182.65L577.1 182.61L577.6 182.85L578.1 182.37L578.6 182.48L579.1 182.46L579.6 182.50L580.1 182.54L580.6 182.33L581.1 182.35L581.6 182.46L582.1 182.52L582.6 182.27L583.1 182.21L583.6 182.51L584.1 182.47L584.6 182.48L585.1 182.23L585.6 182.31L586.1 182.35L586.6 182.36L587.1 182.29L587.6 182.29L588.1 182.40L588.6 182.22L589.1 182.20L589.6 182.20L590.1 182.18L590.6 182.24L591.1 182.19L591.6 182.15L592.1 182.36L592.6 182.22L593.1 182.13L593.6 182.31L594.1 182.09L594.6 182.14L595.1 182.12L595.6 182.05L596.1 182.06L596.6 182.11L597.1 181.92L597.6 182.03L598.1 182.09L598.6 182.08L599.1 182.08L599.6 182.30L600.1 182.10L600.6 181.99L601.1 181.98L601.6 181.99L602.1 182.03L602.6 181.93L603.1 182.13L603.6 181.82L604.1 182.01L604.6 181.98L605.1 181.78L605.6 181.97L606.1 181.95L606.6 181.81L607.1 182.13L607.6 181.94L608.1 181.81L608.6 181.78L609.1 181.74L609.6 181.84L610.1 181.81L610.6 181.63L611.1 181.66L611.6 181.69L612.1 181.71L612.6 181.71L613.1 181.66L613.6 181.80L614.1 181.82L614.6 181.71L615.1 181.44" stroke="#2e9e58" class="tr"/>
<path d="M335.6 199.48L336.1 199.56L336.6 199.49L337.1 199.53L337.6 199.51L338.1 199.33L338.6 199.21L339.1 199.57L339.6 199.44L340.1 199.55L340.6 199.47L341.1 199.49L341.6 199.66L342.1 199.37L342.6 199.51L343.1 199.38L343.6 199.52L344.1 199.56L344.6 199.58L345.1 199.53L345.6 199.35L346.1 199.54L346.6 199.61L347.1 199.63L347.6 199.76L348.1 199.58L348.6 199.40L349.1 199.46L349.6 199.53L350.1 199.64L350.6 199.39L351.1 199.62L351.6 199.60L352.1 199.42L352.6 199.59L353.1 199.44L353.6 199.52L354.1 199.49L354.6 199.55L355.1 199.39L355.6 199.59L356.1 199.28L356.6 199.48L357.1 199.46L357.6 199.71L358.1 199.59L358.6 199.48L359.1 199.43L359.6 199.51L360.1 199.31L360.6 199.23L361.1 197.84L361.6 197.25L362.1 196.68L362.6 197.69L363.1 198.44L363.6 199.37L364.1 199.40L364.6 199.65L365.1 199.56L365.6 199.68L366.1 199.55L366.6 199.21L367.1 199.46L367.6 199.37L368.1 199.65L368.6 199.61L369.1 199.55L369.6 199.60L370.1 199.57L370.6 199.49L371.1 199.77L371.6 199.58L372.1 199.53L372.6 199.39L373.1 199.48L373.6 199.56L374.1 199.54L374.6 199.50L375.1 199.55L375.6 199.43L376.1 199.56L376.6 199.38L377.1 199.46L377.6 199.48L378.1 199.66L378.6 199.62L379.1 199.57L379.6 199.43L380.1 199.52L380.6 199.66L381.1 199.71L381.6 199.40L382.1 199.52L382.6 199.58L383.1 199.61L383.6 199.57L384.1 199.65L384.6 199.41L385.1 199.75L385.6 199.44L386.1 199.58L386.6 199.63L387.1 199.71L387.6 199.68L388.1 199.68L388.6 199.72L389.1 199.56L389.6 199.67L390.1 199.76L390.6 199.50L391.1 199.42L391.6 199.47L392.1 199.75L392.6 199.73L393.1 199.55L393.6 199.61L394.1 199.64L394.6 199.71L395.1 199.37L395.6 199.53L396.1 199.56L396.6 199.63L397.1 199.60L397.6 199.56L398.1 199.63L398.6 199.30L399.1 199.95L399.6 199.69L400.1 199.70L400.6 199.53L401.1 199.65L401.6 199.84L402.1 199.82L402.6 199.62L403.1 199.48L403.6 199.64L404.1 199.59L404.6 199.73L405.1 199.49L405.6 199.61L406.1 199.67L406.6 199.59L407.1 199.77L407.6 199.52L408.1 199.51L408.6 199.61L409.1 199.75L409.6 199.62L410.1 199.59L410.6 199.74L411.1 199.66L411.6 199.55L412.1 199.59L412.6 199.49L413.1 199.49L413.6 199.31L414.1 199.04L414.6 198.87L415.1 198.64L415.6 198.47L416.1 198.21L416.6 197.84L417.1 197.73L417.6 197.68L418.1 197.75L418.6 197.72L419.1 198.06L419.6 198.05L420.1 198.38L420.6 198.53L421.1 198.71L421.6 199.07L422.1 199.31L422.6 199.45L423.1 199.55L423.6 199.58L424.1 199.58L424.6 199.68L425.1 199.79L425.6 199.86L426.1 199.39L426.6 199.84L427.1 199.90L427.6 199.93L428.1 199.83L428.6 199.87L429.1 199.74L429.6 199.78L430.1 199.86L430.6 199.68L431.1 199.71L431.6 199.83L432.1 199.66L432.6 199.82L433.1 199.65L433.6 199.84L434.1 199.83L434.6 199.76L435.1 199.72L435.6 199.78L436.1 199.58L436.6 199.80L437.1 199.86L437.6 199.99L438.1 199.79L438.6 199.83L439.1 200.02L439.6 200.06L440.1 199.81L440.6 199.99L441.1 200.01L441.6 199.93L442.1 199.76L442.6 199.77L443.1 199.95L443.6 200.16L444.1 199.87L444.6 200.08L445.1 200.12L445.6 199.76L446.1 199.84L446.6 200.08L447.1 200.02L447.6 199.98L448.1 199.92L448.6 199.99L449.1 199.85L449.6 200.22L450.1 199.80L450.6 199.73L451.1 199.96L451.6 200.11L452.1 199.89L452.6 199.94L453.1 199.83L453.6 199.95L454.1 199.84L454.6 199.85L455.1 199.80L455.6 199.91L456.1 200.19L456.6 199.97L457.1 200.00L457.6 200.24L458.1 199.91L458.6 199.87L459.1 200.05L459.6 199.85L460.1 200.03L460.6 200.12L461.1 199.86L461.6 199.91L462.1 200.16L462.6 199.83L463.1 199.87L463.7 199.97L464.6 197.37L465.4 194.27L465.9 193.79L466.7 194.78L467.5 193.74L468.4 196.04L469.2 199.19L469.9 201.26L470.5 200.57L471.3 198.82L472.1 199.95L472.6 199.66L473.1 199.73L473.6 199.84L474.1 199.78L474.6 199.69L475.1 199.74L475.6 199.60L476.1 199.75L476.6 199.43L477.1 199.74L477.6 199.87L478.1 199.81L478.6 199.80L479.1 199.64L479.6 199.74L480.1 199.63L480.6 199.66L481.1 199.65L481.6 199.26L482.1 199.75L482.6 199.69L483.1 199.73L483.6 199.51L484.1 199.69L484.6 199.66L485.1 199.34L485.6 199.38L486.1 199.59L486.6 199.50L487.1 199.56L487.6 199.48L488.1 199.72L488.6 199.32L489.1 199.37L489.6 199.41L490.1 199.36L490.6 199.44L491.1 199.50L491.6 199.34L492.1 199.53L492.6 199.63L493.1 199.59L493.6 199.69L494.1 199.58L494.6 199.44L495.1 199.64L495.6 199.51L496.1 199.64L496.6 199.39L497.1 199.16L497.6 199.26L498.1 199.41L498.6 199.44L499.1 199.35L499.6 199.48L500.1 199.22L500.6 199.27L501.1 199.46L501.6 199.34L502.1 199.34L502.6 199.48L503.1 199.44L503.6 199.21L504.1 199.32L504.6 199.09L505.1 199.28L505.6 199.31L506.1 199.06L506.6 199.43L507.1 199.48L507.6 199.30L508.1 199.34L508.6 199.40L509.1 199.19L509.6 199.33L510.1 199.24L510.6 199.01L511.1 199.08L511.6 199.11L512.1 199.29L512.6 199.17L513.1 199.26L513.6 199.09L514.1 198.99L514.6 199.36L515.1 199.43L515.6 199.15L516.1 199.08L516.6 199.23L517.1 198.96L517.6 199.05L518.1 198.90L518.6 199.12L519.1 199.08L519.6 199.00L520.1 198.96L520.6 198.86L521.1 198.93L521.6 199.16L522.1 199.54L522.6 198.47L523.1 199.66L523.6 198.62L524.1 199.60L524.6 197.85L525.1 198.53L525.6 196.14L526.1 197.20L526.6 196.63L527.1 198.74L527.6 198.13L528.1 199.60L528.6 198.20L529.1 199.77L529.6 197.90L530.1 199.21L530.6 198.14L531.1 199.73L531.6 197.96L532.1 199.65L532.6 197.91L533.1 199.67L533.6 198.22L534.1 199.17L534.6 198.28L535.1 199.60L535.6 198.07L536.1 199.49L536.6 197.98L537.1 199.43L537.6 198.02L538.1 199.49L538.6 198.13L539.1 199.24L539.6 198.15L540.1 199.10L540.6 198.12L541.1 199.08L541.6 198.14L542.1 199.07L542.6 197.99L543.1 199.16L543.6 198.04L544.1 199.22L544.6 197.76L545.1 198.76L545.6 198.71L546.1 198.39L546.6 198.19L547.1 197.75L547.6 197.60L548.1 197.24L548.6 197.56L549.1 197.68L549.6 198.30L550.1 198.17L550.6 198.39L551.1 198.56L551.6 198.49L552.1 198.48L552.6 198.41L553.1 198.46L553.6 198.30L554.1 198.53L554.6 198.58L555.1 198.57L555.6 198.47L556.1 198.60L556.6 198.51L557.1 198.56L557.6 198.48L558.1 198.43L558.6 198.34L559.1 198.11L559.6 198.48L560.1 198.39L560.6 198.62L561.1 198.16L561.6 198.48L562.1 198.27L562.6 198.37L563.1 198.26L563.6 198.39L564.1 198.34L564.6 198.44L565.1 198.34L565.6 198.34L566.1 198.34L566.6 198.08L567.1 197.76L567.6 197.71L568.1 197.49L568.6 197.67L569.1 197.81L569.6 197.98L570.1 197.84L570.6 198.32L571.1 198.12L571.6 198.34L572.1 198.45L572.6 198.09L573.1 198.33L573.6 198.22L574.1 198.27L574.6 198.08L575.1 198.21L575.6 198.22L576.1 198.36L576.6 198.43L577.1 198.22L577.6 198.14L578.1 198.42L578.6 198.15L579.1 198.15L579.6 198.16L580.1 198.20L580.6 198.22L581.1 198.07L581.6 198.11L582.1 198.33L582.6 198.30L583.1 198.16L583.6 198.13L584.1 198.07L584.6 198.21L585.1 198.02L585.6 198.09L586.1 198.02L586.6 197.99L587.1 198.06L587.6 198.05L588.1 197.98L588.6 198.03L589.1 198.04L589.6 197.97L590.1 197.94L590.6 198.00L591.1 198.09L591.6 198.13L592.1 198.01L592.6 197.96L593.1 197.98L593.6 198.19L594.1 198.07L594.6 197.85L595.1 197.95L595.6 197.89L596.1 197.90L596.6 197.74L597.1 197.93L597.6 197.77L598.1 197.85L598.6 198.08L599.1 198.02L599.6 197.80L600.1 197.77L600.6 197.78L601.1 197.66L601.6 197.76L602.1 197.84L602.6 197.74L603.1 197.94L603.6 197.84L604.1 197.78L604.6 198.03L605.1 197.91L605.6 197.83L606.1 198.03L606.6 197.96L607.1 197.72L607.6 197.83L608.1 197.74L608.6 197.62L609.1 197.99L609.6 197.94L610.1 197.62L610.6 197.81L611.1 197.56L611.6 197.87L612.1 197.73L612.6 197.70L613.1 197.87L613.6 197.72L614.1 197.68L614.6 197.81L615.1 197.67" stroke="#2a5cd2" class="tr"/>
<path d="M335.6 214.78L336.1 214.83L336.6 214.83L337.1 214.74L337.6 215.08L338.1 214.75L338.6 215.00L339.1 214.93L339.6 214.57L340.1 214.83L340.6 214.92L341.1 214.90L341.6 214.70L342.1 214.83L342.6 214.66L343.1 214.68L343.6 214.77L344.1 214.82L344.6 214.99L345.1 214.84L345.6 214.93L346.1 214.66L346.6 214.67L347.1 214.75L347.6 215.01L348.1 214.65L348.6 214.62L349.1 214.79L349.6 214.94L350.1 214.61L350.6 214.77L351.1 214.64L351.6 214.97L352.1 214.88L352.6 214.83L353.1 214.80L353.6 214.77L354.1 214.82L354.6 214.73L355.1 214.70L355.6 214.67L356.1 214.80L356.6 214.71L357.1 214.90L357.6 214.56L358.1 214.87L358.6 214.86L359.1 214.94L359.6 214.77L360.1 214.63L360.6 214.69L361.1 214.93L361.6 214.77L362.1 214.75L362.6 214.73L363.1 214.79L363.6 214.77L364.1 214.62L364.6 214.73L365.1 214.92L365.6 214.97L366.1 214.79L366.6 214.74L367.1 214.96L367.6 214.78L368.1 214.66L368.6 214.79L369.1 214.88L369.6 214.98L370.1 214.74L370.6 214.86L371.1 214.76L371.6 214.93L372.1 214.83L372.6 214.83L373.1 214.69L373.6 214.76L374.1 214.76L374.6 214.38L375.1 214.90L375.6 214.80L376.1 214.78L376.6 214.76L377.1 214.80L377.6 214.83L378.1 214.65L378.6 214.82L379.1 214.81L379.6 214.80L380.1 214.63L380.6 214.78L381.1 214.65L381.6 214.84L382.1 214.95L382.6 214.90L383.1 214.76L383.6 214.74L384.1 214.73L384.6 214.84L385.1 214.72L385.6 214.74L386.1 214.51L386.6 214.70L387.1 214.71L387.6 214.74L388.1 214.94L388.6 214.64L389.1 214.65L389.6 214.87L390.1 214.69L390.6 214.78L391.1 214.82L391.6 214.80L392.1 214.71L392.6 214.91L393.1 214.98L393.6 214.68L394.1 214.77L394.6 214.91L395.1 214.78L395.6 214.68L396.1 214.75L396.6 214.90L397.1 214.68L397.6 214.83L398.1 214.85L398.6 214.72L399.1 214.87L399.6 214.88L400.1 214.92L400.6 214.91L401.1 214.63L401.6 214.91L402.1 214.87L402.6 214.91L403.1 214.70L403.6 214.91L404.1 214.84L404.6 214.67L405.1 214.95L405.6 214.71L406.1 214.68L406.6 214.85L407.1 214.73L407.6 214.84L408.1 214.77L408.6 214.83L409.1 214.89L409.6 214.79L410.1 214.89L410.6 214.88L411.1 214.67L411.6 214.84L412.1 214.77L412.6 214.64L413.1 214.66L413.6 214.58L414.1 214.30L414.6 213.82L415.1 213.79L415.6 213.45L416.1 213.16L416.6 212.99L417.1 212.71L417.6 212.82L418.1 212.64L418.6 212.67L419.1 212.91L419.6 213.13L420.1 213.44L420.6 213.65L421.1 213.84L421.6 214.10L422.1 214.04L422.6 214.28L423.1 214.69L423.6 214.62L424.1 214.93L424.6 214.96L425.1 214.63L425.6 214.82L426.1 215.13L426.6 214.71L427.1 214.85L427.6 214.77L428.1 214.77L428.6 214.77L429.1 214.80L429.6 214.89L430.1 214.71L430.6 214.86L431.1 214.72L431.6 214.86L432.1 214.84L432.6 214.71L433.1 214.82L433.6 214.72L434.1 214.70L434.6 214.94L435.1 214.59L435.6 214.87L436.1 214.88L436.6 214.73L437.1 214.93L437.6 214.91L438.1 214.65L438.6 214.86L439.1 214.86L439.6 214.72L440.1 214.87L440.6 214.89L441.1 214.72L441.6 214.57L442.1 214.85L442.6 214.72L443.1 214.60L443.6 214.76L444.1 214.52L444.6 214.76L445.1 214.98L445.6 214.47L446.1 214.86L446.6 214.69L447.1 214.75L447.6 214.70L448.1 214.88L448.6 214.80L449.1 214.71L449.6 214.65L450.1 214.75L450.6 214.94L451.1 214.66L451.6 214.85L452.1 214.84L452.6 214.57L453.1 214.93L453.6 214.80L454.1 215.06L454.6 215.00L455.1 214.77L455.6 214.78L456.1 214.68L456.6 214.64L457.1 214.90L457.6 214.77L458.1 214.76L458.6 214.78L459.1 214.88L459.6 214.91L460.1 214.80L460.6 214.77L461.1 214.79L461.6 215.01L462.1 214.51L462.6 214.61L463.1 214.79L463.4 214.74L464.3 213.25L465.1 211.32L465.6 210.91L466.4 211.37L467.2 210.80L468.1 212.20L468.9 214.32L469.6 215.61L470.2 215.08L471.0 213.87L471.8 214.56L472.1 214.48L472.6 214.49L473.1 214.46L473.6 214.38L474.1 214.62L474.6 214.52L475.1 214.60L475.6 214.34L476.1 214.22L476.6 214.36L477.1 214.41L477.6 214.51L478.1 214.53L478.6 214.54L479.1 214.56L479.6 214.46L480.1 214.37L480.6 214.26L481.1 214.42L481.6 214.27L482.1 214.22L482.6 214.37L483.1 214.32L483.6 214.38L484.1 214.19L484.6 214.40L485.1 214.29L485.6 214.22L486.1 214.14L486.6 214.09L487.1 214.05L487.6 214.36L488.1 214.02L488.6 214.25L489.1 214.13L489.6 214.08L490.1 214.09L490.6 214.12L491.1 214.23L491.6 214.17L492.1 214.10L492.6 213.92L493.1 213.87L493.6 214.28L494.1 213.93L494.6 213.86L495.1 214.16L495.6 213.84L496.1 214.10L496.6 214.11L497.1 214.02L497.6 214.09L498.1 213.80L498.6 213.81L499.1 213.92L499.6 213.93L500.1 213.91L500.6 213.96L501.1 213.81L501.6 213.64L502.1 213.92L502.6 213.84L503.1 213.95L503.6 214.09L504.1 213.84L504.6 213.89L505.1 213.71L505.6 213.91L506.1 213.83L506.6 213.81L507.1 213.87L507.6 213.62L508.1 213.81L508.6 213.79L509.1 213.91L509.6 213.50L510.1 214.25L510.6 213.53L511.1 214.30L511.6 212.99L512.1 214.13L512.6 213.44L513.1 214.25L513.6 212.84L514.1 214.15L514.6 213.19L515.1 213.82L515.6 212.75L516.1 214.27L516.6 213.10L517.1 214.06L517.6 212.91L518.1 213.95L518.6 213.22L519.1 214.02L519.6 212.68L520.1 213.92L520.6 213.25L521.1 213.77L521.6 213.11L522.1 214.10L522.6 213.12L523.1 213.96L523.6 213.00L524.1 213.83L524.6 212.46L525.1 212.83L525.6 210.28L526.1 210.89L526.6 210.51L527.1 212.78L527.6 212.64L528.1 213.57L528.6 213.04L529.1 213.69L529.6 212.88L530.1 213.61L530.6 212.91L531.1 213.74L531.6 212.64L532.1 213.81L532.6 212.82L533.1 213.56L533.6 212.88L534.1 213.41L534.6 212.42L535.1 213.26L535.6 212.56L536.1 213.49L536.6 212.84L537.1 213.53L537.6 212.49L538.1 213.62L538.6 212.49L539.1 213.27L539.6 212.56L540.1 213.66L540.6 212.43L541.1 213.48L541.6 212.01L542.1 213.56L542.6 212.59L543.1 213.55L543.6 212.65L544.1 213.55L544.6 212.54L545.1 213.03L545.6 212.71L546.1 213.20L546.6 212.86L547.1 212.81L547.6 213.05L548.1 212.93L548.6 212.97L549.1 212.77L549.6 212.86L550.1 212.90L550.6 212.67L551.1 212.77L551.6 212.76L552.1 212.74L552.6 212.68L553.1 212.61L553.6 212.79L554.1 212.76L554.6 212.86L555.1 212.70L555.6 212.62L556.1 212.52L556.6 212.69L557.1 212.63L557.6 212.89L558.1 212.91L558.6 212.82L559.1 212.51L559.6 212.45L560.1 212.57L560.6 212.48L561.1 212.74L561.6 212.58L562.1 212.50L562.6 212.54L563.1 212.68L563.6 212.41L564.1 212.56L564.6 212.34L565.1 212.46L565.6 212.39L566.1 212.49L566.6 212.46L567.1 212.57L567.6 212.50L568.1 212.34L568.6 212.24L569.1 212.29L569.6 212.32L570.1 212.34L570.6 212.26L571.1 212.47L571.6 212.44L572.1 212.28L572.6 212.24L573.1 212.26L573.6 212.27L574.1 212.26L574.6 212.07L575.1 212.19L575.6 212.01L576.1 212.22L576.6 212.29L577.1 212.07L577.6 212.20L578.1 212.10L578.6 212.08L579.1 212.38L579.6 212.24L580.1 212.18L580.6 212.06L581.1 212.15L581.6 212.07L582.1 212.13L582.6 211.96L583.1 212.05L583.6 212.00L584.1 211.86L584.6 212.22L585.1 212.10L585.6 211.90L586.1 211.81L586.6 211.89L587.1 211.86L587.6 211.88L588.1 211.76L588.6 211.83L589.1 211.92L589.6 211.95L590.1 211.66L590.6 211.88L591.1 211.75L591.6 211.73L592.1 211.80L592.6 211.75L593.1 211.90L593.6 211.89L594.1 211.76L594.6 211.71L595.1 211.98L595.6 211.98L596.1 211.79L596.6 211.72L597.1 211.84L597.6 211.88L598.1 211.64L598.6 211.90L599.1 211.66L599.6 211.79L600.1 211.59L600.6 211.65L601.1 211.58L601.6 211.62L602.1 211.73L602.6 211.49L603.1 211.55L603.6 211.63L604.1 211.50L604.6 211.79L605.1 211.36L605.6 211.82L606.1 211.43L606.6 211.61L607.1 211.68L607.6 211.54L608.1 211.30L608.6 211.41L609.1 211.45L609.6 211.49L610.1 211.53L610.6 211.54L611.1 211.57L611.6 211.27L612.1 211.49L612.6 211.15L613.1 211.36L613.6 211.21L614.1 211.11L614.6 211.42L615.1 211.30" stroke="#e4383c" class="tr"/>
<path d="M335.6 228.93L336.1 228.85L336.6 228.87L337.1 228.98L337.6 228.96L338.1 228.87L338.6 228.75L339.1 228.74L339.6 228.92L340.1 229.09L340.6 229.02L341.1 228.92L341.6 228.97L342.1 229.02L342.6 229.16L343.1 228.87L343.6 229.06L344.1 229.02L344.6 228.90L345.1 228.82L345.6 229.34L346.1 228.54L346.6 228.01L347.1 230.12L347.6 229.19L348.1 229.71L348.6 230.04L349.1 229.45L349.6 229.52L350.1 229.76L350.6 230.14L351.1 229.71L351.6 230.32L352.1 229.65L352.6 229.50L353.1 229.74L353.6 229.81L354.1 229.90L354.6 230.81L355.1 230.28L355.6 229.85L356.1 230.86L356.6 230.32L357.1 230.29L357.6 230.21L358.1 229.80L358.6 229.52L359.1 229.98L359.6 229.72L360.1 229.19L360.6 229.64L361.1 229.42L361.6 229.16L362.1 228.81L362.6 229.61L363.1 230.39L363.6 230.09L364.1 230.15L364.6 229.51L365.1 229.85L365.6 229.31L366.1 229.38L366.6 229.60L367.1 228.91L367.6 229.38L368.1 229.37L368.6 230.07L369.1 228.69L369.6 229.39L370.1 228.69L370.6 229.06L371.1 227.90L371.6 228.56L372.1 229.25L372.6 228.97L373.1 229.19L373.6 229.22L374.1 229.17L374.6 229.02L375.1 229.14L375.6 229.12L376.1 229.15L376.6 229.31L377.1 229.33L377.6 229.31L378.1 229.04L378.6 229.02L379.1 229.11L379.6 229.16L380.1 228.85L380.6 229.02L381.1 229.30L381.6 228.94L382.1 228.99L382.6 228.99L383.1 229.13L383.6 229.06L384.1 229.02L384.6 228.87L385.1 229.12L385.6 229.04L386.1 228.96L386.6 229.04L387.1 229.12L387.6 228.85L388.1 228.83L388.6 228.89L389.1 228.90L389.6 228.64L390.1 228.93L390.6 229.13L391.1 228.95L391.6 229.11L392.1 228.63L392.6 228.96L393.1 229.14L393.6 229.15L394.1 228.90L394.6 228.85L395.1 229.00L395.6 228.80L396.1 228.90L396.6 228.73L397.1 228.94L397.6 228.92L398.1 229.11L398.6 228.96L399.1 228.83L399.6 228.89L400.1 228.74L400.6 228.90L401.1 228.87L401.6 228.94L402.1 229.00L402.6 228.64L403.1 228.92L403.6 228.96L404.1 228.73L404.6 229.10L405.1 228.78L405.6 229.16L406.1 228.95L406.6 228.97L407.1 228.89L407.6 228.97L408.1 228.72L408.6 228.75L409.1 228.60L409.6 228.90L410.1 228.74L410.6 228.91L411.1 228.88L411.6 228.62L412.1 228.84L412.6 228.74L413.1 228.66L413.6 228.60L414.1 228.43L414.6 228.29L415.1 228.25L415.6 227.83L416.1 227.62L416.6 227.52L417.1 227.61L417.6 227.36L418.1 227.61L418.6 227.05L419.1 227.43L419.6 227.59L420.1 227.84L420.6 228.14L421.1 228.13L421.6 228.18L422.1 228.53L422.6 228.71L423.1 228.29L423.6 228.72L424.1 228.72L424.6 228.60L425.1 228.66L425.6 228.75L426.1 228.72L426.6 228.69L427.1 228.58L427.6 228.75L428.1 228.63L428.6 228.72L429.1 228.64L429.6 228.73L430.1 228.79L430.6 228.72L431.1 228.77L431.6 228.52L432.1 228.74L432.6 228.72L433.1 228.60L433.6 228.66L434.1 228.34L434.6 228.68L435.1 228.62L435.6 228.39L436.1 228.72L436.6 228.58L437.1 228.69L437.6 228.62L438.1 228.70L438.6 228.65L439.1 228.60L439.6 228.69L440.1 228.73L440.6 228.36L441.1 228.63L441.6 228.55L442.1 228.49L442.6 228.77L443.1 228.73L443.6 228.48L444.1 228.47L444.6 228.70L445.1 228.52L445.6 228.56L446.1 228.36L446.6 228.57L447.1 228.72L447.6 228.53L448.1 228.56L448.6 228.78L449.1 228.68L449.6 228.74L450.1 228.64L450.6 228.71L451.1 228.36L451.6 228.46L452.1 228.35L452.6 228.82L453.1 228.57L453.6 228.53L454.1 228.45L454.6 228.41L455.1 228.20L455.6 228.80L456.1 228.52L456.6 228.53L457.1 228.35L457.6 228.51L458.1 228.56L458.6 228.50L459.1 228.58L459.6 228.40L460.1 228.54L460.6 228.61L461.1 228.57L461.6 228.56L462.1 228.50L462.6 228.40L463.0 228.59L463.9 227.20L464.7 225.60L465.2 225.43L466.0 225.79L466.8 225.34L467.7 226.72L468.5 228.35L469.2 229.32L469.8 228.89L470.6 228.15L471.4 228.57L471.6 228.48L472.1 228.63L472.6 228.60L473.1 228.60L473.6 228.72L474.1 228.63L474.6 228.54L475.1 228.62L475.6 228.84L476.1 228.52L476.6 228.58L477.1 228.52L477.6 228.66L478.1 228.47L478.6 228.68L479.1 228.72L479.6 228.54L480.1 228.53L480.6 228.46L481.1 228.64L481.6 228.51L482.1 228.57L482.6 228.60L483.1 228.57L483.6 228.76L484.1 228.85L484.6 228.41L485.1 228.57L485.6 228.70L486.1 228.55L486.6 228.61L487.1 228.70L487.6 228.85L488.1 228.83L488.6 228.65L489.1 228.71L489.6 228.65L490.1 228.68L490.6 228.56L491.1 228.49L491.6 228.67L492.1 228.83L492.6 228.81L493.1 228.50L493.6 228.70L494.1 228.65L494.6 228.76L495.1 228.60L495.6 228.85L496.1 228.72L496.6 228.81L497.1 228.85L497.6 228.52L498.1 228.73L498.6 228.94L499.1 228.76L499.6 228.89L500.1 228.82L500.6 228.71L501.1 228.81L501.6 228.90L502.1 228.93L502.6 228.96L503.1 228.65L503.6 228.89L504.1 228.63L504.6 228.78L505.1 228.78L505.6 228.88L506.1 228.84L506.6 228.96L507.1 228.74L507.6 228.92L508.1 228.87L508.6 228.82L509.1 228.68L509.6 228.90L510.1 228.87L510.6 228.93L511.1 228.84L511.6 228.81L512.1 228.89L512.6 228.91L513.1 228.94L513.6 229.08L514.1 228.79L514.6 229.10L515.1 228.51L515.6 228.99L516.1 228.78L516.6 229.12L517.1 228.77L517.6 229.01L518.1 228.77L518.6 228.75L519.1 228.99L519.6 229.00L520.1 228.82L520.6 229.20L521.1 228.88L521.6 229.11L522.1 228.81L522.6 228.82L523.1 228.96L523.6 228.83L524.1 229.02L524.6 228.71L525.1 229.34L525.6 229.07L526.1 228.92L526.6 229.76L527.1 229.14L527.6 228.59L528.1 229.06L528.6 229.05L529.1 229.56L529.6 228.94L530.1 229.17L530.6 229.45L531.1 228.78L531.6 229.17L532.1 228.55L532.6 229.05L533.1 228.26L533.6 228.84L534.1 229.51L534.6 229.31L535.1 229.13L535.6 229.14L536.1 229.84L536.6 229.40L537.1 229.63L537.6 228.96L538.1 229.11L538.6 228.95L539.1 229.02L539.6 229.00L540.1 229.38L540.6 229.33L541.1 229.15L541.6 228.73L542.1 228.10L542.6 228.76L543.1 229.10L543.6 229.08L544.1 228.06L544.6 228.09L545.1 228.81L545.6 228.90L546.1 228.78L546.6 228.57L547.1 228.20L547.6 227.94L548.1 227.85L548.6 227.84L549.1 228.13L549.6 228.32L550.1 228.72L550.6 228.40L551.1 228.32L551.6 228.48L552.1 228.54L552.6 228.23L553.1 228.33L553.6 228.14L554.1 228.20L554.6 228.44L555.1 228.24L555.6 228.15L556.1 228.16L556.6 228.15L557.1 228.08L557.6 227.91L558.1 227.88L558.6 228.22L559.1 227.82L559.6 227.90L560.1 227.39L560.6 227.34L561.1 227.18L561.6 227.25L562.1 227.80L562.6 227.65L563.1 227.81L563.6 227.75L564.1 227.75L564.6 227.80L565.1 227.72L565.6 227.79L566.1 228.01L566.6 227.61L567.1 227.66L567.6 227.69L568.1 227.74L568.6 227.91L569.1 227.87L569.6 227.83L570.1 227.80L570.6 228.05L571.1 227.62L571.6 227.61L572.1 227.74L572.6 227.76L573.1 227.70L573.6 227.63L574.1 227.56L574.6 227.68L575.1 227.62L575.6 227.64L576.1 227.57L576.6 227.85L577.1 227.74L577.6 227.90L578.1 227.61L578.6 227.67L579.1 227.63L579.6 227.65L580.1 227.61L580.6 227.62L581.1 227.40L581.6 227.59L582.1 227.70L582.6 227.38L583.1 227.56L583.6 227.67L584.1 227.74L584.6 227.58L585.1 227.63L585.6 227.78L586.1 227.72L586.6 227.51L587.1 227.48L587.6 227.67L588.1 227.57L588.6 227.47L589.1 227.50L589.6 227.56L590.1 227.49L590.6 227.48L591.1 227.48L591.6 227.32L592.1 227.70L592.6 227.63L593.1 227.66L593.6 227.46L594.1 227.48L594.6 227.53L595.1 227.55L595.6 227.23L596.1 227.48L596.6 227.32L597.1 227.42L597.6 227.34L598.1 227.62L598.6 227.47L599.1 227.40L599.6 227.56L600.1 227.38L600.6 227.30L601.1 227.35L601.6 227.33L602.1 227.37L602.6 227.46L603.1 227.34L603.6 227.34L604.1 227.46L604.6 227.37L605.1 227.44L605.6 227.34L606.1 227.16L606.6 227.17L607.1 227.10L607.6 227.43L608.1 227.34L608.6 227.22L609.1 227.16L609.6 227.31L610.1 227.25L610.6 227.29L611.1 227.15L611.6 227.11L612.1 227.42L612.6 227.12L613.1 227.22L613.6 227.38L614.1 226.99L614.6 227.29L615.1 227.21" stroke="#3c3c3c" class="tr"/>
<path d="M37.5 67.5H52.5M37.5 67.5V239.5M52.5 67.5V239.5M37.5 239.5H52.5" class="db"/>
<path d="M91.5 67.5H106.5M91.5 67.5V239.5M106.5 67.5V239.5M91.5 239.5H106.5" class="db"/>
<path d="M142.5 20.5H157.5M142.5 20.5V237.5M157.5 20.5V237.5M142.5 237.5H157.5" class="db"/>
<path d="M159.5 67.5H171.5M159.5 67.5V239.5M171.5 67.5V239.5M159.5 239.5H171.5" class="db"/>
<path d="M203.5 67.5H222.5M203.5 67.5V239.5M222.5 67.5V239.5M203.5 239.5H222.5" class="db"/>
<path d="M232.5 67.5H246.5M232.5 67.5V239.5M246.5 67.5V239.5M232.5 239.5H246.5" class="db"/>
<path d="M354.5 58.5H369.5M354.5 58.5V234.5M369.5 58.5V234.5M354.5 234.5H369.5" class="db"/>
<path d="M409.5 58.5H424.5M409.5 58.5V233.5M424.5 58.5V233.5M409.5 233.5H424.5" class="db"/>
<path d="M459.5 20.5H474.5M459.5 20.5V234.5M474.5 20.5V234.5M459.5 234.5H474.5" class="db"/>
<path d="M479.5 55.5H490.5M479.5 55.5V234.5M490.5 55.5V234.5M479.5 234.5H490.5" class="db"/>
<path d="M521.5 58.5H542.5M521.5 58.5V234.5M542.5 58.5V234.5M521.5 234.5H542.5" class="db"/>
<path d="M548.5 58.5H569.5M548.5 58.5V234.5M569.5 58.5V234.5M548.5 234.5H569.5" class="db"/>
<rect x="15.7" y="17.1" width="281.3" height="226.4" fill="none" stroke="#111" stroke-width="1.6"/>
<rect x="335.1" y="16.9" width="280.9" height="226.79999999999998" fill="none" stroke="#111" stroke-width="1.6"/>
<line x1="15.70" y1="243.5" x2="15.70" y2="248.9" stroke="#111" stroke-width="1.3"/>
<line x1="35.79" y1="243.5" x2="35.79" y2="246.9" stroke="#111" stroke-width="1.3"/>
<line x1="55.89" y1="243.5" x2="55.89" y2="248.9" stroke="#111" stroke-width="1.3"/>
<line x1="75.98" y1="243.5" x2="75.98" y2="246.9" stroke="#111" stroke-width="1.3"/>
<line x1="96.07" y1="243.5" x2="96.07" y2="248.9" stroke="#111" stroke-width="1.3"/>
<line x1="116.16" y1="243.5" x2="116.16" y2="246.9" stroke="#111" stroke-width="1.3"/>
<line x1="136.26" y1="243.5" x2="136.26" y2="248.9" stroke="#111" stroke-width="1.3"/>
<line x1="156.35" y1="243.5" x2="156.35" y2="246.9" stroke="#111" stroke-width="1.3"/>
<line x1="176.44" y1="243.5" x2="176.44" y2="248.9" stroke="#111" stroke-width="1.3"/>
<line x1="196.54" y1="243.5" x2="196.54" y2="246.9" stroke="#111" stroke-width="1.3"/>
<line x1="216.63" y1="243.5" x2="216.63" y2="248.9" stroke="#111" stroke-width="1.3"/>
<line x1="236.72" y1="243.5" x2="236.72" y2="246.9" stroke="#111" stroke-width="1.3"/>
<line x1="256.81" y1="243.5" x2="256.81" y2="248.9" stroke="#111" stroke-width="1.3"/>
<line x1="276.91" y1="243.5" x2="276.91" y2="246.9" stroke="#111" stroke-width="1.3"/>
<line x1="297.00" y1="243.5" x2="297.00" y2="248.9" stroke="#111" stroke-width="1.3"/>
<text x="15.70" y="260.5" text-anchor="middle" class="tk">4000</text>
<text x="55.89" y="260.5" text-anchor="middle" class="tk">3500</text>
<text x="96.07" y="260.5" text-anchor="middle" class="tk">3000</text>
<text x="136.26" y="260.5" text-anchor="middle" class="tk">2500</text>
<text x="176.44" y="260.5" text-anchor="middle" class="tk">2000</text>
<text x="216.63" y="260.5" text-anchor="middle" class="tk">1500</text>
<text x="256.81" y="260.5" text-anchor="middle" class="tk">1000</text>
<text x="297.00" y="260.5" text-anchor="middle" class="tk">500</text>
<line x1="335.10" y1="243.7" x2="335.10" y2="249.1" stroke="#111" stroke-width="1.3"/>
<line x1="355.16" y1="243.7" x2="355.16" y2="247.1" stroke="#111" stroke-width="1.3"/>
<line x1="375.23" y1="243.7" x2="375.23" y2="249.1" stroke="#111" stroke-width="1.3"/>
<line x1="395.29" y1="243.7" x2="395.29" y2="247.1" stroke="#111" stroke-width="1.3"/>
<line x1="415.36" y1="243.7" x2="415.36" y2="249.1" stroke="#111" stroke-width="1.3"/>
<line x1="435.42" y1="243.7" x2="435.42" y2="247.1" stroke="#111" stroke-width="1.3"/>
<line x1="455.49" y1="243.7" x2="455.49" y2="249.1" stroke="#111" stroke-width="1.3"/>
<line x1="475.55" y1="243.7" x2="475.55" y2="247.1" stroke="#111" stroke-width="1.3"/>
<line x1="495.61" y1="243.7" x2="495.61" y2="249.1" stroke="#111" stroke-width="1.3"/>
<line x1="515.68" y1="243.7" x2="515.68" y2="247.1" stroke="#111" stroke-width="1.3"/>
<line x1="535.74" y1="243.7" x2="535.74" y2="249.1" stroke="#111" stroke-width="1.3"/>
<line x1="555.81" y1="243.7" x2="555.81" y2="247.1" stroke="#111" stroke-width="1.3"/>
<line x1="575.87" y1="243.7" x2="575.87" y2="249.1" stroke="#111" stroke-width="1.3"/>
<line x1="595.94" y1="243.7" x2="595.94" y2="247.1" stroke="#111" stroke-width="1.3"/>
<line x1="616.00" y1="243.7" x2="616.00" y2="249.1" stroke="#111" stroke-width="1.3"/>
<text x="335.10" y="260.5" text-anchor="middle" class="tk">4000</text>
<text x="375.23" y="260.5" text-anchor="middle" class="tk">3500</text>
<text x="415.36" y="260.5" text-anchor="middle" class="tk">3000</text>
<text x="455.49" y="260.5" text-anchor="middle" class="tk">2500</text>
<text x="495.61" y="260.5" text-anchor="middle" class="tk">2000</text>
<text x="535.74" y="260.5" text-anchor="middle" class="tk">1500</text>
<text x="575.87" y="260.5" text-anchor="middle" class="tk">1000</text>
<text x="616.00" y="260.5" text-anchor="middle" class="tk">500</text>
<text x="59.6" y="70.19999999999999" class="tl">800</text>
<circle cx="73.50" cy="64.90" r="0.75" fill="#222"/>
<text x="73.80" y="70.19999999999999" class="cc">C</text>
<text x="59.6" y="90.89999999999999" class="tl">700</text>
<circle cx="73.50" cy="85.60" r="0.75" fill="#222"/>
<text x="73.80" y="90.89999999999999" class="cc">C</text>
<text x="59.6" y="109.39999999999999" class="tl">600</text>
<circle cx="73.50" cy="104.10" r="0.75" fill="#222"/>
<text x="73.80" y="109.39999999999999" class="cc">C</text>
<text x="59.6" y="127.69999999999999" class="tl">550</text>
<circle cx="73.50" cy="122.40" r="0.75" fill="#222"/>
<text x="73.80" y="127.69999999999999" class="cc">C</text>
<text x="59.6" y="145.9" class="tl">500</text>
<circle cx="73.50" cy="140.60" r="0.75" fill="#222"/>
<text x="73.80" y="145.9" class="cc">C</text>
<text x="58.800000000000004" y="161.79999999999998" class="tl">450</text>
<circle cx="72.70" cy="156.50" r="0.75" fill="#222"/>
<text x="73.00" y="161.79999999999998" class="cc">C</text>
<text x="58.800000000000004" y="177.0" class="tl">400</text>
<circle cx="72.70" cy="171.70" r="0.75" fill="#222"/>
<text x="73.00" y="177.0" class="cc">C</text>
<text x="58.800000000000004" y="192.7" class="tl">310</text>
<circle cx="72.70" cy="187.40" r="0.75" fill="#222"/>
<text x="73.00" y="192.7" class="cc">C</text>
<text x="58.800000000000004" y="206.6" class="tl">300</text>
<circle cx="72.70" cy="201.30" r="0.75" fill="#222"/>
<text x="73.00" y="206.6" class="cc">C</text>
<text x="58.800000000000004" y="220.6" class="tl">250</text>
<circle cx="72.70" cy="215.30" r="0.75" fill="#222"/>
<text x="73.00" y="220.6" class="cc">C</text>
<text x="58.800000000000004" y="233.7" class="tl">200</text>
<circle cx="72.70" cy="228.40" r="0.75" fill="#222"/>
<text x="73.00" y="233.7" class="cc">C</text>
<text x="377.8" y="58.300000000000004" class="tl">800</text>
<circle cx="391.70" cy="53.00" r="0.75" fill="#222"/>
<text x="392.00" y="58.300000000000004" class="cc">C</text>
<text x="377.8" y="78.39999999999999" class="tl">700</text>
<circle cx="391.70" cy="73.10" r="0.75" fill="#222"/>
<text x="392.00" y="78.39999999999999" class="cc">C</text>
<text x="377.8" y="95.8" class="tl">600</text>
<circle cx="391.70" cy="90.50" r="0.75" fill="#222"/>
<text x="392.00" y="95.8" class="cc">C</text>
<text x="377.5" y="113.4" class="tl">550</text>
<circle cx="391.40" cy="108.10" r="0.75" fill="#222"/>
<text x="391.70" y="113.4" class="cc">C</text>
<text x="377.2" y="131.4" class="tl">500</text>
<circle cx="391.10" cy="126.10" r="0.75" fill="#222"/>
<text x="391.40" y="131.4" class="cc">C</text>
<text x="377.0" y="149.29999999999998" class="tl">450</text>
<circle cx="390.90" cy="144.00" r="0.75" fill="#222"/>
<text x="391.20" y="149.29999999999998" class="cc">C</text>
<text x="377.1" y="165.7" class="tl">400</text>
<circle cx="391.00" cy="160.40" r="0.75" fill="#222"/>
<text x="391.30" y="165.7" class="cc">C</text>
<text x="377.1" y="180.89999999999998" class="tl">340</text>
<circle cx="391.00" cy="175.60" r="0.75" fill="#222"/>
<text x="391.30" y="180.89999999999998" class="cc">C</text>
<text x="377.1" y="196.7" class="tl">330</text>
<circle cx="391.00" cy="191.40" r="0.75" fill="#222"/>
<text x="391.30" y="196.7" class="cc">C</text>
<text x="377.1" y="210.6" class="tl">250</text>
<circle cx="391.00" cy="205.30" r="0.75" fill="#222"/>
<text x="391.30" y="210.6" class="cc">C</text>
<text x="377.1" y="225.79999999999998" class="tl">200</text>
<circle cx="391.00" cy="220.50" r="0.75" fill="#222"/>
<text x="391.30" y="225.79999999999998" class="cc">C</text>
<text x="25.3" y="50.6" class="an">H<tspan class="sub" dy="2.6">2</tspan><tspan dy="-2.6">O</tspan></text>
<text x="66.2" y="50.6" class="an">Hydrocarbons</text>
<text x="99.9" y="30.8" class="an">CO<tspan class="sub" dy="3">2</tspan></text>
<text x="166.5" y="50.6" class="an">CO</text>
<text x="174.1" y="33.2" class="an">Aromatic compounds</text>
<text x="220.9" y="52.9" class="an">Ether compounds</text>
<line x1="36.9" y1="53.4" x2="39.49" y2="59.25" stroke="#111" stroke-width="0.9"/>
<polygon points="41.6,64.0 38.08,59.87 40.91,58.62" fill="#111"/>
<line x1="94.0" y1="53.1" x2="97.07" y2="59.25" stroke="#111" stroke-width="0.9"/>
<polygon points="99.4,63.9 95.69,59.94 98.46,58.56" fill="#111"/>
<line x1="118.8" y1="26.2" x2="135.60" y2="26.51" stroke="#111" stroke-width="0.9"/>
<polygon points="140.8,26.6 135.57,28.06 135.63,24.96" fill="#111"/>
<line x1="171.6" y1="52.3" x2="169.30" y2="57.80" stroke="#111" stroke-width="0.9"/>
<polygon points="167.3,62.6 167.87,57.20 170.73,58.40" fill="#111"/>
<line x1="206.2" y1="37.9" x2="210.86" y2="58.53" stroke="#111" stroke-width="0.9"/>
<polygon points="212,63.6 209.34,58.87 212.37,58.19" fill="#111"/>
<line x1="243.7" y1="54.6" x2="241.64" y2="58.91" stroke="#111" stroke-width="0.9"/>
<polygon points="239.4,63.6 240.24,58.24 243.04,59.58" fill="#111"/>
<text x="344.4" y="41.4" class="an">H<tspan class="sub" dy="2.6">2</tspan><tspan dy="-2.6">O</tspan></text>
<text x="381.8" y="41.4" class="an">Hydrocarbons</text>
<text x="417.3" y="28.3" class="an">CO<tspan class="sub" dy="3">2</tspan></text>
<text x="482.8" y="44.2" class="an">CO</text>
<text x="486.5" y="29.1" class="an">Aromatic compounds</text>
<text x="540.9" y="45.8" class="an">Ether compounds</text>
<line x1="355.3" y1="43.6" x2="358.58" y2="51.41" stroke="#111" stroke-width="0.9"/>
<polygon points="360.6,56.2 357.16,52.01 360.01,50.81" fill="#111"/>
<line x1="410.5" y1="43.6" x2="413.20" y2="50.92" stroke="#111" stroke-width="0.9"/>
<polygon points="415.0,55.8 411.75,51.46 414.65,50.38" fill="#111"/>
<line x1="436.2" y1="23.9" x2="453.40" y2="23.90" stroke="#111" stroke-width="0.9"/>
<polygon points="458.6,23.9 453.40,25.45 453.40,22.35" fill="#111"/>
<line x1="487.3" y1="46.8" x2="485.88" y2="50.45" stroke="#111" stroke-width="0.9"/>
<polygon points="484,55.3 484.44,49.89 487.33,51.01" fill="#111"/>
<line x1="522" y1="30.5" x2="530.11" y2="51.35" stroke="#111" stroke-width="0.9"/>
<polygon points="532,56.2 528.67,51.92 531.56,50.79" fill="#111"/>
<line x1="568.7" y1="48" x2="567.14" y2="51.46" stroke="#111" stroke-width="0.9"/>
<polygon points="565,56.2 565.73,50.82 568.55,52.10" fill="#111"/>
<text x="156.8" y="275" text-anchor="middle" class="ax">Wavenumber(cm<tspan class="sup" dy="-4.2">-1</tspan><tspan dy="4.2">)</tspan></text>
<text x="475.8" y="275" text-anchor="middle" class="ax">Wavenumber(cm<tspan class="sup" dy="-4.2">-1</tspan><tspan dy="4.2">)</tspan></text>
<text transform="translate(9.3,125.3) rotate(-90)" text-anchor="middle" class="ax">Absorbance(a.u.)</text>
<text transform="translate(328.8,125.3) rotate(-90)" text-anchor="middle" class="ax">Absorbance(a.u.)</text>
<text x="17.6" y="13.5" class="pl">a</text>
<text x="336.6" y="14.0" class="pl">b</text>
</svg></body></html>
